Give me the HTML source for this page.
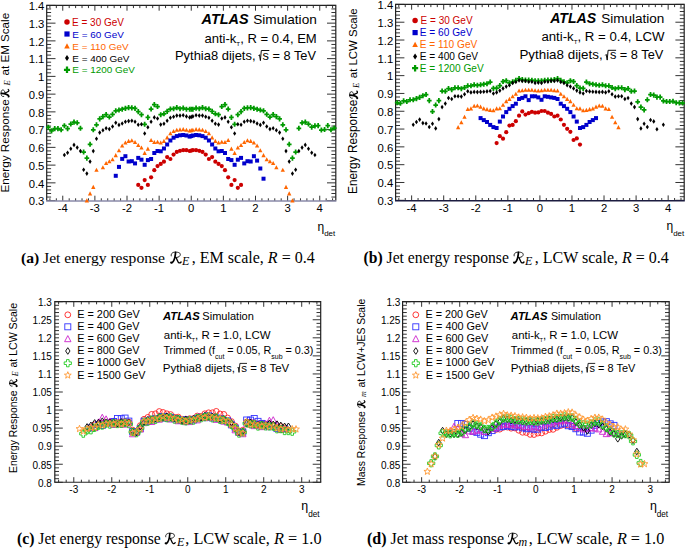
<!DOCTYPE html><html><head><meta charset="utf-8"><title>ATLAS jet response</title><style>html,body{margin:0;padding:0;background:#fff;width:685px;height:548px;overflow:hidden}svg{display:block}text{font-family:"Liberation Sans", sans-serif;fill:#000}</style></head><body>
<svg width="685" height="548" viewBox="0 0 685 548">
<rect width="685" height="548" fill="#fff"/>
<g id="gfx">
<path d="M46.7 200.6h8.8M335.8 200.6h-8.8M46.7 197.05h4.4M335.8 197.05h-4.4M46.7 193.5h4.4M335.8 193.5h-4.4M46.7 189.95h4.4M335.8 189.95h-4.4M46.7 186.4h4.4M335.8 186.4h-4.4M46.7 182.85h8.8M335.8 182.85h-8.8M46.7 179.31h4.4M335.8 179.31h-4.4M46.7 175.76h4.4M335.8 175.76h-4.4M46.7 172.21h4.4M335.8 172.21h-4.4M46.7 168.66h4.4M335.8 168.66h-4.4M46.7 165.11h8.8M335.8 165.11h-8.8M46.7 161.56h4.4M335.8 161.56h-4.4M46.7 158.01h4.4M335.8 158.01h-4.4M46.7 154.46h4.4M335.8 154.46h-4.4M46.7 150.91h4.4M335.8 150.91h-4.4M46.7 147.36h8.8M335.8 147.36h-8.8M46.7 143.81h4.4M335.8 143.81h-4.4M46.7 140.27h4.4M335.8 140.27h-4.4M46.7 136.72h4.4M335.8 136.72h-4.4M46.7 133.17h4.4M335.8 133.17h-4.4M46.7 129.62h8.8M335.8 129.62h-8.8M46.7 126.07h4.4M335.8 126.07h-4.4M46.7 122.52h4.4M335.8 122.52h-4.4M46.7 118.97h4.4M335.8 118.97h-4.4M46.7 115.42h4.4M335.8 115.42h-4.4M46.7 111.87h8.8M335.8 111.87h-8.8M46.7 108.32h4.4M335.8 108.32h-4.4M46.7 104.77h4.4M335.8 104.77h-4.4M46.7 101.23h4.4M335.8 101.23h-4.4M46.7 97.68h4.4M335.8 97.68h-4.4M46.7 94.13h8.8M335.8 94.13h-8.8M46.7 90.58h4.4M335.8 90.58h-4.4M46.7 87.03h4.4M335.8 87.03h-4.4M46.7 83.48h4.4M335.8 83.48h-4.4M46.7 79.93h4.4M335.8 79.93h-4.4M46.7 76.38h8.8M335.8 76.38h-8.8M46.7 72.83h4.4M335.8 72.83h-4.4M46.7 69.28h4.4M335.8 69.28h-4.4M46.7 65.73h4.4M335.8 65.73h-4.4M46.7 62.19h4.4M335.8 62.19h-4.4M46.7 58.64h8.8M335.8 58.64h-8.8M46.7 55.09h4.4M335.8 55.09h-4.4M46.7 51.54h4.4M335.8 51.54h-4.4M46.7 47.99h4.4M335.8 47.99h-4.4M46.7 44.44h4.4M335.8 44.44h-4.4M46.7 40.89h8.8M335.8 40.89h-8.8M46.7 37.34h4.4M335.8 37.34h-4.4M46.7 33.79h4.4M335.8 33.79h-4.4M46.7 30.24h4.4M335.8 30.24h-4.4M46.7 26.69h4.4M335.8 26.69h-4.4M46.7 23.15h8.8M335.8 23.15h-8.8M46.7 19.6h4.4M335.8 19.6h-4.4M46.7 16.05h4.4M335.8 16.05h-4.4M46.7 12.5h4.4M335.8 12.5h-4.4M46.7 8.95h4.4M335.8 8.95h-4.4M46.7 5.4h8.8M335.8 5.4h-8.8M49.91 201v-2.7M49.91 5.4v2.7M56.34 201v-2.7M56.34 5.4v2.7M62.76 201v-5.3M62.76 5.4v5.3M69.19 201v-2.7M69.19 5.4v2.7M75.61 201v-2.7M75.61 5.4v2.7M82.03 201v-2.7M82.03 5.4v2.7M88.46 201v-2.7M88.46 5.4v2.7M94.88 201v-5.3M94.88 5.4v5.3M101.31 201v-2.7M101.31 5.4v2.7M107.73 201v-2.7M107.73 5.4v2.7M114.16 201v-2.7M114.16 5.4v2.7M120.58 201v-2.7M120.58 5.4v2.7M127.01 201v-5.3M127.01 5.4v5.3M133.43 201v-2.7M133.43 5.4v2.7M139.85 201v-2.7M139.85 5.4v2.7M146.28 201v-2.7M146.28 5.4v2.7M152.7 201v-2.7M152.7 5.4v2.7M159.13 201v-5.3M159.13 5.4v5.3M165.55 201v-2.7M165.55 5.4v2.7M171.98 201v-2.7M171.98 5.4v2.7M178.4 201v-2.7M178.4 5.4v2.7M184.83 201v-2.7M184.83 5.4v2.7M191.25 201v-5.3M191.25 5.4v5.3M197.67 201v-2.7M197.67 5.4v2.7M204.1 201v-2.7M204.1 5.4v2.7M210.52 201v-2.7M210.52 5.4v2.7M216.95 201v-2.7M216.95 5.4v2.7M223.37 201v-5.3M223.37 5.4v5.3M229.8 201v-2.7M229.8 5.4v2.7M236.22 201v-2.7M236.22 5.4v2.7M242.65 201v-2.7M242.65 5.4v2.7M249.07 201v-2.7M249.07 5.4v2.7M255.49 201v-5.3M255.49 5.4v5.3M261.92 201v-2.7M261.92 5.4v2.7M268.34 201v-2.7M268.34 5.4v2.7M274.77 201v-2.7M274.77 5.4v2.7M281.19 201v-2.7M281.19 5.4v2.7M287.62 201v-5.3M287.62 5.4v5.3M294.04 201v-2.7M294.04 5.4v2.7M300.47 201v-2.7M300.47 5.4v2.7M306.89 201v-2.7M306.89 5.4v2.7M313.31 201v-2.7M313.31 5.4v2.7M319.74 201v-5.3M319.74 5.4v5.3M326.16 201v-2.7M326.16 5.4v2.7M332.59 201v-2.7M332.59 5.4v2.7" stroke="#333" stroke-width="1" fill="none"/>
<path d="M46.7 200.6V5.4H335.8V200.6" stroke="#222" stroke-width="1.2" fill="none"/>
<path d="M46.1 201H336.4" stroke="#8a8aa8" stroke-width="1.4" fill="none"/>
<g font-size="11.3"><text x="44.4" y="205.27" text-anchor="end">0.3</text><text x="44.4" y="187.52" text-anchor="end">0.4</text><text x="44.4" y="169.78" text-anchor="end">0.5</text><text x="44.4" y="152.03" text-anchor="end">0.6</text><text x="44.4" y="134.29" text-anchor="end">0.7</text><text x="44.4" y="116.54" text-anchor="end">0.8</text><text x="44.4" y="98.8" text-anchor="end">0.9</text><text x="44.4" y="81.05" text-anchor="end">1</text><text x="44.4" y="63.3" text-anchor="end">1.1</text><text x="44.4" y="45.56" text-anchor="end">1.2</text><text x="44.4" y="27.81" text-anchor="end">1.3</text><text x="44.4" y="10.07" text-anchor="end">1.4</text><text x="62.76" y="211.9" text-anchor="middle">-4</text><text x="94.88" y="211.9" text-anchor="middle">-3</text><text x="127.01" y="211.9" text-anchor="middle">-2</text><text x="159.13" y="211.9" text-anchor="middle">-1</text><text x="191.25" y="211.9" text-anchor="middle">0</text><text x="223.37" y="211.9" text-anchor="middle">1</text><text x="255.49" y="211.9" text-anchor="middle">2</text><text x="287.62" y="211.9" text-anchor="middle">3</text><text x="319.74" y="211.9" text-anchor="middle">4</text></g>
<g><path d="M187.29 109.2h4.7M189.64 106.65v5.1" stroke="#009900" stroke-width="1.75"/><path d="M188.9 109.2h4.7M191.25 106.65v5.1" stroke="#009900" stroke-width="1.75"/><path d="M190.51 109.2h4.7M192.86 106.65v5.1" stroke="#009900" stroke-width="1.75"/><path d="M184.08 109.2h4.7M186.43 106.65v5.1" stroke="#009900" stroke-width="1.75"/><path d="M193.72 108.1h4.7M196.07 105.55v5.1" stroke="#009900" stroke-width="1.75"/><path d="M180.87 108.1h4.7M183.22 105.55v5.1" stroke="#009900" stroke-width="1.75"/><path d="M196.93 108.7h4.7M199.28 106.15v5.1" stroke="#009900" stroke-width="1.75"/><path d="M177.66 108.7h4.7M180.01 106.15v5.1" stroke="#009900" stroke-width="1.75"/><path d="M200.14 107.6h4.7M202.49 105.05v5.1" stroke="#009900" stroke-width="1.75"/><path d="M174.44 107.6h4.7M176.79 105.05v5.1" stroke="#009900" stroke-width="1.75"/><path d="M203.36 108.7h4.7M205.71 106.15v5.1" stroke="#009900" stroke-width="1.75"/><path d="M171.23 108.7h4.7M173.58 106.15v5.1" stroke="#009900" stroke-width="1.75"/><path d="M206.57 109h4.7M208.92 106.45v5.1" stroke="#009900" stroke-width="1.75"/><path d="M168.02 109h4.7M170.37 106.45v5.1" stroke="#009900" stroke-width="1.75"/><path d="M209.78 111.4h4.7M212.13 108.85v5.1" stroke="#009900" stroke-width="1.75"/><path d="M164.81 111.4h4.7M167.16 108.85v5.1" stroke="#009900" stroke-width="1.75"/><path d="M212.99 113.8h4.7M215.34 111.25v5.1" stroke="#009900" stroke-width="1.75"/><path d="M161.6 113.8h4.7M163.95 111.25v5.1" stroke="#009900" stroke-width="1.75"/><path d="M216.2 114.7h4.7M218.55 112.15v5.1" stroke="#009900" stroke-width="1.75"/><path d="M158.38 114.7h4.7M160.73 112.15v5.1" stroke="#009900" stroke-width="1.75"/><path d="M219.42 106.5h4.7M221.77 103.95v5.1" stroke="#009900" stroke-width="1.75"/><path d="M155.17 106.5h4.7M157.52 103.95v5.1" stroke="#009900" stroke-width="1.75"/><path d="M222.63 104.6h4.7M224.98 102.05v5.1" stroke="#009900" stroke-width="1.75"/><path d="M151.96 104.6h4.7M154.31 102.05v5.1" stroke="#009900" stroke-width="1.75"/><path d="M225.84 109h4.7M228.19 106.45v5.1" stroke="#009900" stroke-width="1.75"/><path d="M148.75 109h4.7M151.1 106.45v5.1" stroke="#009900" stroke-width="1.75"/><path d="M229.05 117.4h4.7M231.4 114.85v5.1" stroke="#009900" stroke-width="1.75"/><path d="M145.53 117.4h4.7M147.88 114.85v5.1" stroke="#009900" stroke-width="1.75"/><path d="M232.27 124.3h4.7M234.62 121.75v5.1" stroke="#009900" stroke-width="1.75"/><path d="M142.32 124.3h4.7M144.67 121.75v5.1" stroke="#009900" stroke-width="1.75"/><path d="M235.48 114.7h4.7M237.83 112.15v5.1" stroke="#009900" stroke-width="1.75"/><path d="M139.11 114.7h4.7M141.46 112.15v5.1" stroke="#009900" stroke-width="1.75"/><path d="M238.69 111.6h4.7M241.04 109.05v5.1" stroke="#009900" stroke-width="1.75"/><path d="M135.9 111.6h4.7M138.25 109.05v5.1" stroke="#009900" stroke-width="1.75"/><path d="M241.9 108.4h4.7M244.25 105.85v5.1" stroke="#009900" stroke-width="1.75"/><path d="M132.69 108.4h4.7M135.04 105.85v5.1" stroke="#009900" stroke-width="1.75"/><path d="M245.11 107.9h4.7M247.46 105.35v5.1" stroke="#009900" stroke-width="1.75"/><path d="M129.47 107.9h4.7M131.82 105.35v5.1" stroke="#009900" stroke-width="1.75"/><path d="M248.33 107.6h4.7M250.68 105.05v5.1" stroke="#009900" stroke-width="1.75"/><path d="M126.26 107.6h4.7M128.61 105.05v5.1" stroke="#009900" stroke-width="1.75"/><path d="M251.54 108.4h4.7M253.89 105.85v5.1" stroke="#009900" stroke-width="1.75"/><path d="M123.05 108.4h4.7M125.4 105.85v5.1" stroke="#009900" stroke-width="1.75"/><path d="M254.75 109.2h4.7M257.1 106.65v5.1" stroke="#009900" stroke-width="1.75"/><path d="M119.84 109.2h4.7M122.19 106.65v5.1" stroke="#009900" stroke-width="1.75"/><path d="M257.96 110h4.7M260.31 107.45v5.1" stroke="#009900" stroke-width="1.75"/><path d="M116.62 110h4.7M118.97 107.45v5.1" stroke="#009900" stroke-width="1.75"/><path d="M261.17 110.8h4.7M263.52 108.25v5.1" stroke="#009900" stroke-width="1.75"/><path d="M113.41 110.8h4.7M115.76 108.25v5.1" stroke="#009900" stroke-width="1.75"/><path d="M264.39 114.3h4.7M266.74 111.75v5.1" stroke="#009900" stroke-width="1.75"/><path d="M110.2 114.3h4.7M112.55 111.75v5.1" stroke="#009900" stroke-width="1.75"/><path d="M267.6 117h4.7M269.95 114.45v5.1" stroke="#009900" stroke-width="1.75"/><path d="M106.99 117h4.7M109.34 114.45v5.1" stroke="#009900" stroke-width="1.75"/><path d="M270.81 114.6h4.7M273.16 112.05v5.1" stroke="#009900" stroke-width="1.75"/><path d="M103.78 114.6h4.7M106.13 112.05v5.1" stroke="#009900" stroke-width="1.75"/><path d="M274.02 116.6h4.7M276.37 114.05v5.1" stroke="#009900" stroke-width="1.75"/><path d="M100.56 116.6h4.7M102.91 114.05v5.1" stroke="#009900" stroke-width="1.75"/><path d="M277.24 118.9h4.7M279.59 116.35v5.1" stroke="#009900" stroke-width="1.75"/><path d="M97.35 118.9h4.7M99.7 116.35v5.1" stroke="#009900" stroke-width="1.75"/><path d="M280.45 124.8h4.7M282.8 122.25v5.1" stroke="#009900" stroke-width="1.75"/><path d="M94.14 124.8h4.7M96.49 122.25v5.1" stroke="#009900" stroke-width="1.75"/><path d="M283.66 129.8h4.7M286.01 127.25v5.1" stroke="#009900" stroke-width="1.75"/><path d="M90.93 129.8h4.7M93.28 127.25v5.1" stroke="#009900" stroke-width="1.75"/><path d="M286.87 144.3h4.7M289.22 141.75v5.1" stroke="#009900" stroke-width="1.75"/><path d="M87.71 144.3h4.7M90.06 141.75v5.1" stroke="#009900" stroke-width="1.75"/><path d="M290.08 158.1h4.7M292.44 155.55v5.1" stroke="#009900" stroke-width="1.75"/><path d="M84.5 158.1h4.7M86.85 155.55v5.1" stroke="#009900" stroke-width="1.75"/><path d="M293.3 152h4.7M295.65 149.45v5.1" stroke="#009900" stroke-width="1.75"/><path d="M81.29 152h4.7M83.64 149.45v5.1" stroke="#009900" stroke-width="1.75"/><path d="M296.51 128.3h4.7M298.86 125.75v5.1" stroke="#009900" stroke-width="1.75"/><path d="M78.08 128.3h4.7M80.43 125.75v5.1" stroke="#009900" stroke-width="1.75"/><path d="M299.72 122.8h4.7M302.07 120.25v5.1" stroke="#009900" stroke-width="1.75"/><path d="M74.87 122.8h4.7M77.22 120.25v5.1" stroke="#009900" stroke-width="1.75"/><path d="M302.93 122.1h4.7M305.28 119.55v5.1" stroke="#009900" stroke-width="1.75"/><path d="M71.65 122.1h4.7M74 119.55v5.1" stroke="#009900" stroke-width="1.75"/><path d="M306.15 124h4.7M308.5 121.45v5.1" stroke="#009900" stroke-width="1.75"/><path d="M68.44 124h4.7M70.79 121.45v5.1" stroke="#009900" stroke-width="1.75"/><path d="M309.36 127.1h4.7M311.71 124.55v5.1" stroke="#009900" stroke-width="1.75"/><path d="M65.23 128.6h4.7M67.58 126.05v5.1" stroke="#009900" stroke-width="1.75"/><path d="M312.57 125.9h4.7M314.92 123.35v5.1" stroke="#009900" stroke-width="1.75"/><path d="M62.02 125.7h4.7M64.37 123.15v5.1" stroke="#009900" stroke-width="1.75"/><path d="M315.78 125.6h4.7M318.13 123.05v5.1" stroke="#009900" stroke-width="1.75"/><path d="M58.8 129.8h4.7M61.15 127.25v5.1" stroke="#009900" stroke-width="1.75"/><path d="M319 130h4.7M321.35 127.45v5.1" stroke="#009900" stroke-width="1.75"/><path d="M55.59 128.6h4.7M57.94 126.05v5.1" stroke="#009900" stroke-width="1.75"/><path d="M322.21 129.5h4.7M324.56 126.95v5.1" stroke="#009900" stroke-width="1.75"/><path d="M52.38 128.6h4.7M54.73 126.05v5.1" stroke="#009900" stroke-width="1.75"/><path d="M325.42 125.6h4.7M327.77 123.05v5.1" stroke="#009900" stroke-width="1.75"/><path d="M49.17 130.9h4.7M51.52 128.35v5.1" stroke="#009900" stroke-width="1.75"/><path d="M328.63 129.8h4.7M330.98 127.25v5.1" stroke="#009900" stroke-width="1.75"/><path d="M45.96 127.4h4.7M48.31 124.85v5.1" stroke="#009900" stroke-width="1.75"/><path d="M331.84 128h4.7M334.19 125.45v5.1" stroke="#009900" stroke-width="1.75"/></g>
<g><path d="M189.64 115.1l1.55 2.3l-1.55 2.3l-1.55 -2.3z" fill="#000"/><path d="M191.25 114.6l1.55 2.3l-1.55 2.3l-1.55 -2.3z" fill="#000"/><path d="M192.86 114.1l1.55 2.3l-1.55 2.3l-1.55 -2.3z" fill="#000"/><path d="M186.43 114.1l1.55 2.3l-1.55 2.3l-1.55 -2.3z" fill="#000"/><path d="M196.07 113l1.55 2.3l-1.55 2.3l-1.55 -2.3z" fill="#000"/><path d="M183.22 113l1.55 2.3l-1.55 2.3l-1.55 -2.3z" fill="#000"/><path d="M199.28 113.3l1.55 2.3l-1.55 2.3l-1.55 -2.3z" fill="#000"/><path d="M180.01 113.3l1.55 2.3l-1.55 2.3l-1.55 -2.3z" fill="#000"/><path d="M202.49 113.3l1.55 2.3l-1.55 2.3l-1.55 -2.3z" fill="#000"/><path d="M176.79 113.3l1.55 2.3l-1.55 2.3l-1.55 -2.3z" fill="#000"/><path d="M205.71 114.4l1.55 2.3l-1.55 2.3l-1.55 -2.3z" fill="#000"/><path d="M173.58 114.4l1.55 2.3l-1.55 2.3l-1.55 -2.3z" fill="#000"/><path d="M208.92 115.5l1.55 2.3l-1.55 2.3l-1.55 -2.3z" fill="#000"/><path d="M170.37 115.5l1.55 2.3l-1.55 2.3l-1.55 -2.3z" fill="#000"/><path d="M212.13 118.4l1.55 2.3l-1.55 2.3l-1.55 -2.3z" fill="#000"/><path d="M167.16 118.4l1.55 2.3l-1.55 2.3l-1.55 -2.3z" fill="#000"/><path d="M215.34 121.4l1.55 2.3l-1.55 2.3l-1.55 -2.3z" fill="#000"/><path d="M163.95 121.4l1.55 2.3l-1.55 2.3l-1.55 -2.3z" fill="#000"/><path d="M218.55 122.3l1.55 2.3l-1.55 2.3l-1.55 -2.3z" fill="#000"/><path d="M160.73 122.3l1.55 2.3l-1.55 2.3l-1.55 -2.3z" fill="#000"/><path d="M221.77 116.2l1.55 2.3l-1.55 2.3l-1.55 -2.3z" fill="#000"/><path d="M157.52 116.2l1.55 2.3l-1.55 2.3l-1.55 -2.3z" fill="#000"/><path d="M224.98 115.1l1.55 2.3l-1.55 2.3l-1.55 -2.3z" fill="#000"/><path d="M154.31 115.1l1.55 2.3l-1.55 2.3l-1.55 -2.3z" fill="#000"/><path d="M228.19 119.5l1.55 2.3l-1.55 2.3l-1.55 -2.3z" fill="#000"/><path d="M151.1 119.5l1.55 2.3l-1.55 2.3l-1.55 -2.3z" fill="#000"/><path d="M231.4 125l1.55 2.3l-1.55 2.3l-1.55 -2.3z" fill="#000"/><path d="M147.88 125l1.55 2.3l-1.55 2.3l-1.55 -2.3z" fill="#000"/><path d="M234.62 131.2l1.55 2.3l-1.55 2.3l-1.55 -2.3z" fill="#000"/><path d="M144.67 131.2l1.55 2.3l-1.55 2.3l-1.55 -2.3z" fill="#000"/><path d="M237.83 122l1.55 2.3l-1.55 2.3l-1.55 -2.3z" fill="#000"/><path d="M141.46 122l1.55 2.3l-1.55 2.3l-1.55 -2.3z" fill="#000"/><path d="M241.04 122.5l1.55 2.3l-1.55 2.3l-1.55 -2.3z" fill="#000"/><path d="M138.25 122.5l1.55 2.3l-1.55 2.3l-1.55 -2.3z" fill="#000"/><path d="M244.25 119.5l1.55 2.3l-1.55 2.3l-1.55 -2.3z" fill="#000"/><path d="M135.04 119.5l1.55 2.3l-1.55 2.3l-1.55 -2.3z" fill="#000"/><path d="M247.46 118.4l1.55 2.3l-1.55 2.3l-1.55 -2.3z" fill="#000"/><path d="M131.82 118.4l1.55 2.3l-1.55 2.3l-1.55 -2.3z" fill="#000"/><path d="M250.68 118.8l1.55 2.3l-1.55 2.3l-1.55 -2.3z" fill="#000"/><path d="M128.61 118.8l1.55 2.3l-1.55 2.3l-1.55 -2.3z" fill="#000"/><path d="M253.89 119.5l1.55 2.3l-1.55 2.3l-1.55 -2.3z" fill="#000"/><path d="M125.4 119.5l1.55 2.3l-1.55 2.3l-1.55 -2.3z" fill="#000"/><path d="M257.1 121.2l1.55 2.3l-1.55 2.3l-1.55 -2.3z" fill="#000"/><path d="M122.19 121.2l1.55 2.3l-1.55 2.3l-1.55 -2.3z" fill="#000"/><path d="M260.31 122.6l1.55 2.3l-1.55 2.3l-1.55 -2.3z" fill="#000"/><path d="M118.97 122.6l1.55 2.3l-1.55 2.3l-1.55 -2.3z" fill="#000"/><path d="M263.52 120.5l1.55 2.3l-1.55 2.3l-1.55 -2.3z" fill="#000"/><path d="M115.76 120.5l1.55 2.3l-1.55 2.3l-1.55 -2.3z" fill="#000"/><path d="M266.74 124.2l1.55 2.3l-1.55 2.3l-1.55 -2.3z" fill="#000"/><path d="M112.55 124.2l1.55 2.3l-1.55 2.3l-1.55 -2.3z" fill="#000"/><path d="M269.95 126.8l1.55 2.3l-1.55 2.3l-1.55 -2.3z" fill="#000"/><path d="M109.34 126.8l1.55 2.3l-1.55 2.3l-1.55 -2.3z" fill="#000"/><path d="M273.16 126l1.55 2.3l-1.55 2.3l-1.55 -2.3z" fill="#000"/><path d="M106.13 126l1.55 2.3l-1.55 2.3l-1.55 -2.3z" fill="#000"/><path d="M276.37 128l1.55 2.3l-1.55 2.3l-1.55 -2.3z" fill="#000"/><path d="M102.91 128l1.55 2.3l-1.55 2.3l-1.55 -2.3z" fill="#000"/><path d="M279.59 130.3l1.55 2.3l-1.55 2.3l-1.55 -2.3z" fill="#000"/><path d="M99.7 130.3l1.55 2.3l-1.55 2.3l-1.55 -2.3z" fill="#000"/><path d="M282.8 136.5l1.55 2.3l-1.55 2.3l-1.55 -2.3z" fill="#000"/><path d="M96.49 136.5l1.55 2.3l-1.55 2.3l-1.55 -2.3z" fill="#000"/><path d="M286.01 148.8l1.55 2.3l-1.55 2.3l-1.55 -2.3z" fill="#000"/><path d="M93.28 148.8l1.55 2.3l-1.55 2.3l-1.55 -2.3z" fill="#000"/><path d="M289.22 159.3l1.55 2.3l-1.55 2.3l-1.55 -2.3z" fill="#000"/><path d="M90.06 159.3l1.55 2.3l-1.55 2.3l-1.55 -2.3z" fill="#000"/><path d="M292.44 171.3l1.55 2.3l-1.55 2.3l-1.55 -2.3z" fill="#000"/><path d="M86.85 171.3l1.55 2.3l-1.55 2.3l-1.55 -2.3z" fill="#000"/><path d="M295.65 167.5l1.55 2.3l-1.55 2.3l-1.55 -2.3z" fill="#000"/><path d="M83.64 167.5l1.55 2.3l-1.55 2.3l-1.55 -2.3z" fill="#000"/><path d="M298.86 148.8l1.55 2.3l-1.55 2.3l-1.55 -2.3z" fill="#000"/><path d="M80.43 148.8l1.55 2.3l-1.55 2.3l-1.55 -2.3z" fill="#000"/><path d="M302.07 145.3l1.55 2.3l-1.55 2.3l-1.55 -2.3z" fill="#000"/><path d="M77.22 145.3l1.55 2.3l-1.55 2.3l-1.55 -2.3z" fill="#000"/><path d="M305.28 142.6l1.55 2.3l-1.55 2.3l-1.55 -2.3z" fill="#000"/><path d="M74 142.6l1.55 2.3l-1.55 2.3l-1.55 -2.3z" fill="#000"/><path d="M308.5 146.5l1.55 2.3l-1.55 2.3l-1.55 -2.3z" fill="#000"/><path d="M70.79 146.5l1.55 2.3l-1.55 2.3l-1.55 -2.3z" fill="#000"/><path d="M311.71 150.5l1.55 2.3l-1.55 2.3l-1.55 -2.3z" fill="#000"/><path d="M67.58 150.5l1.55 2.3l-1.55 2.3l-1.55 -2.3z" fill="#000"/><path d="M314.92 152.7l1.55 2.3l-1.55 2.3l-1.55 -2.3z" fill="#000"/><path d="M64.37 152.7l1.55 2.3l-1.55 2.3l-1.55 -2.3z" fill="#000"/></g>
<g><path d="M189.64 128.45l2.15 4.1h-4.3z" fill="#ff6600"/><path d="M191.25 128.05l2.15 4.1h-4.3z" fill="#ff6600"/><path d="M192.86 127.65l2.15 4.1h-4.3z" fill="#ff6600"/><path d="M186.43 127.65l2.15 4.1h-4.3z" fill="#ff6600"/><path d="M196.07 127.05l2.15 4.1h-4.3z" fill="#ff6600"/><path d="M183.22 127.05l2.15 4.1h-4.3z" fill="#ff6600"/><path d="M199.28 127.35l2.15 4.1h-4.3z" fill="#ff6600"/><path d="M180.01 127.35l2.15 4.1h-4.3z" fill="#ff6600"/><path d="M202.49 127.65l2.15 4.1h-4.3z" fill="#ff6600"/><path d="M176.79 127.65l2.15 4.1h-4.3z" fill="#ff6600"/><path d="M205.71 128.95l2.15 4.1h-4.3z" fill="#ff6600"/><path d="M173.58 128.95l2.15 4.1h-4.3z" fill="#ff6600"/><path d="M208.92 131.15l2.15 4.1h-4.3z" fill="#ff6600"/><path d="M170.37 131.15l2.15 4.1h-4.3z" fill="#ff6600"/><path d="M212.13 135.35l2.15 4.1h-4.3z" fill="#ff6600"/><path d="M167.16 135.35l2.15 4.1h-4.3z" fill="#ff6600"/><path d="M215.34 138.85l2.15 4.1h-4.3z" fill="#ff6600"/><path d="M163.95 138.85l2.15 4.1h-4.3z" fill="#ff6600"/><path d="M218.55 140.45l2.15 4.1h-4.3z" fill="#ff6600"/><path d="M160.73 140.45l2.15 4.1h-4.3z" fill="#ff6600"/><path d="M221.77 139.75l2.15 4.1h-4.3z" fill="#ff6600"/><path d="M157.52 139.75l2.15 4.1h-4.3z" fill="#ff6600"/><path d="M224.98 139.95l2.15 4.1h-4.3z" fill="#ff6600"/><path d="M154.31 139.95l2.15 4.1h-4.3z" fill="#ff6600"/><path d="M228.19 137.95l2.15 4.1h-4.3z" fill="#ff6600"/><path d="M151.1 137.95l2.15 4.1h-4.3z" fill="#ff6600"/><path d="M231.4 146.55l2.15 4.1h-4.3z" fill="#ff6600"/><path d="M147.88 146.55l2.15 4.1h-4.3z" fill="#ff6600"/><path d="M234.62 150.85l2.15 4.1h-4.3z" fill="#ff6600"/><path d="M144.67 150.85l2.15 4.1h-4.3z" fill="#ff6600"/><path d="M237.83 145.45l2.15 4.1h-4.3z" fill="#ff6600"/><path d="M141.46 145.45l2.15 4.1h-4.3z" fill="#ff6600"/><path d="M241.04 142.95l2.15 4.1h-4.3z" fill="#ff6600"/><path d="M138.25 142.95l2.15 4.1h-4.3z" fill="#ff6600"/><path d="M244.25 139.95l2.15 4.1h-4.3z" fill="#ff6600"/><path d="M135.04 139.95l2.15 4.1h-4.3z" fill="#ff6600"/><path d="M247.46 138.25l2.15 4.1h-4.3z" fill="#ff6600"/><path d="M131.82 138.25l2.15 4.1h-4.3z" fill="#ff6600"/><path d="M250.68 138.85l2.15 4.1h-4.3z" fill="#ff6600"/><path d="M128.61 138.85l2.15 4.1h-4.3z" fill="#ff6600"/><path d="M253.89 140.45l2.15 4.1h-4.3z" fill="#ff6600"/><path d="M125.4 140.45l2.15 4.1h-4.3z" fill="#ff6600"/><path d="M257.1 143.45l2.15 4.1h-4.3z" fill="#ff6600"/><path d="M122.19 143.45l2.15 4.1h-4.3z" fill="#ff6600"/><path d="M260.31 148.15l2.15 4.1h-4.3z" fill="#ff6600"/><path d="M118.97 148.15l2.15 4.1h-4.3z" fill="#ff6600"/><path d="M263.52 153.05l2.15 4.1h-4.3z" fill="#ff6600"/><path d="M115.76 153.05l2.15 4.1h-4.3z" fill="#ff6600"/><path d="M266.74 157.15l2.15 4.1h-4.3z" fill="#ff6600"/><path d="M112.55 157.15l2.15 4.1h-4.3z" fill="#ff6600"/><path d="M269.95 159.15l2.15 4.1h-4.3z" fill="#ff6600"/><path d="M109.34 159.15l2.15 4.1h-4.3z" fill="#ff6600"/><path d="M273.16 160.95l2.15 4.1h-4.3z" fill="#ff6600"/><path d="M106.13 160.95l2.15 4.1h-4.3z" fill="#ff6600"/><path d="M276.37 165.25l2.15 4.1h-4.3z" fill="#ff6600"/><path d="M102.91 165.25l2.15 4.1h-4.3z" fill="#ff6600"/><path d="M282.8 167.65l2.15 4.1h-4.3z" fill="#ff6600"/><path d="M96.49 167.65l2.15 4.1h-4.3z" fill="#ff6600"/><path d="M286.01 184.85l2.15 4.1h-4.3z" fill="#ff6600"/><path d="M93.28 184.85l2.15 4.1h-4.3z" fill="#ff6600"/><path d="M289.22 191.35l2.15 4.1h-4.3z" fill="#ff6600"/><path d="M90.06 191.35l2.15 4.1h-4.3z" fill="#ff6600"/><path d="M292.44 198.35l2.15 4.1h-4.3z" fill="#ff6600"/><path d="M86.85 198.35l2.15 4.1h-4.3z" fill="#ff6600"/></g>
<g><rect x="187.64" y="134.6" width="4" height="4" fill="#0000cc"/><rect x="189.25" y="134.05" width="4" height="4" fill="#0000cc"/><rect x="190.86" y="133.5" width="4" height="4" fill="#0000cc"/><rect x="184.43" y="133.5" width="4" height="4" fill="#0000cc"/><rect x="194.07" y="133" width="4" height="4" fill="#0000cc"/><rect x="181.22" y="133" width="4" height="4" fill="#0000cc"/><rect x="197.28" y="133.3" width="4" height="4" fill="#0000cc"/><rect x="178.01" y="133.3" width="4" height="4" fill="#0000cc"/><rect x="200.49" y="134.1" width="4" height="4" fill="#0000cc"/><rect x="174.79" y="134.1" width="4" height="4" fill="#0000cc"/><rect x="203.71" y="135.7" width="4" height="4" fill="#0000cc"/><rect x="171.58" y="135.7" width="4" height="4" fill="#0000cc"/><rect x="206.92" y="138.5" width="4" height="4" fill="#0000cc"/><rect x="168.37" y="138.5" width="4" height="4" fill="#0000cc"/><rect x="210.13" y="142.5" width="4" height="4" fill="#0000cc"/><rect x="165.16" y="142.5" width="4" height="4" fill="#0000cc"/><rect x="213.34" y="146.5" width="4" height="4" fill="#0000cc"/><rect x="161.95" y="146.5" width="4" height="4" fill="#0000cc"/><rect x="216.55" y="149.3" width="4" height="4" fill="#0000cc"/><rect x="158.73" y="149.3" width="4" height="4" fill="#0000cc"/><rect x="219.77" y="149" width="4" height="4" fill="#0000cc"/><rect x="155.52" y="149" width="4" height="4" fill="#0000cc"/><rect x="222.98" y="151" width="4" height="4" fill="#0000cc"/><rect x="152.31" y="151" width="4" height="4" fill="#0000cc"/><rect x="226.19" y="157" width="4" height="4" fill="#0000cc"/><rect x="149.1" y="157" width="4" height="4" fill="#0000cc"/><rect x="229.4" y="158.1" width="4" height="4" fill="#0000cc"/><rect x="145.88" y="158.1" width="4" height="4" fill="#0000cc"/><rect x="232.62" y="162.8" width="4" height="4" fill="#0000cc"/><rect x="142.67" y="162.8" width="4" height="4" fill="#0000cc"/><rect x="235.83" y="157.7" width="4" height="4" fill="#0000cc"/><rect x="139.46" y="157.7" width="4" height="4" fill="#0000cc"/><rect x="239.04" y="155.9" width="4" height="4" fill="#0000cc"/><rect x="136.25" y="155.9" width="4" height="4" fill="#0000cc"/><rect x="242.25" y="161.4" width="4" height="4" fill="#0000cc"/><rect x="133.04" y="161.4" width="4" height="4" fill="#0000cc"/><rect x="245.46" y="159.2" width="4" height="4" fill="#0000cc"/><rect x="129.82" y="159.2" width="4" height="4" fill="#0000cc"/><rect x="248.68" y="159.5" width="4" height="4" fill="#0000cc"/><rect x="126.61" y="159.5" width="4" height="4" fill="#0000cc"/><rect x="251.89" y="154.2" width="4" height="4" fill="#0000cc"/><rect x="123.4" y="154.2" width="4" height="4" fill="#0000cc"/><rect x="255.1" y="158.6" width="4" height="4" fill="#0000cc"/><rect x="120.19" y="156.9" width="4" height="4" fill="#0000cc"/><rect x="258.31" y="166.5" width="4" height="4" fill="#0000cc"/><rect x="116.97" y="164.9" width="4" height="4" fill="#0000cc"/><rect x="261.52" y="176.7" width="4" height="4" fill="#0000cc"/><rect x="113.76" y="173.8" width="4" height="4" fill="#0000cc"/></g>
<g><circle cx="189.64" cy="151" r="2.1" fill="#cc0000"/><circle cx="191.25" cy="150.6" r="2.1" fill="#cc0000"/><circle cx="192.86" cy="150.2" r="2.1" fill="#cc0000"/><circle cx="186.43" cy="150.2" r="2.1" fill="#cc0000"/><circle cx="196.07" cy="150.2" r="2.1" fill="#cc0000"/><circle cx="183.22" cy="150.2" r="2.1" fill="#cc0000"/><circle cx="199.28" cy="150.8" r="2.1" fill="#cc0000"/><circle cx="180.01" cy="150.8" r="2.1" fill="#cc0000"/><circle cx="202.49" cy="151.9" r="2.1" fill="#cc0000"/><circle cx="176.79" cy="151.9" r="2.1" fill="#cc0000"/><circle cx="205.71" cy="154.6" r="2.1" fill="#cc0000"/><circle cx="173.58" cy="154.6" r="2.1" fill="#cc0000"/><circle cx="208.92" cy="159" r="2.1" fill="#cc0000"/><circle cx="170.37" cy="159" r="2.1" fill="#cc0000"/><circle cx="212.13" cy="157.1" r="2.1" fill="#cc0000"/><circle cx="167.16" cy="157.1" r="2.1" fill="#cc0000"/><circle cx="215.34" cy="161.7" r="2.1" fill="#cc0000"/><circle cx="163.95" cy="161.7" r="2.1" fill="#cc0000"/><circle cx="218.55" cy="163.9" r="2.1" fill="#cc0000"/><circle cx="160.73" cy="163.9" r="2.1" fill="#cc0000"/><circle cx="221.77" cy="166.1" r="2.1" fill="#cc0000"/><circle cx="157.52" cy="166.1" r="2.1" fill="#cc0000"/><circle cx="224.98" cy="170.2" r="2.1" fill="#cc0000"/><circle cx="154.31" cy="170.2" r="2.1" fill="#cc0000"/><circle cx="228.19" cy="177.3" r="2.1" fill="#cc0000"/><circle cx="151.1" cy="177.3" r="2.1" fill="#cc0000"/><circle cx="231.4" cy="184.9" r="2.1" fill="#cc0000"/><circle cx="147.88" cy="184.9" r="2.1" fill="#cc0000"/><circle cx="234.62" cy="180.1" r="2.1" fill="#cc0000"/><circle cx="144.67" cy="180.1" r="2.1" fill="#cc0000"/><circle cx="237.83" cy="187.8" r="2.1" fill="#cc0000"/><circle cx="141.46" cy="187.8" r="2.1" fill="#cc0000"/><circle cx="241.04" cy="184.9" r="2.1" fill="#cc0000"/><circle cx="138.25" cy="184.9" r="2.1" fill="#cc0000"/></g>
<path d="M395.6 200.3h8.8M684.2 200.3h-8.8M395.6 196.74h4.4M684.2 196.74h-4.4M395.6 193.18h4.4M684.2 193.18h-4.4M395.6 189.61h4.4M684.2 189.61h-4.4M395.6 186.05h4.4M684.2 186.05h-4.4M395.6 182.49h8.8M684.2 182.49h-8.8M395.6 178.93h4.4M684.2 178.93h-4.4M395.6 175.37h4.4M684.2 175.37h-4.4M395.6 171.81h4.4M684.2 171.81h-4.4M395.6 168.24h4.4M684.2 168.24h-4.4M395.6 164.68h8.8M684.2 164.68h-8.8M395.6 161.12h4.4M684.2 161.12h-4.4M395.6 157.56h4.4M684.2 157.56h-4.4M395.6 154h4.4M684.2 154h-4.4M395.6 150.43h4.4M684.2 150.43h-4.4M395.6 146.87h8.8M684.2 146.87h-8.8M395.6 143.31h4.4M684.2 143.31h-4.4M395.6 139.75h4.4M684.2 139.75h-4.4M395.6 136.19h4.4M684.2 136.19h-4.4M395.6 132.63h4.4M684.2 132.63h-4.4M395.6 129.06h8.8M684.2 129.06h-8.8M395.6 125.5h4.4M684.2 125.5h-4.4M395.6 121.94h4.4M684.2 121.94h-4.4M395.6 118.38h4.4M684.2 118.38h-4.4M395.6 114.82h4.4M684.2 114.82h-4.4M395.6 111.25h8.8M684.2 111.25h-8.8M395.6 107.69h4.4M684.2 107.69h-4.4M395.6 104.13h4.4M684.2 104.13h-4.4M395.6 100.57h4.4M684.2 100.57h-4.4M395.6 97.01h4.4M684.2 97.01h-4.4M395.6 93.45h8.8M684.2 93.45h-8.8M395.6 89.88h4.4M684.2 89.88h-4.4M395.6 86.32h4.4M684.2 86.32h-4.4M395.6 82.76h4.4M684.2 82.76h-4.4M395.6 79.2h4.4M684.2 79.2h-4.4M395.6 75.64h8.8M684.2 75.64h-8.8M395.6 72.07h4.4M684.2 72.07h-4.4M395.6 68.51h4.4M684.2 68.51h-4.4M395.6 64.95h4.4M684.2 64.95h-4.4M395.6 61.39h4.4M684.2 61.39h-4.4M395.6 57.83h8.8M684.2 57.83h-8.8M395.6 54.27h4.4M684.2 54.27h-4.4M395.6 50.7h4.4M684.2 50.7h-4.4M395.6 47.14h4.4M684.2 47.14h-4.4M395.6 43.58h4.4M684.2 43.58h-4.4M395.6 40.02h8.8M684.2 40.02h-8.8M395.6 36.46h4.4M684.2 36.46h-4.4M395.6 32.89h4.4M684.2 32.89h-4.4M395.6 29.33h4.4M684.2 29.33h-4.4M395.6 25.77h4.4M684.2 25.77h-4.4M395.6 22.21h8.8M684.2 22.21h-8.8M395.6 18.65h4.4M684.2 18.65h-4.4M395.6 15.09h4.4M684.2 15.09h-4.4M395.6 11.52h4.4M684.2 11.52h-4.4M395.6 7.96h4.4M684.2 7.96h-4.4M395.6 4.4h8.8M684.2 4.4h-8.8M398.81 200.7v-2.7M398.81 4.4v2.7M405.22 200.7v-2.7M405.22 4.4v2.7M411.63 200.7v-5.3M411.63 4.4v5.3M418.05 200.7v-2.7M418.05 4.4v2.7M424.46 200.7v-2.7M424.46 4.4v2.7M430.87 200.7v-2.7M430.87 4.4v2.7M437.29 200.7v-2.7M437.29 4.4v2.7M443.7 200.7v-5.3M443.7 4.4v5.3M450.11 200.7v-2.7M450.11 4.4v2.7M456.53 200.7v-2.7M456.53 4.4v2.7M462.94 200.7v-2.7M462.94 4.4v2.7M469.35 200.7v-2.7M469.35 4.4v2.7M475.77 200.7v-5.3M475.77 4.4v5.3M482.18 200.7v-2.7M482.18 4.4v2.7M488.59 200.7v-2.7M488.59 4.4v2.7M495.01 200.7v-2.7M495.01 4.4v2.7M501.42 200.7v-2.7M501.42 4.4v2.7M507.83 200.7v-5.3M507.83 4.4v5.3M514.25 200.7v-2.7M514.25 4.4v2.7M520.66 200.7v-2.7M520.66 4.4v2.7M527.07 200.7v-2.7M527.07 4.4v2.7M533.49 200.7v-2.7M533.49 4.4v2.7M539.9 200.7v-5.3M539.9 4.4v5.3M546.31 200.7v-2.7M546.31 4.4v2.7M552.73 200.7v-2.7M552.73 4.4v2.7M559.14 200.7v-2.7M559.14 4.4v2.7M565.55 200.7v-2.7M565.55 4.4v2.7M571.97 200.7v-5.3M571.97 4.4v5.3M578.38 200.7v-2.7M578.38 4.4v2.7M584.79 200.7v-2.7M584.79 4.4v2.7M591.21 200.7v-2.7M591.21 4.4v2.7M597.62 200.7v-2.7M597.62 4.4v2.7M604.03 200.7v-5.3M604.03 4.4v5.3M610.45 200.7v-2.7M610.45 4.4v2.7M616.86 200.7v-2.7M616.86 4.4v2.7M623.27 200.7v-2.7M623.27 4.4v2.7M629.69 200.7v-2.7M629.69 4.4v2.7M636.1 200.7v-5.3M636.1 4.4v5.3M642.51 200.7v-2.7M642.51 4.4v2.7M648.93 200.7v-2.7M648.93 4.4v2.7M655.34 200.7v-2.7M655.34 4.4v2.7M661.75 200.7v-2.7M661.75 4.4v2.7M668.17 200.7v-5.3M668.17 4.4v5.3M674.58 200.7v-2.7M674.58 4.4v2.7M680.99 200.7v-2.7M680.99 4.4v2.7" stroke="#333" stroke-width="1" fill="none"/>
<path d="M395.6 200.3V4.4H684.2V200.3" stroke="#222" stroke-width="1.2" fill="none"/>
<path d="M395 200.7H684.8" stroke="#1c1c40" stroke-width="1.4" fill="none"/>
<g font-size="11.3"><text x="393.3" y="204.97" text-anchor="end">0.3</text><text x="393.3" y="187.16" text-anchor="end">0.4</text><text x="393.3" y="169.35" text-anchor="end">0.5</text><text x="393.3" y="151.54" text-anchor="end">0.6</text><text x="393.3" y="133.73" text-anchor="end">0.7</text><text x="393.3" y="115.92" text-anchor="end">0.8</text><text x="393.3" y="98.11" text-anchor="end">0.9</text><text x="393.3" y="80.3" text-anchor="end">1</text><text x="393.3" y="62.5" text-anchor="end">1.1</text><text x="393.3" y="44.69" text-anchor="end">1.2</text><text x="393.3" y="26.88" text-anchor="end">1.3</text><text x="393.3" y="9.07" text-anchor="end">1.4</text><text x="411.63" y="211.6" text-anchor="middle">-4</text><text x="443.7" y="211.6" text-anchor="middle">-3</text><text x="475.77" y="211.6" text-anchor="middle">-2</text><text x="507.83" y="211.6" text-anchor="middle">-1</text><text x="539.9" y="211.6" text-anchor="middle">0</text><text x="571.97" y="211.6" text-anchor="middle">1</text><text x="604.03" y="211.6" text-anchor="middle">2</text><text x="636.1" y="211.6" text-anchor="middle">3</text><text x="668.17" y="211.6" text-anchor="middle">4</text></g>
<g><path d="M535.95 80.9h4.7M538.3 78.35v5.1" stroke="#009900" stroke-width="1.75"/><path d="M539.15 80.7h4.7M541.5 78.15v5.1" stroke="#009900" stroke-width="1.75"/><path d="M532.74 80.7h4.7M535.09 78.15v5.1" stroke="#009900" stroke-width="1.75"/><path d="M542.36 80.4h4.7M544.71 77.85v5.1" stroke="#009900" stroke-width="1.75"/><path d="M529.53 80.4h4.7M531.88 77.85v5.1" stroke="#009900" stroke-width="1.75"/><path d="M545.57 80.1h4.7M547.92 77.55v5.1" stroke="#009900" stroke-width="1.75"/><path d="M526.33 80.1h4.7M528.68 77.55v5.1" stroke="#009900" stroke-width="1.75"/><path d="M548.77 80.1h4.7M551.12 77.55v5.1" stroke="#009900" stroke-width="1.75"/><path d="M523.12 80.1h4.7M525.47 77.55v5.1" stroke="#009900" stroke-width="1.75"/><path d="M551.98 79.6h4.7M554.33 77.05v5.1" stroke="#009900" stroke-width="1.75"/><path d="M519.91 79.6h4.7M522.26 77.05v5.1" stroke="#009900" stroke-width="1.75"/><path d="M555.19 78.5h4.7M557.54 75.95v5.1" stroke="#009900" stroke-width="1.75"/><path d="M516.71 78.5h4.7M519.06 75.95v5.1" stroke="#009900" stroke-width="1.75"/><path d="M558.39 80.4h4.7M560.74 77.85v5.1" stroke="#009900" stroke-width="1.75"/><path d="M513.5 80.4h4.7M515.85 77.85v5.1" stroke="#009900" stroke-width="1.75"/><path d="M561.6 81.8h4.7M563.95 79.25v5.1" stroke="#009900" stroke-width="1.75"/><path d="M510.29 81.8h4.7M512.64 79.25v5.1" stroke="#009900" stroke-width="1.75"/><path d="M564.81 82.9h4.7M567.16 80.35v5.1" stroke="#009900" stroke-width="1.75"/><path d="M507.09 82.9h4.7M509.44 80.35v5.1" stroke="#009900" stroke-width="1.75"/><path d="M568.01 80.7h4.7M570.36 78.15v5.1" stroke="#009900" stroke-width="1.75"/><path d="M503.88 80.7h4.7M506.23 78.15v5.1" stroke="#009900" stroke-width="1.75"/><path d="M571.22 81.5h4.7M573.57 78.95v5.1" stroke="#009900" stroke-width="1.75"/><path d="M500.67 81.5h4.7M503.02 78.95v5.1" stroke="#009900" stroke-width="1.75"/><path d="M574.43 85.5h4.7M576.78 82.95v5.1" stroke="#009900" stroke-width="1.75"/><path d="M497.47 85.5h4.7M499.82 82.95v5.1" stroke="#009900" stroke-width="1.75"/><path d="M577.63 88.1h4.7M579.98 85.55v5.1" stroke="#009900" stroke-width="1.75"/><path d="M494.26 88.1h4.7M496.61 85.55v5.1" stroke="#009900" stroke-width="1.75"/><path d="M580.84 88.4h4.7M583.19 85.85v5.1" stroke="#009900" stroke-width="1.75"/><path d="M491.05 88.4h4.7M493.4 85.85v5.1" stroke="#009900" stroke-width="1.75"/><path d="M584.05 82h4.7M586.4 79.45v5.1" stroke="#009900" stroke-width="1.75"/><path d="M487.85 82h4.7M490.2 79.45v5.1" stroke="#009900" stroke-width="1.75"/><path d="M587.25 83.7h4.7M589.6 81.15v5.1" stroke="#009900" stroke-width="1.75"/><path d="M484.64 83.7h4.7M486.99 81.15v5.1" stroke="#009900" stroke-width="1.75"/><path d="M590.46 84.2h4.7M592.81 81.65v5.1" stroke="#009900" stroke-width="1.75"/><path d="M481.43 84.2h4.7M483.78 81.65v5.1" stroke="#009900" stroke-width="1.75"/><path d="M593.67 84.8h4.7M596.02 82.25v5.1" stroke="#009900" stroke-width="1.75"/><path d="M478.23 84.8h4.7M480.58 82.25v5.1" stroke="#009900" stroke-width="1.75"/><path d="M596.87 85.3h4.7M599.22 82.75v5.1" stroke="#009900" stroke-width="1.75"/><path d="M475.02 85.3h4.7M477.37 82.75v5.1" stroke="#009900" stroke-width="1.75"/><path d="M600.08 84.8h4.7M602.43 82.25v5.1" stroke="#009900" stroke-width="1.75"/><path d="M471.81 84.8h4.7M474.16 82.25v5.1" stroke="#009900" stroke-width="1.75"/><path d="M603.29 85.8h4.7M605.64 83.25v5.1" stroke="#009900" stroke-width="1.75"/><path d="M468.61 85.8h4.7M470.96 83.25v5.1" stroke="#009900" stroke-width="1.75"/><path d="M606.49 85.8h4.7M608.84 83.25v5.1" stroke="#009900" stroke-width="1.75"/><path d="M465.4 85.8h4.7M467.75 83.25v5.1" stroke="#009900" stroke-width="1.75"/><path d="M609.7 87.5h4.7M612.05 84.95v5.1" stroke="#009900" stroke-width="1.75"/><path d="M462.19 87.5h4.7M464.54 84.95v5.1" stroke="#009900" stroke-width="1.75"/><path d="M612.91 88.7h4.7M615.26 86.15v5.1" stroke="#009900" stroke-width="1.75"/><path d="M458.99 88.7h4.7M461.34 86.15v5.1" stroke="#009900" stroke-width="1.75"/><path d="M616.11 87.8h4.7M618.46 85.25v5.1" stroke="#009900" stroke-width="1.75"/><path d="M455.78 87.8h4.7M458.13 85.25v5.1" stroke="#009900" stroke-width="1.75"/><path d="M619.32 87.8h4.7M621.67 85.25v5.1" stroke="#009900" stroke-width="1.75"/><path d="M452.57 87.8h4.7M454.92 85.25v5.1" stroke="#009900" stroke-width="1.75"/><path d="M622.53 89.6h4.7M624.88 87.05v5.1" stroke="#009900" stroke-width="1.75"/><path d="M449.37 89.6h4.7M451.72 87.05v5.1" stroke="#009900" stroke-width="1.75"/><path d="M625.73 88.5h4.7M628.08 85.95v5.1" stroke="#009900" stroke-width="1.75"/><path d="M446.16 88.5h4.7M448.51 85.95v5.1" stroke="#009900" stroke-width="1.75"/><path d="M628.94 91.3h4.7M631.29 88.75v5.1" stroke="#009900" stroke-width="1.75"/><path d="M442.95 91.3h4.7M445.3 88.75v5.1" stroke="#009900" stroke-width="1.75"/><path d="M632.15 91h4.7M634.5 88.45v5.1" stroke="#009900" stroke-width="1.75"/><path d="M439.75 91h4.7M442.1 88.45v5.1" stroke="#009900" stroke-width="1.75"/><path d="M635.35 101.8h4.7M637.7 99.25v5.1" stroke="#009900" stroke-width="1.75"/><path d="M436.54 100.6h4.7M438.89 98.05v5.1" stroke="#009900" stroke-width="1.75"/><path d="M638.56 107.1h4.7M640.91 104.55v5.1" stroke="#009900" stroke-width="1.75"/><path d="M433.33 105h4.7M435.68 102.45v5.1" stroke="#009900" stroke-width="1.75"/><path d="M641.77 109.9h4.7M644.12 107.35v5.1" stroke="#009900" stroke-width="1.75"/><path d="M430.13 111.5h4.7M432.48 108.95v5.1" stroke="#009900" stroke-width="1.75"/><path d="M644.97 99.8h4.7M647.32 97.25v5.1" stroke="#009900" stroke-width="1.75"/><path d="M426.92 100.6h4.7M429.27 98.05v5.1" stroke="#009900" stroke-width="1.75"/><path d="M648.18 94.5h4.7M650.53 91.95v5.1" stroke="#009900" stroke-width="1.75"/><path d="M423.71 94.5h4.7M426.06 91.95v5.1" stroke="#009900" stroke-width="1.75"/><path d="M651.39 95.1h4.7M653.74 92.55v5.1" stroke="#009900" stroke-width="1.75"/><path d="M420.51 95.7h4.7M422.86 93.15v5.1" stroke="#009900" stroke-width="1.75"/><path d="M654.59 97.1h4.7M656.94 94.55v5.1" stroke="#009900" stroke-width="1.75"/><path d="M417.3 97.4h4.7M419.65 94.85v5.1" stroke="#009900" stroke-width="1.75"/><path d="M657.8 97.1h4.7M660.15 94.55v5.1" stroke="#009900" stroke-width="1.75"/><path d="M414.09 98.6h4.7M416.44 96.05v5.1" stroke="#009900" stroke-width="1.75"/><path d="M661.01 100.9h4.7M663.36 98.35v5.1" stroke="#009900" stroke-width="1.75"/><path d="M410.89 99.8h4.7M413.24 97.25v5.1" stroke="#009900" stroke-width="1.75"/><path d="M664.21 101.5h4.7M666.56 98.95v5.1" stroke="#009900" stroke-width="1.75"/><path d="M407.68 99.8h4.7M410.03 97.25v5.1" stroke="#009900" stroke-width="1.75"/><path d="M667.42 101.5h4.7M669.77 98.95v5.1" stroke="#009900" stroke-width="1.75"/><path d="M404.47 101.5h4.7M406.82 98.95v5.1" stroke="#009900" stroke-width="1.75"/><path d="M670.63 101.3h4.7M672.98 98.75v5.1" stroke="#009900" stroke-width="1.75"/><path d="M401.27 100.9h4.7M403.62 98.35v5.1" stroke="#009900" stroke-width="1.75"/><path d="M673.83 102.7h4.7M676.18 100.15v5.1" stroke="#009900" stroke-width="1.75"/><path d="M398.06 103.3h4.7M400.41 100.75v5.1" stroke="#009900" stroke-width="1.75"/><path d="M677.04 102.9h4.7M679.39 100.35v5.1" stroke="#009900" stroke-width="1.75"/><path d="M394.85 102.7h4.7M397.2 100.15v5.1" stroke="#009900" stroke-width="1.75"/><path d="M680.25 103h4.7M682.6 100.45v5.1" stroke="#009900" stroke-width="1.75"/></g>
<g><path d="M538.3 80.3l1.55 2.3l-1.55 2.3l-1.55 -2.3z" fill="#000"/><path d="M541.5 80.6l1.55 2.3l-1.55 2.3l-1.55 -2.3z" fill="#000"/><path d="M535.09 80.6l1.55 2.3l-1.55 2.3l-1.55 -2.3z" fill="#000"/><path d="M544.71 79.5l1.55 2.3l-1.55 2.3l-1.55 -2.3z" fill="#000"/><path d="M531.88 79.5l1.55 2.3l-1.55 2.3l-1.55 -2.3z" fill="#000"/><path d="M547.92 79.5l1.55 2.3l-1.55 2.3l-1.55 -2.3z" fill="#000"/><path d="M528.68 79.5l1.55 2.3l-1.55 2.3l-1.55 -2.3z" fill="#000"/><path d="M551.12 78.6l1.55 2.3l-1.55 2.3l-1.55 -2.3z" fill="#000"/><path d="M525.47 78.6l1.55 2.3l-1.55 2.3l-1.55 -2.3z" fill="#000"/><path d="M554.33 78.6l1.55 2.3l-1.55 2.3l-1.55 -2.3z" fill="#000"/><path d="M522.26 78.6l1.55 2.3l-1.55 2.3l-1.55 -2.3z" fill="#000"/><path d="M557.54 78.1l1.55 2.3l-1.55 2.3l-1.55 -2.3z" fill="#000"/><path d="M519.06 78.1l1.55 2.3l-1.55 2.3l-1.55 -2.3z" fill="#000"/><path d="M560.74 79.7l1.55 2.3l-1.55 2.3l-1.55 -2.3z" fill="#000"/><path d="M515.85 79.7l1.55 2.3l-1.55 2.3l-1.55 -2.3z" fill="#000"/><path d="M563.95 80.6l1.55 2.3l-1.55 2.3l-1.55 -2.3z" fill="#000"/><path d="M512.64 80.6l1.55 2.3l-1.55 2.3l-1.55 -2.3z" fill="#000"/><path d="M567.16 83l1.55 2.3l-1.55 2.3l-1.55 -2.3z" fill="#000"/><path d="M509.44 83l1.55 2.3l-1.55 2.3l-1.55 -2.3z" fill="#000"/><path d="M570.36 84.3l1.55 2.3l-1.55 2.3l-1.55 -2.3z" fill="#000"/><path d="M506.23 84.3l1.55 2.3l-1.55 2.3l-1.55 -2.3z" fill="#000"/><path d="M573.57 86.1l1.55 2.3l-1.55 2.3l-1.55 -2.3z" fill="#000"/><path d="M503.02 86.1l1.55 2.3l-1.55 2.3l-1.55 -2.3z" fill="#000"/><path d="M576.78 88.3l1.55 2.3l-1.55 2.3l-1.55 -2.3z" fill="#000"/><path d="M499.82 88.3l1.55 2.3l-1.55 2.3l-1.55 -2.3z" fill="#000"/><path d="M579.98 90.1l1.55 2.3l-1.55 2.3l-1.55 -2.3z" fill="#000"/><path d="M496.61 90.1l1.55 2.3l-1.55 2.3l-1.55 -2.3z" fill="#000"/><path d="M583.19 91.2l1.55 2.3l-1.55 2.3l-1.55 -2.3z" fill="#000"/><path d="M493.4 91.2l1.55 2.3l-1.55 2.3l-1.55 -2.3z" fill="#000"/><path d="M586.4 88.7l1.55 2.3l-1.55 2.3l-1.55 -2.3z" fill="#000"/><path d="M490.2 88.7l1.55 2.3l-1.55 2.3l-1.55 -2.3z" fill="#000"/><path d="M589.6 89.1l1.55 2.3l-1.55 2.3l-1.55 -2.3z" fill="#000"/><path d="M486.99 89.1l1.55 2.3l-1.55 2.3l-1.55 -2.3z" fill="#000"/><path d="M592.81 89.4l1.55 2.3l-1.55 2.3l-1.55 -2.3z" fill="#000"/><path d="M483.78 89.4l1.55 2.3l-1.55 2.3l-1.55 -2.3z" fill="#000"/><path d="M596.02 89.6l1.55 2.3l-1.55 2.3l-1.55 -2.3z" fill="#000"/><path d="M480.58 89.6l1.55 2.3l-1.55 2.3l-1.55 -2.3z" fill="#000"/><path d="M599.22 89.8l1.55 2.3l-1.55 2.3l-1.55 -2.3z" fill="#000"/><path d="M477.37 89.8l1.55 2.3l-1.55 2.3l-1.55 -2.3z" fill="#000"/><path d="M602.43 89.6l1.55 2.3l-1.55 2.3l-1.55 -2.3z" fill="#000"/><path d="M474.16 89.6l1.55 2.3l-1.55 2.3l-1.55 -2.3z" fill="#000"/><path d="M605.64 90.1l1.55 2.3l-1.55 2.3l-1.55 -2.3z" fill="#000"/><path d="M470.96 90.1l1.55 2.3l-1.55 2.3l-1.55 -2.3z" fill="#000"/><path d="M608.84 89l1.55 2.3l-1.55 2.3l-1.55 -2.3z" fill="#000"/><path d="M467.75 89l1.55 2.3l-1.55 2.3l-1.55 -2.3z" fill="#000"/><path d="M612.05 92l1.55 2.3l-1.55 2.3l-1.55 -2.3z" fill="#000"/><path d="M464.54 92l1.55 2.3l-1.55 2.3l-1.55 -2.3z" fill="#000"/><path d="M615.26 94.3l1.55 2.3l-1.55 2.3l-1.55 -2.3z" fill="#000"/><path d="M461.34 94.3l1.55 2.3l-1.55 2.3l-1.55 -2.3z" fill="#000"/><path d="M618.46 94l1.55 2.3l-1.55 2.3l-1.55 -2.3z" fill="#000"/><path d="M458.13 94l1.55 2.3l-1.55 2.3l-1.55 -2.3z" fill="#000"/><path d="M621.67 94l1.55 2.3l-1.55 2.3l-1.55 -2.3z" fill="#000"/><path d="M454.92 94l1.55 2.3l-1.55 2.3l-1.55 -2.3z" fill="#000"/><path d="M624.88 96.7l1.55 2.3l-1.55 2.3l-1.55 -2.3z" fill="#000"/><path d="M451.72 96.7l1.55 2.3l-1.55 2.3l-1.55 -2.3z" fill="#000"/><path d="M628.08 95.7l1.55 2.3l-1.55 2.3l-1.55 -2.3z" fill="#000"/><path d="M448.51 95.7l1.55 2.3l-1.55 2.3l-1.55 -2.3z" fill="#000"/><path d="M631.29 101.3l1.55 2.3l-1.55 2.3l-1.55 -2.3z" fill="#000"/><path d="M445.3 101.3l1.55 2.3l-1.55 2.3l-1.55 -2.3z" fill="#000"/><path d="M634.5 104.8l1.55 2.3l-1.55 2.3l-1.55 -2.3z" fill="#000"/><path d="M442.1 104.8l1.55 2.3l-1.55 2.3l-1.55 -2.3z" fill="#000"/><path d="M637.7 116.8l1.55 2.3l-1.55 2.3l-1.55 -2.3z" fill="#000"/><path d="M438.89 116.8l1.55 2.3l-1.55 2.3l-1.55 -2.3z" fill="#000"/><path d="M640.91 126.1l1.55 2.3l-1.55 2.3l-1.55 -2.3z" fill="#000"/><path d="M435.68 126.1l1.55 2.3l-1.55 2.3l-1.55 -2.3z" fill="#000"/><path d="M644.12 121.4l1.55 2.3l-1.55 2.3l-1.55 -2.3z" fill="#000"/><path d="M432.48 121.4l1.55 2.3l-1.55 2.3l-1.55 -2.3z" fill="#000"/><path d="M647.32 124.7l1.55 2.3l-1.55 2.3l-1.55 -2.3z" fill="#000"/><path d="M429.27 124.7l1.55 2.3l-1.55 2.3l-1.55 -2.3z" fill="#000"/><path d="M650.53 117.7l1.55 2.3l-1.55 2.3l-1.55 -2.3z" fill="#000"/><path d="M426.06 121.2l1.55 2.3l-1.55 2.3l-1.55 -2.3z" fill="#000"/><path d="M653.74 119.1l1.55 2.3l-1.55 2.3l-1.55 -2.3z" fill="#000"/><path d="M422.86 120.8l1.55 2.3l-1.55 2.3l-1.55 -2.3z" fill="#000"/><path d="M656.94 127l1.55 2.3l-1.55 2.3l-1.55 -2.3z" fill="#000"/><path d="M419.65 117.3l1.55 2.3l-1.55 2.3l-1.55 -2.3z" fill="#000"/><path d="M416.44 119.7l1.55 2.3l-1.55 2.3l-1.55 -2.3z" fill="#000"/><path d="M663.36 122.4l1.55 2.3l-1.55 2.3l-1.55 -2.3z" fill="#000"/><path d="M413.24 122.4l1.55 2.3l-1.55 2.3l-1.55 -2.3z" fill="#000"/></g>
<g><path d="M538.3 88.45l2.15 4.1h-4.3z" fill="#ff6600"/><path d="M541.5 88.15l2.15 4.1h-4.3z" fill="#ff6600"/><path d="M535.09 88.15l2.15 4.1h-4.3z" fill="#ff6600"/><path d="M544.71 87.75l2.15 4.1h-4.3z" fill="#ff6600"/><path d="M531.88 87.75l2.15 4.1h-4.3z" fill="#ff6600"/><path d="M547.92 87.75l2.15 4.1h-4.3z" fill="#ff6600"/><path d="M528.68 87.75l2.15 4.1h-4.3z" fill="#ff6600"/><path d="M551.12 87.75l2.15 4.1h-4.3z" fill="#ff6600"/><path d="M525.47 87.75l2.15 4.1h-4.3z" fill="#ff6600"/><path d="M554.33 88.15l2.15 4.1h-4.3z" fill="#ff6600"/><path d="M522.26 88.15l2.15 4.1h-4.3z" fill="#ff6600"/><path d="M557.54 88.45l2.15 4.1h-4.3z" fill="#ff6600"/><path d="M519.06 88.45l2.15 4.1h-4.3z" fill="#ff6600"/><path d="M560.74 91.75l2.15 4.1h-4.3z" fill="#ff6600"/><path d="M515.85 91.75l2.15 4.1h-4.3z" fill="#ff6600"/><path d="M563.95 94.15l2.15 4.1h-4.3z" fill="#ff6600"/><path d="M512.64 94.15l2.15 4.1h-4.3z" fill="#ff6600"/><path d="M567.16 96.85l2.15 4.1h-4.3z" fill="#ff6600"/><path d="M509.44 96.85l2.15 4.1h-4.3z" fill="#ff6600"/><path d="M570.36 99.05l2.15 4.1h-4.3z" fill="#ff6600"/><path d="M506.23 99.05l2.15 4.1h-4.3z" fill="#ff6600"/><path d="M573.57 102.65l2.15 4.1h-4.3z" fill="#ff6600"/><path d="M503.02 102.65l2.15 4.1h-4.3z" fill="#ff6600"/><path d="M576.78 106.15l2.15 4.1h-4.3z" fill="#ff6600"/><path d="M499.82 106.15l2.15 4.1h-4.3z" fill="#ff6600"/><path d="M579.98 106.35l2.15 4.1h-4.3z" fill="#ff6600"/><path d="M496.61 106.35l2.15 4.1h-4.3z" fill="#ff6600"/><path d="M583.19 108.15l2.15 4.1h-4.3z" fill="#ff6600"/><path d="M493.4 108.15l2.15 4.1h-4.3z" fill="#ff6600"/><path d="M586.4 107.85l2.15 4.1h-4.3z" fill="#ff6600"/><path d="M490.2 107.85l2.15 4.1h-4.3z" fill="#ff6600"/><path d="M589.6 107.05l2.15 4.1h-4.3z" fill="#ff6600"/><path d="M486.99 107.05l2.15 4.1h-4.3z" fill="#ff6600"/><path d="M592.81 106.35l2.15 4.1h-4.3z" fill="#ff6600"/><path d="M483.78 106.35l2.15 4.1h-4.3z" fill="#ff6600"/><path d="M596.02 104.55l2.15 4.1h-4.3z" fill="#ff6600"/><path d="M480.58 104.55l2.15 4.1h-4.3z" fill="#ff6600"/><path d="M599.22 103.45l2.15 4.1h-4.3z" fill="#ff6600"/><path d="M477.37 103.45l2.15 4.1h-4.3z" fill="#ff6600"/><path d="M602.43 103.75l2.15 4.1h-4.3z" fill="#ff6600"/><path d="M474.16 103.75l2.15 4.1h-4.3z" fill="#ff6600"/><path d="M605.64 106.35l2.15 4.1h-4.3z" fill="#ff6600"/><path d="M470.96 106.35l2.15 4.1h-4.3z" fill="#ff6600"/><path d="M608.84 106.95l2.15 4.1h-4.3z" fill="#ff6600"/><path d="M467.75 106.95l2.15 4.1h-4.3z" fill="#ff6600"/><path d="M612.05 114.75l2.15 4.1h-4.3z" fill="#ff6600"/><path d="M464.54 114.75l2.15 4.1h-4.3z" fill="#ff6600"/><path d="M615.26 120.15l2.15 4.1h-4.3z" fill="#ff6600"/><path d="M461.34 120.15l2.15 4.1h-4.3z" fill="#ff6600"/><path d="M618.46 125.05l2.15 4.1h-4.3z" fill="#ff6600"/><path d="M458.13 125.05l2.15 4.1h-4.3z" fill="#ff6600"/></g>
<g><rect x="536.3" y="95.4" width="4" height="4" fill="#0000cc"/><rect x="539.5" y="97.8" width="4" height="4" fill="#0000cc"/><rect x="533.09" y="94.3" width="4" height="4" fill="#0000cc"/><rect x="542.71" y="94.3" width="4" height="4" fill="#0000cc"/><rect x="529.88" y="94.3" width="4" height="4" fill="#0000cc"/><rect x="545.92" y="94.8" width="4" height="4" fill="#0000cc"/><rect x="526.68" y="98.1" width="4" height="4" fill="#0000cc"/><rect x="549.12" y="95.4" width="4" height="4" fill="#0000cc"/><rect x="523.47" y="94.3" width="4" height="4" fill="#0000cc"/><rect x="552.33" y="95.9" width="4" height="4" fill="#0000cc"/><rect x="520.26" y="95.9" width="4" height="4" fill="#0000cc"/><rect x="555.54" y="97" width="4" height="4" fill="#0000cc"/><rect x="517.06" y="97" width="4" height="4" fill="#0000cc"/><rect x="558.74" y="101.7" width="4" height="4" fill="#0000cc"/><rect x="513.85" y="101.7" width="4" height="4" fill="#0000cc"/><rect x="561.95" y="104.1" width="4" height="4" fill="#0000cc"/><rect x="510.64" y="104.1" width="4" height="4" fill="#0000cc"/><rect x="565.16" y="106.8" width="4" height="4" fill="#0000cc"/><rect x="507.44" y="106.8" width="4" height="4" fill="#0000cc"/><rect x="568.36" y="110.1" width="4" height="4" fill="#0000cc"/><rect x="504.23" y="110.1" width="4" height="4" fill="#0000cc"/><rect x="571.57" y="114.5" width="4" height="4" fill="#0000cc"/><rect x="501.02" y="114.5" width="4" height="4" fill="#0000cc"/><rect x="574.78" y="119.6" width="4" height="4" fill="#0000cc"/><rect x="497.82" y="119.6" width="4" height="4" fill="#0000cc"/><rect x="577.98" y="126" width="4" height="4" fill="#0000cc"/><rect x="494.61" y="126" width="4" height="4" fill="#0000cc"/><rect x="581.19" y="125.1" width="4" height="4" fill="#0000cc"/><rect x="491.4" y="125.1" width="4" height="4" fill="#0000cc"/><rect x="584.4" y="122.9" width="4" height="4" fill="#0000cc"/><rect x="488.2" y="122.9" width="4" height="4" fill="#0000cc"/><rect x="587.6" y="120" width="4" height="4" fill="#0000cc"/><rect x="484.99" y="120" width="4" height="4" fill="#0000cc"/><rect x="590.81" y="118.1" width="4" height="4" fill="#0000cc"/><rect x="481.78" y="118.1" width="4" height="4" fill="#0000cc"/><rect x="594.02" y="116.1" width="4" height="4" fill="#0000cc"/><rect x="478.58" y="116.1" width="4" height="4" fill="#0000cc"/></g>
<g><circle cx="538.3" cy="112.4" r="2.1" fill="#cc0000"/><circle cx="541.5" cy="111" r="2.1" fill="#cc0000"/><circle cx="535.09" cy="112.7" r="2.1" fill="#cc0000"/><circle cx="544.71" cy="111" r="2.1" fill="#cc0000"/><circle cx="531.88" cy="111.8" r="2.1" fill="#cc0000"/><circle cx="547.92" cy="112.7" r="2.1" fill="#cc0000"/><circle cx="528.68" cy="113.2" r="2.1" fill="#cc0000"/><circle cx="551.12" cy="113.9" r="2.1" fill="#cc0000"/><circle cx="525.47" cy="114.6" r="2.1" fill="#cc0000"/><circle cx="554.33" cy="116.5" r="2.1" fill="#cc0000"/><circle cx="522.26" cy="111.4" r="2.1" fill="#cc0000"/><circle cx="557.54" cy="115.7" r="2.1" fill="#cc0000"/><circle cx="519.06" cy="115.7" r="2.1" fill="#cc0000"/><circle cx="560.74" cy="119.5" r="2.1" fill="#cc0000"/><circle cx="515.85" cy="121.2" r="2.1" fill="#cc0000"/><circle cx="563.95" cy="124.8" r="2.1" fill="#cc0000"/><circle cx="512.64" cy="124.9" r="2.1" fill="#cc0000"/><circle cx="567.16" cy="128.8" r="2.1" fill="#cc0000"/><circle cx="509.44" cy="125.6" r="2.1" fill="#cc0000"/><circle cx="570.36" cy="131.8" r="2.1" fill="#cc0000"/><circle cx="506.23" cy="132.2" r="2.1" fill="#cc0000"/><circle cx="573.57" cy="140" r="2.1" fill="#cc0000"/><circle cx="503.02" cy="138.7" r="2.1" fill="#cc0000"/><circle cx="576.78" cy="138.4" r="2.1" fill="#cc0000"/><circle cx="499.82" cy="136.2" r="2.1" fill="#cc0000"/><circle cx="579.98" cy="144.6" r="2.1" fill="#cc0000"/><circle cx="496.61" cy="143.1" r="2.1" fill="#cc0000"/></g>
<path d="M54.8 482.3h8M320.7 482.3h-8M54.8 478.69h4.2M320.7 478.69h-4.2M54.8 475.08h4.2M320.7 475.08h-4.2M54.8 471.46h4.2M320.7 471.46h-4.2M54.8 467.85h4.2M320.7 467.85h-4.2M54.8 464.24h8M320.7 464.24h-8M54.8 460.63h4.2M320.7 460.63h-4.2M54.8 457.02h4.2M320.7 457.02h-4.2M54.8 453.4h4.2M320.7 453.4h-4.2M54.8 449.79h4.2M320.7 449.79h-4.2M54.8 446.18h8M320.7 446.18h-8M54.8 442.57h4.2M320.7 442.57h-4.2M54.8 438.96h4.2M320.7 438.96h-4.2M54.8 435.34h4.2M320.7 435.34h-4.2M54.8 431.73h4.2M320.7 431.73h-4.2M54.8 428.12h8M320.7 428.12h-8M54.8 424.51h4.2M320.7 424.51h-4.2M54.8 420.9h4.2M320.7 420.9h-4.2M54.8 417.28h4.2M320.7 417.28h-4.2M54.8 413.67h4.2M320.7 413.67h-4.2M54.8 410.06h8M320.7 410.06h-8M54.8 406.45h4.2M320.7 406.45h-4.2M54.8 402.84h4.2M320.7 402.84h-4.2M54.8 399.22h4.2M320.7 399.22h-4.2M54.8 395.61h4.2M320.7 395.61h-4.2M54.8 392h8M320.7 392h-8M54.8 388.39h4.2M320.7 388.39h-4.2M54.8 384.78h4.2M320.7 384.78h-4.2M54.8 381.16h4.2M320.7 381.16h-4.2M54.8 377.55h4.2M320.7 377.55h-4.2M54.8 373.94h4.2M320.7 373.94h-8M54.8 370.33h4.2M320.7 370.33h-4.2M54.8 366.72h4.2M320.7 366.72h-4.2M54.8 363.1h4.2M320.7 363.1h-4.2M54.8 359.49h4.2M320.7 359.49h-4.2M54.8 355.88h4.2M320.7 355.88h-8M54.8 352.27h4.2M320.7 352.27h-4.2M54.8 348.66h4.2M320.7 348.66h-4.2M54.8 345.04h4.2M320.7 345.04h-4.2M54.8 341.43h4.2M320.7 341.43h-4.2M54.8 337.82h4.2M320.7 337.82h-8M54.8 334.21h4.2M320.7 334.21h-4.2M54.8 330.6h4.2M320.7 330.6h-4.2M54.8 326.98h4.2M320.7 326.98h-4.2M54.8 323.37h4.2M320.7 323.37h-4.2M54.8 319.76h4.2M320.7 319.76h-8M54.8 316.15h4.2M320.7 316.15h-4.2M54.8 312.54h4.2M320.7 312.54h-4.2M54.8 308.92h4.2M320.7 308.92h-4.2M54.8 305.31h4.2M320.7 305.31h-4.2M54.8 301.7h8M320.7 301.7h-8M58.6 482.3v-2.6M58.6 301.7v2.6M66.2 482.3v-2.6M66.2 301.7v2.6M73.79 482.3v-5.1M73.79 301.7v5.1M81.39 482.3v-2.6M81.39 301.7v2.6M88.99 482.3v-2.6M88.99 301.7v2.6M96.58 482.3v-2.6M96.58 301.7v2.6M104.18 482.3v-2.6M104.18 301.7v2.6M111.78 482.3v-5.1M111.78 301.7v5.1M119.38 482.3v-2.6M119.38 301.7v2.6M126.97 482.3v-2.6M126.97 301.7v2.6M134.57 482.3v-2.6M134.57 301.7v2.6M142.17 482.3v-2.6M142.17 301.7v2.6M149.76 482.3v-5.1M149.76 301.7v5.1M157.36 482.3v-2.6M157.36 301.7v2.6M164.96 482.3v-2.6M164.96 301.7v2.6M172.56 482.3v-2.6M172.56 301.7v2.6M180.15 482.3v-2.6M180.15 301.7v2.6M187.75 482.3v-5.1M187.75 301.7v5.1M195.35 482.3v-2.6M195.35 301.7v2.6M202.94 482.3v-2.6M202.94 301.7v2.6M210.54 482.3v-2.6M210.54 301.7v2.6M218.14 482.3v-2.6M218.14 301.7v2.6M225.74 482.3v-5.1M225.74 301.7v5.1M233.33 482.3v-2.6M233.33 301.7v2.6M240.93 482.3v-2.6M240.93 301.7v2.6M248.53 482.3v-2.6M248.53 301.7v2.6M256.12 482.3v-2.6M256.12 301.7v2.6M263.72 482.3v-5.1M263.72 301.7v5.1M271.32 482.3v-2.6M271.32 301.7v2.6M278.92 482.3v-2.6M278.92 301.7v2.6M286.51 482.3v-2.6M286.51 301.7v2.6M294.11 482.3v-2.6M294.11 301.7v2.6M301.71 482.3v-5.1M301.71 301.7v5.1M309.3 482.3v-2.6M309.3 301.7v2.6M316.9 482.3v-2.6M316.9 301.7v2.6" stroke="#333" stroke-width="1" fill="none"/>
<path d="M54.8 482.3V301.7H320.7V482.3" stroke="#222" stroke-width="1.2" fill="none"/>
<path d="M54.2 482.3H321.3" stroke="#262626" stroke-width="1.1" fill="none"/>
<g font-size="10"><text x="51.9" y="486.6" text-anchor="end">0.8</text><text x="51.9" y="468.54" text-anchor="end">0.85</text><text x="51.9" y="450.48" text-anchor="end">0.9</text><text x="51.9" y="432.42" text-anchor="end">0.95</text><text x="51.9" y="414.36" text-anchor="end">1</text><text x="51.9" y="396.3" text-anchor="end">1.05</text><text x="51.9" y="378.24" text-anchor="end">1.1</text><text x="51.9" y="360.18" text-anchor="end">1.15</text><text x="51.9" y="342.12" text-anchor="end">1.2</text><text x="51.9" y="324.06" text-anchor="end">1.25</text><text x="51.9" y="306" text-anchor="end">1.3</text><text x="73.79" y="492.8" text-anchor="middle">-3</text><text x="111.78" y="492.8" text-anchor="middle">-2</text><text x="149.76" y="492.8" text-anchor="middle">-1</text><text x="187.75" y="492.8" text-anchor="middle">0</text><text x="225.74" y="492.8" text-anchor="middle">1</text><text x="263.72" y="492.8" text-anchor="middle">2</text><text x="301.71" y="492.8" text-anchor="middle">3</text></g>
<g><circle cx="94.68" cy="424.83" r="2.9" fill="none" stroke="#ff2222" stroke-width="0.9"/><circle cx="98.48" cy="424.13" r="2.9" fill="none" stroke="#ff2222" stroke-width="0.9"/><circle cx="102.28" cy="423.3" r="2.9" fill="none" stroke="#ff2222" stroke-width="0.9"/><circle cx="106.08" cy="422.09" r="2.9" fill="none" stroke="#ff2222" stroke-width="0.9"/><circle cx="109.88" cy="422.76" r="2.9" fill="none" stroke="#ff2222" stroke-width="0.9"/><circle cx="113.68" cy="421.22" r="2.9" fill="none" stroke="#ff2222" stroke-width="0.9"/><circle cx="117.48" cy="422.56" r="2.9" fill="none" stroke="#ff2222" stroke-width="0.9"/><circle cx="121.27" cy="421.63" r="2.9" fill="none" stroke="#ff2222" stroke-width="0.9"/><circle cx="125.07" cy="421.38" r="2.9" fill="none" stroke="#ff2222" stroke-width="0.9"/><circle cx="128.87" cy="422.12" r="2.9" fill="none" stroke="#ff2222" stroke-width="0.9"/><circle cx="132.67" cy="430.06" r="2.9" fill="none" stroke="#ff2222" stroke-width="0.9"/><circle cx="136.47" cy="431.47" r="2.9" fill="none" stroke="#ff2222" stroke-width="0.9"/><circle cx="140.27" cy="425.6" r="2.9" fill="none" stroke="#ff2222" stroke-width="0.9"/><circle cx="144.07" cy="419.25" r="2.9" fill="none" stroke="#ff2222" stroke-width="0.9"/><circle cx="147.87" cy="417.37" r="2.9" fill="none" stroke="#ff2222" stroke-width="0.9"/><circle cx="151.66" cy="414.38" r="2.9" fill="none" stroke="#ff2222" stroke-width="0.9"/><circle cx="155.46" cy="413.82" r="2.9" fill="none" stroke="#ff2222" stroke-width="0.9"/><circle cx="159.26" cy="411.52" r="2.9" fill="none" stroke="#ff2222" stroke-width="0.9"/><circle cx="163.06" cy="412.45" r="2.9" fill="none" stroke="#ff2222" stroke-width="0.9"/><circle cx="166.86" cy="413.76" r="2.9" fill="none" stroke="#ff2222" stroke-width="0.9"/><circle cx="170.66" cy="414.58" r="2.9" fill="none" stroke="#ff2222" stroke-width="0.9"/><circle cx="174.45" cy="417.3" r="2.9" fill="none" stroke="#ff2222" stroke-width="0.9"/><circle cx="178.25" cy="417.08" r="2.9" fill="none" stroke="#ff2222" stroke-width="0.9"/><circle cx="182.05" cy="419.23" r="2.9" fill="none" stroke="#ff2222" stroke-width="0.9"/><circle cx="185.85" cy="419.12" r="2.9" fill="none" stroke="#ff2222" stroke-width="0.9"/><circle cx="189.65" cy="418.67" r="2.9" fill="none" stroke="#ff2222" stroke-width="0.9"/><circle cx="193.45" cy="418.62" r="2.9" fill="none" stroke="#ff2222" stroke-width="0.9"/><circle cx="197.25" cy="416.04" r="2.9" fill="none" stroke="#ff2222" stroke-width="0.9"/><circle cx="201.05" cy="416.22" r="2.9" fill="none" stroke="#ff2222" stroke-width="0.9"/><circle cx="204.84" cy="413.78" r="2.9" fill="none" stroke="#ff2222" stroke-width="0.9"/><circle cx="208.64" cy="412.78" r="2.9" fill="none" stroke="#ff2222" stroke-width="0.9"/><circle cx="212.44" cy="412.74" r="2.9" fill="none" stroke="#ff2222" stroke-width="0.9"/><circle cx="216.24" cy="411.38" r="2.9" fill="none" stroke="#ff2222" stroke-width="0.9"/><circle cx="220.04" cy="413.91" r="2.9" fill="none" stroke="#ff2222" stroke-width="0.9"/><circle cx="223.84" cy="414.39" r="2.9" fill="none" stroke="#ff2222" stroke-width="0.9"/><circle cx="227.63" cy="417.98" r="2.9" fill="none" stroke="#ff2222" stroke-width="0.9"/><circle cx="231.43" cy="421.56" r="2.9" fill="none" stroke="#ff2222" stroke-width="0.9"/><circle cx="235.23" cy="425.94" r="2.9" fill="none" stroke="#ff2222" stroke-width="0.9"/><circle cx="239.03" cy="431.63" r="2.9" fill="none" stroke="#ff2222" stroke-width="0.9"/><circle cx="242.83" cy="430.21" r="2.9" fill="none" stroke="#ff2222" stroke-width="0.9"/><circle cx="246.63" cy="421.97" r="2.9" fill="none" stroke="#ff2222" stroke-width="0.9"/><circle cx="250.43" cy="422.13" r="2.9" fill="none" stroke="#ff2222" stroke-width="0.9"/><circle cx="254.22" cy="422.66" r="2.9" fill="none" stroke="#ff2222" stroke-width="0.9"/><circle cx="258.02" cy="424.6" r="2.9" fill="none" stroke="#ff2222" stroke-width="0.9"/><circle cx="261.82" cy="423.29" r="2.9" fill="none" stroke="#ff2222" stroke-width="0.9"/><circle cx="265.62" cy="424.87" r="2.9" fill="none" stroke="#ff2222" stroke-width="0.9"/><circle cx="269.42" cy="424.2" r="2.9" fill="none" stroke="#ff2222" stroke-width="0.9"/><circle cx="273.22" cy="424.97" r="2.9" fill="none" stroke="#ff2222" stroke-width="0.9"/><circle cx="277.02" cy="426.95" r="2.9" fill="none" stroke="#ff2222" stroke-width="0.9"/><circle cx="280.81" cy="426.61" r="2.9" fill="none" stroke="#ff2222" stroke-width="0.9"/></g>
<g><rect x="87.89" y="424.88" width="6" height="6" fill="none" stroke="#3333ff" stroke-width="0.9"/><rect x="91.68" y="424.62" width="6" height="6" fill="none" stroke="#3333ff" stroke-width="0.9"/><rect x="95.48" y="421.63" width="6" height="6" fill="none" stroke="#3333ff" stroke-width="0.9"/><rect x="99.28" y="422.54" width="6" height="6" fill="none" stroke="#3333ff" stroke-width="0.9"/><rect x="103.08" y="420.45" width="6" height="6" fill="none" stroke="#3333ff" stroke-width="0.9"/><rect x="106.88" y="419.9" width="6" height="6" fill="none" stroke="#3333ff" stroke-width="0.9"/><rect x="110.68" y="418.48" width="6" height="6" fill="none" stroke="#3333ff" stroke-width="0.9"/><rect x="114.48" y="415.49" width="6" height="6" fill="none" stroke="#3333ff" stroke-width="0.9"/><rect x="118.27" y="415.7" width="6" height="6" fill="none" stroke="#3333ff" stroke-width="0.9"/><rect x="122.07" y="415.06" width="6" height="6" fill="none" stroke="#3333ff" stroke-width="0.9"/><rect x="125.87" y="418.11" width="6" height="6" fill="none" stroke="#3333ff" stroke-width="0.9"/><rect x="129.67" y="428.66" width="6" height="6" fill="none" stroke="#3333ff" stroke-width="0.9"/><rect x="133.47" y="428.86" width="6" height="6" fill="none" stroke="#3333ff" stroke-width="0.9"/><rect x="137.27" y="425.79" width="6" height="6" fill="none" stroke="#3333ff" stroke-width="0.9"/><rect x="141.07" y="418.2" width="6" height="6" fill="none" stroke="#3333ff" stroke-width="0.9"/><rect x="144.87" y="418.42" width="6" height="6" fill="none" stroke="#3333ff" stroke-width="0.9"/><rect x="148.66" y="416.94" width="6" height="6" fill="none" stroke="#3333ff" stroke-width="0.9"/><rect x="152.46" y="415.82" width="6" height="6" fill="none" stroke="#3333ff" stroke-width="0.9"/><rect x="156.26" y="415.7" width="6" height="6" fill="none" stroke="#3333ff" stroke-width="0.9"/><rect x="160.06" y="413.49" width="6" height="6" fill="none" stroke="#3333ff" stroke-width="0.9"/><rect x="163.86" y="415.2" width="6" height="6" fill="none" stroke="#3333ff" stroke-width="0.9"/><rect x="167.66" y="414.38" width="6" height="6" fill="none" stroke="#3333ff" stroke-width="0.9"/><rect x="171.45" y="415.7" width="6" height="6" fill="none" stroke="#3333ff" stroke-width="0.9"/><rect x="175.25" y="416.94" width="6" height="6" fill="none" stroke="#3333ff" stroke-width="0.9"/><rect x="179.05" y="416.68" width="6" height="6" fill="none" stroke="#3333ff" stroke-width="0.9"/><rect x="182.85" y="418.65" width="6" height="6" fill="none" stroke="#3333ff" stroke-width="0.9"/><rect x="186.65" y="416.91" width="6" height="6" fill="none" stroke="#3333ff" stroke-width="0.9"/><rect x="190.45" y="416.97" width="6" height="6" fill="none" stroke="#3333ff" stroke-width="0.9"/><rect x="194.25" y="415.67" width="6" height="6" fill="none" stroke="#3333ff" stroke-width="0.9"/><rect x="198.05" y="414.12" width="6" height="6" fill="none" stroke="#3333ff" stroke-width="0.9"/><rect x="201.84" y="414.67" width="6" height="6" fill="none" stroke="#3333ff" stroke-width="0.9"/><rect x="205.64" y="412.89" width="6" height="6" fill="none" stroke="#3333ff" stroke-width="0.9"/><rect x="209.44" y="414.97" width="6" height="6" fill="none" stroke="#3333ff" stroke-width="0.9"/><rect x="213.24" y="414.89" width="6" height="6" fill="none" stroke="#3333ff" stroke-width="0.9"/><rect x="217.04" y="415.87" width="6" height="6" fill="none" stroke="#3333ff" stroke-width="0.9"/><rect x="220.84" y="417.7" width="6" height="6" fill="none" stroke="#3333ff" stroke-width="0.9"/><rect x="224.63" y="417.81" width="6" height="6" fill="none" stroke="#3333ff" stroke-width="0.9"/><rect x="228.43" y="421.83" width="6" height="6" fill="none" stroke="#3333ff" stroke-width="0.9"/><rect x="232.23" y="425.11" width="6" height="6" fill="none" stroke="#3333ff" stroke-width="0.9"/><rect x="236.03" y="429.44" width="6" height="6" fill="none" stroke="#3333ff" stroke-width="0.9"/><rect x="239.83" y="429.13" width="6" height="6" fill="none" stroke="#3333ff" stroke-width="0.9"/><rect x="243.63" y="417" width="6" height="6" fill="none" stroke="#3333ff" stroke-width="0.9"/><rect x="247.43" y="417.12" width="6" height="6" fill="none" stroke="#3333ff" stroke-width="0.9"/><rect x="251.22" y="415.46" width="6" height="6" fill="none" stroke="#3333ff" stroke-width="0.9"/><rect x="255.02" y="418.35" width="6" height="6" fill="none" stroke="#3333ff" stroke-width="0.9"/><rect x="258.82" y="420.41" width="6" height="6" fill="none" stroke="#3333ff" stroke-width="0.9"/><rect x="262.62" y="421.42" width="6" height="6" fill="none" stroke="#3333ff" stroke-width="0.9"/><rect x="266.42" y="423.7" width="6" height="6" fill="none" stroke="#3333ff" stroke-width="0.9"/><rect x="270.22" y="422.87" width="6" height="6" fill="none" stroke="#3333ff" stroke-width="0.9"/><rect x="274.02" y="425.59" width="6" height="6" fill="none" stroke="#3333ff" stroke-width="0.9"/><rect x="277.81" y="425.81" width="6" height="6" fill="none" stroke="#3333ff" stroke-width="0.9"/><rect x="281.61" y="425.57" width="6" height="6" fill="none" stroke="#3333ff" stroke-width="0.9"/></g>
<g><path d="M90.89 424.57l3.2 6.08h-6.4z" fill="none" stroke="#cc22cc" stroke-width="0.9"/><path d="M94.68 424.27l3.2 6.08h-6.4z" fill="none" stroke="#cc22cc" stroke-width="0.9"/><path d="M98.48 418.89l3.2 6.08h-6.4z" fill="none" stroke="#cc22cc" stroke-width="0.9"/><path d="M102.28 414.21l3.2 6.08h-6.4z" fill="none" stroke="#cc22cc" stroke-width="0.9"/><path d="M106.08 415.82l3.2 6.08h-6.4z" fill="none" stroke="#cc22cc" stroke-width="0.9"/><path d="M109.88 417.99l3.2 6.08h-6.4z" fill="none" stroke="#cc22cc" stroke-width="0.9"/><path d="M113.68 421.39l3.2 6.08h-6.4z" fill="none" stroke="#cc22cc" stroke-width="0.9"/><path d="M117.48 420.59l3.2 6.08h-6.4z" fill="none" stroke="#cc22cc" stroke-width="0.9"/><path d="M121.27 420.77l3.2 6.08h-6.4z" fill="none" stroke="#cc22cc" stroke-width="0.9"/><path d="M125.07 421.1l3.2 6.08h-6.4z" fill="none" stroke="#cc22cc" stroke-width="0.9"/><path d="M128.87 419.77l3.2 6.08h-6.4z" fill="none" stroke="#cc22cc" stroke-width="0.9"/><path d="M132.67 430.69l3.2 6.08h-6.4z" fill="none" stroke="#cc22cc" stroke-width="0.9"/><path d="M136.47 429.29l3.2 6.08h-6.4z" fill="none" stroke="#cc22cc" stroke-width="0.9"/><path d="M140.27 425.74l3.2 6.08h-6.4z" fill="none" stroke="#cc22cc" stroke-width="0.9"/><path d="M144.07 419.6l3.2 6.08h-6.4z" fill="none" stroke="#cc22cc" stroke-width="0.9"/><path d="M147.87 417.62l3.2 6.08h-6.4z" fill="none" stroke="#cc22cc" stroke-width="0.9"/><path d="M151.66 418.38l3.2 6.08h-6.4z" fill="none" stroke="#cc22cc" stroke-width="0.9"/><path d="M155.46 415.65l3.2 6.08h-6.4z" fill="none" stroke="#cc22cc" stroke-width="0.9"/><path d="M159.26 416.03l3.2 6.08h-6.4z" fill="none" stroke="#cc22cc" stroke-width="0.9"/><path d="M163.06 414.59l3.2 6.08h-6.4z" fill="none" stroke="#cc22cc" stroke-width="0.9"/><path d="M166.86 414.49l3.2 6.08h-6.4z" fill="none" stroke="#cc22cc" stroke-width="0.9"/><path d="M170.66 415.96l3.2 6.08h-6.4z" fill="none" stroke="#cc22cc" stroke-width="0.9"/><path d="M174.45 415.2l3.2 6.08h-6.4z" fill="none" stroke="#cc22cc" stroke-width="0.9"/><path d="M178.25 417.68l3.2 6.08h-6.4z" fill="none" stroke="#cc22cc" stroke-width="0.9"/><path d="M182.05 417.4l3.2 6.08h-6.4z" fill="none" stroke="#cc22cc" stroke-width="0.9"/><path d="M185.85 418.16l3.2 6.08h-6.4z" fill="none" stroke="#cc22cc" stroke-width="0.9"/><path d="M189.65 418.49l3.2 6.08h-6.4z" fill="none" stroke="#cc22cc" stroke-width="0.9"/><path d="M193.45 416.25l3.2 6.08h-6.4z" fill="none" stroke="#cc22cc" stroke-width="0.9"/><path d="M197.25 416.78l3.2 6.08h-6.4z" fill="none" stroke="#cc22cc" stroke-width="0.9"/><path d="M201.05 414.43l3.2 6.08h-6.4z" fill="none" stroke="#cc22cc" stroke-width="0.9"/><path d="M204.84 414.51l3.2 6.08h-6.4z" fill="none" stroke="#cc22cc" stroke-width="0.9"/><path d="M208.64 414.32l3.2 6.08h-6.4z" fill="none" stroke="#cc22cc" stroke-width="0.9"/><path d="M212.44 414.17l3.2 6.08h-6.4z" fill="none" stroke="#cc22cc" stroke-width="0.9"/><path d="M216.24 416.29l3.2 6.08h-6.4z" fill="none" stroke="#cc22cc" stroke-width="0.9"/><path d="M220.04 415.77l3.2 6.08h-6.4z" fill="none" stroke="#cc22cc" stroke-width="0.9"/><path d="M223.84 417.95l3.2 6.08h-6.4z" fill="none" stroke="#cc22cc" stroke-width="0.9"/><path d="M227.63 418.97l3.2 6.08h-6.4z" fill="none" stroke="#cc22cc" stroke-width="0.9"/><path d="M231.43 421.1l3.2 6.08h-6.4z" fill="none" stroke="#cc22cc" stroke-width="0.9"/><path d="M235.23 426.71l3.2 6.08h-6.4z" fill="none" stroke="#cc22cc" stroke-width="0.9"/><path d="M239.03 429.2l3.2 6.08h-6.4z" fill="none" stroke="#cc22cc" stroke-width="0.9"/><path d="M242.83 430.65l3.2 6.08h-6.4z" fill="none" stroke="#cc22cc" stroke-width="0.9"/><path d="M246.63 420.2l3.2 6.08h-6.4z" fill="none" stroke="#cc22cc" stroke-width="0.9"/><path d="M250.43 421.05l3.2 6.08h-6.4z" fill="none" stroke="#cc22cc" stroke-width="0.9"/><path d="M254.22 422.56l3.2 6.08h-6.4z" fill="none" stroke="#cc22cc" stroke-width="0.9"/><path d="M258.02 422.12l3.2 6.08h-6.4z" fill="none" stroke="#cc22cc" stroke-width="0.9"/><path d="M261.82 423.55l3.2 6.08h-6.4z" fill="none" stroke="#cc22cc" stroke-width="0.9"/><path d="M265.62 420.45l3.2 6.08h-6.4z" fill="none" stroke="#cc22cc" stroke-width="0.9"/><path d="M269.42 417.24l3.2 6.08h-6.4z" fill="none" stroke="#cc22cc" stroke-width="0.9"/><path d="M273.22 416.69l3.2 6.08h-6.4z" fill="none" stroke="#cc22cc" stroke-width="0.9"/><path d="M277.02 421.02l3.2 6.08h-6.4z" fill="none" stroke="#cc22cc" stroke-width="0.9"/><path d="M280.81 426.4l3.2 6.08h-6.4z" fill="none" stroke="#cc22cc" stroke-width="0.9"/><path d="M284.61 425.49l3.2 6.08h-6.4z" fill="none" stroke="#cc22cc" stroke-width="0.9"/></g>
<g><path d="M87.09 423.62l2.2 3.3l-2.2 3.3l-2.2 -3.3z" fill="none" stroke="#000" stroke-width="0.9"/><path d="M90.89 422.09l2.2 3.3l-2.2 3.3l-2.2 -3.3z" fill="none" stroke="#000" stroke-width="0.9"/><path d="M94.68 419.62l2.2 3.3l-2.2 3.3l-2.2 -3.3z" fill="none" stroke="#000" stroke-width="0.9"/><path d="M98.48 419.38l2.2 3.3l-2.2 3.3l-2.2 -3.3z" fill="none" stroke="#000" stroke-width="0.9"/><path d="M102.28 417.87l2.2 3.3l-2.2 3.3l-2.2 -3.3z" fill="none" stroke="#000" stroke-width="0.9"/><path d="M106.08 419.18l2.2 3.3l-2.2 3.3l-2.2 -3.3z" fill="none" stroke="#000" stroke-width="0.9"/><path d="M109.88 418.98l2.2 3.3l-2.2 3.3l-2.2 -3.3z" fill="none" stroke="#000" stroke-width="0.9"/><path d="M113.68 418.92l2.2 3.3l-2.2 3.3l-2.2 -3.3z" fill="none" stroke="#000" stroke-width="0.9"/><path d="M117.48 420.34l2.2 3.3l-2.2 3.3l-2.2 -3.3z" fill="none" stroke="#000" stroke-width="0.9"/><path d="M121.27 418.68l2.2 3.3l-2.2 3.3l-2.2 -3.3z" fill="none" stroke="#000" stroke-width="0.9"/><path d="M125.07 419.94l2.2 3.3l-2.2 3.3l-2.2 -3.3z" fill="none" stroke="#000" stroke-width="0.9"/><path d="M128.87 418.97l2.2 3.3l-2.2 3.3l-2.2 -3.3z" fill="none" stroke="#000" stroke-width="0.9"/><path d="M132.67 428.38l2.2 3.3l-2.2 3.3l-2.2 -3.3z" fill="none" stroke="#000" stroke-width="0.9"/><path d="M136.47 429.19l2.2 3.3l-2.2 3.3l-2.2 -3.3z" fill="none" stroke="#000" stroke-width="0.9"/><path d="M140.27 423.41l2.2 3.3l-2.2 3.3l-2.2 -3.3z" fill="none" stroke="#000" stroke-width="0.9"/><path d="M144.07 418.84l2.2 3.3l-2.2 3.3l-2.2 -3.3z" fill="none" stroke="#000" stroke-width="0.9"/><path d="M147.87 416.43l2.2 3.3l-2.2 3.3l-2.2 -3.3z" fill="none" stroke="#000" stroke-width="0.9"/><path d="M151.66 416.36l2.2 3.3l-2.2 3.3l-2.2 -3.3z" fill="none" stroke="#000" stroke-width="0.9"/><path d="M155.46 415.47l2.2 3.3l-2.2 3.3l-2.2 -3.3z" fill="none" stroke="#000" stroke-width="0.9"/><path d="M159.26 413.55l2.2 3.3l-2.2 3.3l-2.2 -3.3z" fill="none" stroke="#000" stroke-width="0.9"/><path d="M163.06 414.17l2.2 3.3l-2.2 3.3l-2.2 -3.3z" fill="none" stroke="#000" stroke-width="0.9"/><path d="M166.86 412.88l2.2 3.3l-2.2 3.3l-2.2 -3.3z" fill="none" stroke="#000" stroke-width="0.9"/><path d="M170.66 414.31l2.2 3.3l-2.2 3.3l-2.2 -3.3z" fill="none" stroke="#000" stroke-width="0.9"/><path d="M174.45 414.81l2.2 3.3l-2.2 3.3l-2.2 -3.3z" fill="none" stroke="#000" stroke-width="0.9"/><path d="M178.25 415.19l2.2 3.3l-2.2 3.3l-2.2 -3.3z" fill="none" stroke="#000" stroke-width="0.9"/><path d="M182.05 417.21l2.2 3.3l-2.2 3.3l-2.2 -3.3z" fill="none" stroke="#000" stroke-width="0.9"/><path d="M185.85 416.17l2.2 3.3l-2.2 3.3l-2.2 -3.3z" fill="none" stroke="#000" stroke-width="0.9"/><path d="M189.65 417.26l2.2 3.3l-2.2 3.3l-2.2 -3.3z" fill="none" stroke="#000" stroke-width="0.9"/><path d="M193.45 415.53l2.2 3.3l-2.2 3.3l-2.2 -3.3z" fill="none" stroke="#000" stroke-width="0.9"/><path d="M197.25 414.43l2.2 3.3l-2.2 3.3l-2.2 -3.3z" fill="none" stroke="#000" stroke-width="0.9"/><path d="M201.05 414.33l2.2 3.3l-2.2 3.3l-2.2 -3.3z" fill="none" stroke="#000" stroke-width="0.9"/><path d="M204.84 412.23l2.2 3.3l-2.2 3.3l-2.2 -3.3z" fill="none" stroke="#000" stroke-width="0.9"/><path d="M208.64 413.49l2.2 3.3l-2.2 3.3l-2.2 -3.3z" fill="none" stroke="#000" stroke-width="0.9"/><path d="M212.44 413.06l2.2 3.3l-2.2 3.3l-2.2 -3.3z" fill="none" stroke="#000" stroke-width="0.9"/><path d="M216.24 414.21l2.2 3.3l-2.2 3.3l-2.2 -3.3z" fill="none" stroke="#000" stroke-width="0.9"/><path d="M220.04 415.62l2.2 3.3l-2.2 3.3l-2.2 -3.3z" fill="none" stroke="#000" stroke-width="0.9"/><path d="M223.84 415.48l2.2 3.3l-2.2 3.3l-2.2 -3.3z" fill="none" stroke="#000" stroke-width="0.9"/><path d="M227.63 418.5l2.2 3.3l-2.2 3.3l-2.2 -3.3z" fill="none" stroke="#000" stroke-width="0.9"/><path d="M231.43 419.57l2.2 3.3l-2.2 3.3l-2.2 -3.3z" fill="none" stroke="#000" stroke-width="0.9"/><path d="M235.23 424.98l2.2 3.3l-2.2 3.3l-2.2 -3.3z" fill="none" stroke="#000" stroke-width="0.9"/><path d="M239.03 428.86l2.2 3.3l-2.2 3.3l-2.2 -3.3z" fill="none" stroke="#000" stroke-width="0.9"/><path d="M242.83 428.15l2.2 3.3l-2.2 3.3l-2.2 -3.3z" fill="none" stroke="#000" stroke-width="0.9"/><path d="M246.63 419.97l2.2 3.3l-2.2 3.3l-2.2 -3.3z" fill="none" stroke="#000" stroke-width="0.9"/><path d="M250.43 419.12l2.2 3.3l-2.2 3.3l-2.2 -3.3z" fill="none" stroke="#000" stroke-width="0.9"/><path d="M254.22 421.21l2.2 3.3l-2.2 3.3l-2.2 -3.3z" fill="none" stroke="#000" stroke-width="0.9"/><path d="M258.02 421.39l2.2 3.3l-2.2 3.3l-2.2 -3.3z" fill="none" stroke="#000" stroke-width="0.9"/><path d="M261.82 421.16l2.2 3.3l-2.2 3.3l-2.2 -3.3z" fill="none" stroke="#000" stroke-width="0.9"/><path d="M265.62 421.79l2.2 3.3l-2.2 3.3l-2.2 -3.3z" fill="none" stroke="#000" stroke-width="0.9"/><path d="M269.42 419.94l2.2 3.3l-2.2 3.3l-2.2 -3.3z" fill="none" stroke="#000" stroke-width="0.9"/><path d="M273.22 421.13l2.2 3.3l-2.2 3.3l-2.2 -3.3z" fill="none" stroke="#000" stroke-width="0.9"/><path d="M277.02 420.84l2.2 3.3l-2.2 3.3l-2.2 -3.3z" fill="none" stroke="#000" stroke-width="0.9"/><path d="M280.81 422.1l2.2 3.3l-2.2 3.3l-2.2 -3.3z" fill="none" stroke="#000" stroke-width="0.9"/><path d="M284.61 423.08l2.2 3.3l-2.2 3.3l-2.2 -3.3z" fill="none" stroke="#000" stroke-width="0.9"/><path d="M288.41 423.01l2.2 3.3l-2.2 3.3l-2.2 -3.3z" fill="none" stroke="#000" stroke-width="0.9"/></g>
<g><path d="M81.99 430.09L84.59 430.09L84.59 432.39L86.89 432.39L86.89 434.99L84.59 434.99L84.59 437.29L81.99 437.29L81.99 434.99L79.69 434.99L79.69 432.39L81.99 432.39z" fill="none" stroke="#22cc22" stroke-width="0.9"/><path d="M85.79 426.62L88.39 426.62L88.39 428.92L90.69 428.92L90.69 431.52L88.39 431.52L88.39 433.82L85.79 433.82L85.79 431.52L83.49 431.52L83.49 428.92L85.79 428.92z" fill="none" stroke="#22cc22" stroke-width="0.9"/><path d="M89.59 426.68L92.19 426.68L92.19 428.98L94.49 428.98L94.49 431.58L92.19 431.58L92.19 433.88L89.59 433.88L89.59 431.58L87.29 431.58L87.29 428.98L89.59 428.98z" fill="none" stroke="#22cc22" stroke-width="0.9"/><path d="M93.38 424.07L95.98 424.07L95.98 426.37L98.28 426.37L98.28 428.97L95.98 428.97L95.98 431.27L93.38 431.27L93.38 428.97L91.08 428.97L91.08 426.37L93.38 426.37z" fill="none" stroke="#22cc22" stroke-width="0.9"/><path d="M97.18 422.21L99.78 422.21L99.78 424.51L102.08 424.51L102.08 427.11L99.78 427.11L99.78 429.41L97.18 429.41L97.18 427.11L94.88 427.11L94.88 424.51L97.18 424.51z" fill="none" stroke="#22cc22" stroke-width="0.9"/><path d="M100.98 421.96L103.58 421.96L103.58 424.26L105.88 424.26L105.88 426.86L103.58 426.86L103.58 429.16L100.98 429.16L100.98 426.86L98.68 426.86L98.68 424.26L100.98 424.26z" fill="none" stroke="#22cc22" stroke-width="0.9"/><path d="M104.78 420.07L107.38 420.07L107.38 422.37L109.68 422.37L109.68 424.97L107.38 424.97L107.38 427.27L104.78 427.27L104.78 424.97L102.48 424.97L102.48 422.37L104.78 422.37z" fill="none" stroke="#22cc22" stroke-width="0.9"/><path d="M108.58 420.99L111.18 420.99L111.18 423.29L113.48 423.29L113.48 425.89L111.18 425.89L111.18 428.19L108.58 428.19L108.58 425.89L106.28 425.89L106.28 423.29L108.58 423.29z" fill="none" stroke="#22cc22" stroke-width="0.9"/><path d="M112.38 419.62L114.98 419.62L114.98 421.92L117.28 421.92L117.28 424.52L114.98 424.52L114.98 426.82L112.38 426.82L112.38 424.52L110.08 424.52L110.08 421.92L112.38 421.92z" fill="none" stroke="#22cc22" stroke-width="0.9"/><path d="M116.18 420.41L118.78 420.41L118.78 422.71L121.08 422.71L121.08 425.31L118.78 425.31L118.78 427.61L116.18 427.61L116.18 425.31L113.88 425.31L113.88 422.71L116.18 422.71z" fill="none" stroke="#22cc22" stroke-width="0.9"/><path d="M119.97 420.24L122.57 420.24L122.57 422.54L124.87 422.54L124.87 425.14L122.57 425.14L122.57 427.44L119.97 427.44L119.97 425.14L117.67 425.14L117.67 422.54L119.97 422.54z" fill="none" stroke="#22cc22" stroke-width="0.9"/><path d="M123.77 419.25L126.37 419.25L126.37 421.55L128.67 421.55L128.67 424.15L126.37 424.15L126.37 426.45L123.77 426.45L123.77 424.15L121.47 424.15L121.47 421.55L123.77 421.55z" fill="none" stroke="#22cc22" stroke-width="0.9"/><path d="M127.57 420.49L130.17 420.49L130.17 422.79L132.47 422.79L132.47 425.39L130.17 425.39L130.17 427.69L127.57 427.69L127.57 425.39L125.27 425.39L125.27 422.79L127.57 422.79z" fill="none" stroke="#22cc22" stroke-width="0.9"/><path d="M131.37 428.36L133.97 428.36L133.97 430.66L136.27 430.66L136.27 433.26L133.97 433.26L133.97 435.56L131.37 435.56L131.37 433.26L129.07 433.26L129.07 430.66L131.37 430.66z" fill="none" stroke="#22cc22" stroke-width="0.9"/><path d="M135.17 429.56L137.77 429.56L137.77 431.86L140.07 431.86L140.07 434.46L137.77 434.46L137.77 436.76L135.17 436.76L135.17 434.46L132.87 434.46L132.87 431.86L135.17 431.86z" fill="none" stroke="#22cc22" stroke-width="0.9"/><path d="M138.97 424.66L141.57 424.66L141.57 426.96L143.87 426.96L143.87 429.56L141.57 429.56L141.57 431.86L138.97 431.86L138.97 429.56L136.67 429.56L136.67 426.96L138.97 426.96z" fill="none" stroke="#22cc22" stroke-width="0.9"/><path d="M142.77 418.21L145.37 418.21L145.37 420.51L147.67 420.51L147.67 423.11L145.37 423.11L145.37 425.41L142.77 425.41L142.77 423.11L140.47 423.11L140.47 420.51L142.77 420.51z" fill="none" stroke="#22cc22" stroke-width="0.9"/><path d="M146.56 418.1L149.17 418.1L149.17 420.4L151.47 420.4L151.47 423L149.17 423L149.17 425.3L146.56 425.3L146.56 423L144.27 423L144.27 420.4L146.56 420.4z" fill="none" stroke="#22cc22" stroke-width="0.9"/><path d="M150.36 416L152.96 416L152.96 418.3L155.26 418.3L155.26 420.9L152.96 420.9L152.96 423.2L150.36 423.2L150.36 420.9L148.06 420.9L148.06 418.3L150.36 418.3z" fill="none" stroke="#22cc22" stroke-width="0.9"/><path d="M154.16 416.25L156.76 416.25L156.76 418.55L159.06 418.55L159.06 421.15L156.76 421.15L156.76 423.45L154.16 423.45L154.16 421.15L151.86 421.15L151.86 418.55L154.16 418.55z" fill="none" stroke="#22cc22" stroke-width="0.9"/><path d="M157.96 414.42L160.56 414.42L160.56 416.72L162.86 416.72L162.86 419.32L160.56 419.32L160.56 421.62L157.96 421.62L157.96 419.32L155.66 419.32L155.66 416.72L157.96 416.72z" fill="none" stroke="#22cc22" stroke-width="0.9"/><path d="M161.76 413.75L164.36 413.75L164.36 416.05L166.66 416.05L166.66 418.65L164.36 418.65L164.36 420.95L161.76 420.95L161.76 418.65L159.46 418.65L159.46 416.05L161.76 416.05z" fill="none" stroke="#22cc22" stroke-width="0.9"/><path d="M165.56 414.57L168.16 414.57L168.16 416.87L170.46 416.87L170.46 419.47L168.16 419.47L168.16 421.77L165.56 421.77L165.56 419.47L163.26 419.47L163.26 416.87L165.56 416.87z" fill="none" stroke="#22cc22" stroke-width="0.9"/><path d="M169.36 413.72L171.96 413.72L171.96 416.02L174.26 416.02L174.26 418.62L171.96 418.62L171.96 420.92L169.36 420.92L169.36 418.62L167.06 418.62L167.06 416.02L169.36 416.02z" fill="none" stroke="#22cc22" stroke-width="0.9"/><path d="M173.15 415.97L175.75 415.97L175.75 418.27L178.05 418.27L178.05 420.87L175.75 420.87L175.75 423.17L173.15 423.17L173.15 420.87L170.85 420.87L170.85 418.27L173.15 418.27z" fill="none" stroke="#22cc22" stroke-width="0.9"/><path d="M176.95 415.65L179.55 415.65L179.55 417.95L181.85 417.95L181.85 420.55L179.55 420.55L179.55 422.85L176.95 422.85L176.95 420.55L174.65 420.55L174.65 417.95L176.95 417.95z" fill="none" stroke="#22cc22" stroke-width="0.9"/><path d="M180.75 417.1L183.35 417.1L183.35 419.4L185.65 419.4L185.65 422L183.35 422L183.35 424.3L180.75 424.3L180.75 422L178.45 422L178.45 419.4L180.75 419.4z" fill="none" stroke="#22cc22" stroke-width="0.9"/><path d="M184.55 417.74L187.15 417.74L187.15 420.04L189.45 420.04L189.45 422.64L187.15 422.64L187.15 424.94L184.55 424.94L184.55 422.64L182.25 422.64L182.25 420.04L184.55 420.04z" fill="none" stroke="#22cc22" stroke-width="0.9"/><path d="M188.35 416.56L190.95 416.56L190.95 418.86L193.25 418.86L193.25 421.46L190.95 421.46L190.95 423.76L188.35 423.76L188.35 421.46L186.05 421.46L186.05 418.86L188.35 418.86z" fill="none" stroke="#22cc22" stroke-width="0.9"/><path d="M192.15 417L194.75 417L194.75 419.3L197.05 419.3L197.05 421.9L194.75 421.9L194.75 424.2L192.15 424.2L192.15 421.9L189.85 421.9L189.85 419.3L192.15 419.3z" fill="none" stroke="#22cc22" stroke-width="0.9"/><path d="M195.95 414.49L198.55 414.49L198.55 416.79L200.85 416.79L200.85 419.39L198.55 419.39L198.55 421.69L195.95 421.69L195.95 419.39L193.65 419.39L193.65 416.79L195.95 416.79z" fill="none" stroke="#22cc22" stroke-width="0.9"/><path d="M199.75 414.61L202.35 414.61L202.35 416.91L204.65 416.91L204.65 419.51L202.35 419.51L202.35 421.81L199.75 421.81L199.75 419.51L197.45 419.51L197.45 416.91L199.75 416.91z" fill="none" stroke="#22cc22" stroke-width="0.9"/><path d="M203.54 413.54L206.14 413.54L206.14 415.84L208.44 415.84L208.44 418.44L206.14 418.44L206.14 420.74L203.54 420.74L203.54 418.44L201.24 418.44L201.24 415.84L203.54 415.84z" fill="none" stroke="#22cc22" stroke-width="0.9"/><path d="M207.34 412.84L209.94 412.84L209.94 415.14L212.24 415.14L212.24 417.74L209.94 417.74L209.94 420.04L207.34 420.04L207.34 417.74L205.04 417.74L205.04 415.14L207.34 415.14z" fill="none" stroke="#22cc22" stroke-width="0.9"/><path d="M211.14 414.71L213.74 414.71L213.74 417.01L216.04 417.01L216.04 419.61L213.74 419.61L213.74 421.91L211.14 421.91L211.14 419.61L208.84 419.61L208.84 417.01L211.14 417.01z" fill="none" stroke="#22cc22" stroke-width="0.9"/><path d="M214.94 413.91L217.54 413.91L217.54 416.21L219.84 416.21L219.84 418.81L217.54 418.81L217.54 421.11L214.94 421.11L214.94 418.81L212.64 418.81L212.64 416.21L214.94 416.21z" fill="none" stroke="#22cc22" stroke-width="0.9"/><path d="M218.74 416.32L221.34 416.32L221.34 418.62L223.64 418.62L223.64 421.22L221.34 421.22L221.34 423.52L218.74 423.52L218.74 421.22L216.44 421.22L216.44 418.62L218.74 418.62z" fill="none" stroke="#22cc22" stroke-width="0.9"/><path d="M222.54 416.44L225.14 416.44L225.14 418.74L227.44 418.74L227.44 421.34L225.14 421.34L225.14 423.64L222.54 423.64L222.54 421.34L220.24 421.34L220.24 418.74L222.54 418.74z" fill="none" stroke="#22cc22" stroke-width="0.9"/><path d="M226.33 418.02L228.94 418.02L228.94 420.32L231.23 420.32L231.23 422.92L228.94 422.92L228.94 425.22L226.33 425.22L226.33 422.92L224.03 422.92L224.03 420.32L226.33 420.32z" fill="none" stroke="#22cc22" stroke-width="0.9"/><path d="M230.13 421.27L232.73 421.27L232.73 423.57L235.03 423.57L235.03 426.17L232.73 426.17L232.73 428.47L230.13 428.47L230.13 426.17L227.83 426.17L227.83 423.57L230.13 423.57z" fill="none" stroke="#22cc22" stroke-width="0.9"/><path d="M233.93 424.42L236.53 424.42L236.53 426.72L238.83 426.72L238.83 429.32L236.53 429.32L236.53 431.62L233.93 431.62L233.93 429.32L231.63 429.32L231.63 426.72L233.93 426.72z" fill="none" stroke="#22cc22" stroke-width="0.9"/><path d="M237.73 429.96L240.33 429.96L240.33 432.26L242.63 432.26L242.63 434.86L240.33 434.86L240.33 437.16L237.73 437.16L237.73 434.86L235.43 434.86L235.43 432.26L237.73 432.26z" fill="none" stroke="#22cc22" stroke-width="0.9"/><path d="M241.53 428.7L244.13 428.7L244.13 431L246.43 431L246.43 433.6L244.13 433.6L244.13 435.9L241.53 435.9L241.53 433.6L239.23 433.6L239.23 431L241.53 431z" fill="none" stroke="#22cc22" stroke-width="0.9"/><path d="M245.33 419.8L247.93 419.8L247.93 422.1L250.23 422.1L250.23 424.7L247.93 424.7L247.93 427L245.33 427L245.33 424.7L243.03 424.7L243.03 422.1L245.33 422.1z" fill="none" stroke="#22cc22" stroke-width="0.9"/><path d="M249.13 420.73L251.73 420.73L251.73 423.03L254.03 423.03L254.03 425.63L251.73 425.63L251.73 427.93L249.13 427.93L249.13 425.63L246.83 425.63L246.83 423.03L249.13 423.03z" fill="none" stroke="#22cc22" stroke-width="0.9"/><path d="M252.92 420.55L255.52 420.55L255.52 422.85L257.82 422.85L257.82 425.45L255.52 425.45L255.52 427.75L252.92 427.75L252.92 425.45L250.62 425.45L250.62 422.85L252.92 422.85z" fill="none" stroke="#22cc22" stroke-width="0.9"/><path d="M256.72 422.91L259.32 422.91L259.32 425.21L261.62 425.21L261.62 427.81L259.32 427.81L259.32 430.11L256.72 430.11L256.72 427.81L254.42 427.81L254.42 425.21L256.72 425.21z" fill="none" stroke="#22cc22" stroke-width="0.9"/><path d="M260.52 421.61L263.12 421.61L263.12 423.91L265.42 423.91L265.42 426.51L263.12 426.51L263.12 428.81L260.52 428.81L260.52 426.51L258.22 426.51L258.22 423.91L260.52 423.91z" fill="none" stroke="#22cc22" stroke-width="0.9"/><path d="M264.32 422.77L266.92 422.77L266.92 425.07L269.22 425.07L269.22 427.67L266.92 427.67L266.92 429.97L264.32 429.97L264.32 427.67L262.02 427.67L262.02 425.07L264.32 425.07z" fill="none" stroke="#22cc22" stroke-width="0.9"/><path d="M268.12 422.82L270.72 422.82L270.72 425.12L273.02 425.12L273.02 427.72L270.72 427.72L270.72 430.02L268.12 430.02L268.12 427.72L265.82 427.72L265.82 425.12L268.12 425.12z" fill="none" stroke="#22cc22" stroke-width="0.9"/><path d="M271.92 422.87L274.52 422.87L274.52 425.17L276.82 425.17L276.82 427.77L274.52 427.77L274.52 430.07L271.92 430.07L271.92 427.77L269.62 427.77L269.62 425.17L271.92 425.17z" fill="none" stroke="#22cc22" stroke-width="0.9"/><path d="M275.72 425.67L278.32 425.67L278.32 427.97L280.62 427.97L280.62 430.57L278.32 430.57L278.32 432.87L275.72 432.87L275.72 430.57L273.42 430.57L273.42 427.97L275.72 427.97z" fill="none" stroke="#22cc22" stroke-width="0.9"/><path d="M279.51 425.52L282.12 425.52L282.12 427.82L284.42 427.82L284.42 430.42L282.12 430.42L282.12 432.72L279.51 432.72L279.51 430.42L277.21 430.42L277.21 427.82L279.51 427.82z" fill="none" stroke="#22cc22" stroke-width="0.9"/><path d="M283.31 427.44L285.91 427.44L285.91 429.74L288.21 429.74L288.21 432.34L285.91 432.34L285.91 434.64L283.31 434.64L283.31 432.34L281.01 432.34L281.01 429.74L283.31 429.74z" fill="none" stroke="#22cc22" stroke-width="0.9"/><path d="M287.11 427.46L289.71 427.46L289.71 429.76L292.01 429.76L292.01 432.36L289.71 432.36L289.71 434.66L287.11 434.66L287.11 432.36L284.81 432.36L284.81 429.76L287.11 429.76z" fill="none" stroke="#22cc22" stroke-width="0.9"/><path d="M290.91 428.12L293.51 428.12L293.51 430.42L295.81 430.42L295.81 433.02L293.51 433.02L293.51 435.32L290.91 435.32L290.91 433.02L288.61 433.02L288.61 430.42L290.91 430.42z" fill="none" stroke="#22cc22" stroke-width="0.9"/></g>
<g><path d="M79.49 425.23L80.38 427.6L82.91 427.71L80.93 429.29L81.61 431.74L79.49 430.34L77.37 431.74L78.05 429.29L76.07 427.71L78.6 427.6z" fill="none" stroke="#ff9933" stroke-width="0.9"/><path d="M83.29 427.64L84.18 430.02L86.71 430.13L84.73 431.71L85.41 434.16L83.29 432.76L81.17 434.16L81.85 431.71L79.87 430.13L82.4 430.02z" fill="none" stroke="#ff9933" stroke-width="0.9"/><path d="M87.09 425.39L87.98 427.77L90.51 427.88L88.53 429.46L89.2 431.9L87.09 430.5L84.97 431.9L85.65 429.46L83.66 427.88L86.2 427.77z" fill="none" stroke="#ff9933" stroke-width="0.9"/><path d="M90.89 423.9L91.78 426.28L94.31 426.39L92.32 427.97L93 430.41L90.89 429.01L88.77 430.41L89.45 427.97L87.46 426.39L90 426.28z" fill="none" stroke="#ff9933" stroke-width="0.9"/><path d="M94.68 424.25L95.57 426.63L98.11 426.74L96.12 428.32L96.8 430.77L94.68 429.37L92.57 430.77L93.25 428.32L91.26 426.74L93.8 426.63z" fill="none" stroke="#ff9933" stroke-width="0.9"/><path d="M98.48 421.02L99.37 423.4L101.91 423.51L99.92 425.09L100.6 427.53L98.48 426.13L96.37 427.53L97.05 425.09L95.06 423.51L97.59 423.4z" fill="none" stroke="#ff9933" stroke-width="0.9"/><path d="M102.28 421.77L103.17 424.15L105.71 424.26L103.72 425.84L104.4 428.28L102.28 426.88L100.17 428.28L100.84 425.84L98.86 424.26L101.39 424.15z" fill="none" stroke="#ff9933" stroke-width="0.9"/><path d="M106.08 420.41L106.97 422.79L109.5 422.9L107.52 424.48L108.2 426.93L106.08 425.53L103.96 426.93L104.64 424.48L102.66 422.9L105.19 422.79z" fill="none" stroke="#ff9933" stroke-width="0.9"/><path d="M109.88 419.75L110.77 422.12L113.3 422.23L111.32 423.81L112 426.26L109.88 424.86L107.76 426.26L108.44 423.81L106.46 422.23L108.99 422.12z" fill="none" stroke="#ff9933" stroke-width="0.9"/><path d="M113.68 420.62L114.57 422.99L117.1 423.11L115.12 424.68L115.79 427.13L113.68 425.73L111.56 427.13L112.24 424.68L110.25 423.11L112.79 422.99z" fill="none" stroke="#ff9933" stroke-width="0.9"/><path d="M117.48 419.21L118.37 421.58L120.9 421.69L118.91 423.27L119.59 425.72L117.48 424.32L115.36 425.72L116.04 423.27L114.05 421.69L116.59 421.58z" fill="none" stroke="#ff9933" stroke-width="0.9"/><path d="M121.27 420.53L122.16 422.9L124.7 423.02L122.71 424.6L123.39 427.04L121.27 425.64L119.16 427.04L119.84 424.6L117.85 423.02L120.39 422.9z" fill="none" stroke="#ff9933" stroke-width="0.9"/><path d="M125.07 419.21L125.96 421.59L128.5 421.7L126.51 423.28L127.19 425.72L125.07 424.32L122.96 425.72L123.64 423.28L121.65 421.7L124.18 421.59z" fill="none" stroke="#ff9933" stroke-width="0.9"/><path d="M128.87 419.52L129.76 421.9L132.3 422.01L130.31 423.59L130.99 426.03L128.87 424.63L126.76 426.03L127.43 423.59L125.45 422.01L127.98 421.9z" fill="none" stroke="#ff9933" stroke-width="0.9"/><path d="M132.67 429.31L133.56 431.68L136.09 431.79L134.11 433.37L134.79 435.82L132.67 434.42L130.55 435.82L131.23 433.37L129.25 431.79L131.78 431.68z" fill="none" stroke="#ff9933" stroke-width="0.9"/><path d="M136.47 428.19L137.36 430.57L139.89 430.68L137.91 432.26L138.59 434.7L136.47 433.3L134.35 434.7L135.03 432.26L133.05 430.68L135.58 430.57z" fill="none" stroke="#ff9933" stroke-width="0.9"/><path d="M140.27 425.3L141.16 427.67L143.69 427.79L141.71 429.36L142.38 431.81L140.27 430.41L138.15 431.81L138.83 429.36L136.84 427.79L139.38 427.67z" fill="none" stroke="#ff9933" stroke-width="0.9"/><path d="M144.07 417.76L144.96 420.13L147.49 420.24L145.5 421.82L146.18 424.27L144.07 422.87L141.95 424.27L142.63 421.82L140.64 420.24L143.18 420.13z" fill="none" stroke="#ff9933" stroke-width="0.9"/><path d="M147.87 417.49L148.75 419.87L151.29 419.98L149.3 421.56L149.98 424.01L147.87 422.61L145.75 424.01L146.43 421.56L144.44 419.98L146.98 419.87z" fill="none" stroke="#ff9933" stroke-width="0.9"/><path d="M151.66 416.75L152.55 419.12L155.09 419.23L153.1 420.81L153.78 423.26L151.66 421.86L149.55 423.26L150.23 420.81L148.24 419.23L150.77 419.12z" fill="none" stroke="#ff9933" stroke-width="0.9"/><path d="M155.46 414.86L156.35 417.24L158.89 417.35L156.9 418.93L157.58 421.37L155.46 419.97L153.35 421.37L154.02 418.93L152.04 417.35L154.57 417.24z" fill="none" stroke="#ff9933" stroke-width="0.9"/><path d="M159.26 415.31L160.15 417.68L162.68 417.79L160.7 419.37L161.38 421.82L159.26 420.42L157.14 421.82L157.82 419.37L155.84 417.79L158.37 417.68z" fill="none" stroke="#ff9933" stroke-width="0.9"/><path d="M163.06 412.91L163.95 415.28L166.48 415.39L164.5 416.97L165.18 419.42L163.06 418.02L160.94 419.42L161.62 416.97L159.64 415.39L162.17 415.28z" fill="none" stroke="#ff9933" stroke-width="0.9"/><path d="M166.86 414.38L167.75 416.76L170.28 416.87L168.3 418.45L168.97 420.89L166.86 419.49L164.74 420.89L165.42 418.45L163.43 416.87L165.97 416.76z" fill="none" stroke="#ff9933" stroke-width="0.9"/><path d="M170.66 414.15L171.55 416.53L174.08 416.64L172.09 418.22L172.77 420.66L170.66 419.26L168.54 420.66L169.22 418.22L167.23 416.64L169.77 416.53z" fill="none" stroke="#ff9933" stroke-width="0.9"/><path d="M174.45 414.69L175.34 417.07L177.88 417.18L175.89 418.76L176.57 421.21L174.45 419.81L172.34 421.21L173.02 418.76L171.03 417.18L173.57 417.07z" fill="none" stroke="#ff9933" stroke-width="0.9"/><path d="M178.25 416.65L179.14 419.03L181.68 419.14L179.69 420.72L180.37 423.16L178.25 421.76L176.14 423.16L176.82 420.72L174.83 419.14L177.36 419.03z" fill="none" stroke="#ff9933" stroke-width="0.9"/><path d="M182.05 415.95L182.94 418.33L185.48 418.44L183.49 420.02L184.17 422.46L182.05 421.06L179.94 422.46L180.61 420.02L178.63 418.44L181.16 418.33z" fill="none" stroke="#ff9933" stroke-width="0.9"/><path d="M185.85 417.95L186.74 420.33L189.27 420.44L187.29 422.02L187.97 424.47L185.85 423.07L183.73 424.47L184.41 422.02L182.43 420.44L184.96 420.33z" fill="none" stroke="#ff9933" stroke-width="0.9"/><path d="M189.65 416.61L190.54 418.98L193.07 419.09L191.09 420.67L191.77 423.12L189.65 421.72L187.53 423.12L188.21 420.67L186.23 419.09L188.76 418.98z" fill="none" stroke="#ff9933" stroke-width="0.9"/><path d="M193.45 415.97L194.34 418.34L196.87 418.45L194.89 420.03L195.56 422.48L193.45 421.08L191.33 422.48L192.01 420.03L190.02 418.45L192.56 418.34z" fill="none" stroke="#ff9933" stroke-width="0.9"/><path d="M197.25 415.45L198.14 417.83L200.67 417.94L198.68 419.52L199.36 421.96L197.25 420.56L195.13 421.96L195.81 419.52L193.82 417.94L196.36 417.83z" fill="none" stroke="#ff9933" stroke-width="0.9"/><path d="M201.05 413.27L201.93 415.64L204.47 415.75L202.48 417.33L203.16 419.78L201.05 418.38L198.93 419.78L199.61 417.33L197.62 415.75L200.16 415.64z" fill="none" stroke="#ff9933" stroke-width="0.9"/><path d="M204.84 414.11L205.73 416.49L208.27 416.6L206.28 418.18L206.96 420.63L204.84 419.22L202.73 420.63L203.41 418.18L201.42 416.6L203.95 416.49z" fill="none" stroke="#ff9933" stroke-width="0.9"/><path d="M208.64 412.46L209.53 414.84L212.07 414.95L210.08 416.53L210.76 418.97L208.64 417.57L206.53 418.97L207.2 416.53L205.22 414.95L207.75 414.84z" fill="none" stroke="#ff9933" stroke-width="0.9"/><path d="M212.44 414.03L213.33 416.4L215.86 416.52L213.88 418.1L214.56 420.54L212.44 419.14L210.32 420.54L211 418.1L209.02 416.52L211.55 416.4z" fill="none" stroke="#ff9933" stroke-width="0.9"/><path d="M216.24 414.7L217.13 417.08L219.66 417.19L217.68 418.77L218.36 421.21L216.24 419.81L214.12 421.21L214.8 418.77L212.82 417.19L215.35 417.08z" fill="none" stroke="#ff9933" stroke-width="0.9"/><path d="M220.04 414.92L220.93 417.3L223.46 417.41L221.48 418.99L222.15 421.43L220.04 420.03L217.92 421.43L218.6 418.99L216.61 417.41L219.15 417.3z" fill="none" stroke="#ff9933" stroke-width="0.9"/><path d="M223.84 417.28L224.73 419.66L227.26 419.77L225.27 421.35L225.95 423.8L223.84 422.4L221.72 423.8L222.4 421.35L220.41 419.77L222.95 419.66z" fill="none" stroke="#ff9933" stroke-width="0.9"/><path d="M227.63 417.25L228.52 419.63L231.06 419.74L229.07 421.32L229.75 423.76L227.63 422.36L225.52 423.76L226.2 421.32L224.21 419.74L226.75 419.63z" fill="none" stroke="#ff9933" stroke-width="0.9"/><path d="M231.43 420.99L232.32 423.37L234.86 423.48L232.87 425.06L233.55 427.5L231.43 426.1L229.32 427.5L230 425.06L228.01 423.48L230.54 423.37z" fill="none" stroke="#ff9933" stroke-width="0.9"/><path d="M235.23 424.92L236.12 427.3L238.66 427.41L236.67 428.99L237.35 431.43L235.23 430.03L233.12 431.43L233.79 428.99L231.81 427.41L234.34 427.3z" fill="none" stroke="#ff9933" stroke-width="0.9"/><path d="M239.03 428.65L239.92 431.02L242.45 431.13L240.47 432.71L241.15 435.16L239.03 433.76L236.91 435.16L237.59 432.71L235.61 431.13L238.14 431.02z" fill="none" stroke="#ff9933" stroke-width="0.9"/><path d="M242.83 429.68L243.72 432.06L246.25 432.17L244.27 433.75L244.95 436.19L242.83 434.79L240.71 436.19L241.39 433.75L239.41 432.17L241.94 432.06z" fill="none" stroke="#ff9933" stroke-width="0.9"/><path d="M246.63 418.7L247.52 421.08L250.05 421.19L248.07 422.77L248.74 425.21L246.63 423.81L244.51 425.21L245.19 422.77L243.2 421.19L245.74 421.08z" fill="none" stroke="#ff9933" stroke-width="0.9"/><path d="M250.43 420.87L251.32 423.25L253.85 423.36L251.86 424.94L252.54 427.38L250.43 425.98L248.31 427.38L248.99 424.94L247 423.36L249.54 423.25z" fill="none" stroke="#ff9933" stroke-width="0.9"/><path d="M254.22 420.68L255.11 423.05L257.65 423.16L255.66 424.74L256.34 427.19L254.22 425.79L252.11 427.19L252.79 424.74L250.8 423.16L253.34 423.05z" fill="none" stroke="#ff9933" stroke-width="0.9"/><path d="M258.02 421.82L258.91 424.2L261.45 424.31L259.46 425.89L260.14 428.34L258.02 426.94L255.91 428.34L256.59 425.89L254.6 424.31L257.13 424.2z" fill="none" stroke="#ff9933" stroke-width="0.9"/><path d="M261.82 422.59L262.71 424.97L265.25 425.08L263.26 426.66L263.94 429.1L261.82 427.7L259.71 429.1L260.38 426.66L258.4 425.08L260.93 424.97z" fill="none" stroke="#ff9933" stroke-width="0.9"/><path d="M265.62 421.45L266.51 423.82L269.04 423.93L267.06 425.51L267.74 427.96L265.62 426.56L263.5 427.96L264.18 425.51L262.2 423.93L264.73 423.82z" fill="none" stroke="#ff9933" stroke-width="0.9"/><path d="M269.42 423.31L270.31 425.69L272.84 425.8L270.86 427.38L271.54 429.83L269.42 428.43L267.3 429.83L267.98 427.38L266 425.8L268.53 425.69z" fill="none" stroke="#ff9933" stroke-width="0.9"/><path d="M273.22 422.5L274.11 424.88L276.64 424.99L274.66 426.57L275.33 429.01L273.22 427.61L271.1 429.01L271.78 426.57L269.79 424.99L272.33 424.88z" fill="none" stroke="#ff9933" stroke-width="0.9"/><path d="M277.02 424.63L277.91 427.01L280.44 427.12L278.45 428.7L279.13 431.14L277.02 429.74L274.9 431.14L275.58 428.7L273.59 427.12L276.13 427.01z" fill="none" stroke="#ff9933" stroke-width="0.9"/><path d="M280.81 425.62L281.7 427.99L284.24 428.11L282.25 429.68L282.93 432.13L280.81 430.73L278.7 432.13L279.38 429.68L277.39 428.11L279.93 427.99z" fill="none" stroke="#ff9933" stroke-width="0.9"/><path d="M284.61 424.64L285.5 427.02L288.04 427.13L286.05 428.71L286.73 431.15L284.61 429.75L282.5 431.15L283.18 428.71L281.19 427.13L283.72 427.02z" fill="none" stroke="#ff9933" stroke-width="0.9"/><path d="M288.41 426.34L289.3 428.71L291.84 428.82L289.85 430.4L290.53 432.85L288.41 431.45L286.3 432.85L286.97 430.4L284.99 428.82L287.52 428.71z" fill="none" stroke="#ff9933" stroke-width="0.9"/><path d="M292.21 425.5L293.1 427.88L295.63 427.99L293.65 429.57L294.33 432.01L292.21 430.61L290.09 432.01L290.77 429.57L288.79 427.99L291.32 427.88z" fill="none" stroke="#ff9933" stroke-width="0.9"/><path d="M296.01 425.62L296.9 428L299.43 428.11L297.45 429.69L298.13 432.13L296.01 430.73L293.89 432.13L294.57 429.69L292.59 428.11L295.12 428z" fill="none" stroke="#ff9933" stroke-width="0.9"/></g>
<path d="M402.6 482.3h8M669.2 482.3h-8M402.6 478.69h4.2M669.2 478.69h-4.2M402.6 475.08h4.2M669.2 475.08h-4.2M402.6 471.46h4.2M669.2 471.46h-4.2M402.6 467.85h4.2M669.2 467.85h-4.2M402.6 464.24h8M669.2 464.24h-8M402.6 460.63h4.2M669.2 460.63h-4.2M402.6 457.02h4.2M669.2 457.02h-4.2M402.6 453.4h4.2M669.2 453.4h-4.2M402.6 449.79h4.2M669.2 449.79h-4.2M402.6 446.18h8M669.2 446.18h-8M402.6 442.57h4.2M669.2 442.57h-4.2M402.6 438.96h4.2M669.2 438.96h-4.2M402.6 435.34h4.2M669.2 435.34h-4.2M402.6 431.73h4.2M669.2 431.73h-4.2M402.6 428.12h8M669.2 428.12h-8M402.6 424.51h4.2M669.2 424.51h-4.2M402.6 420.9h4.2M669.2 420.9h-4.2M402.6 417.28h4.2M669.2 417.28h-4.2M402.6 413.67h4.2M669.2 413.67h-4.2M402.6 410.06h8M669.2 410.06h-8M402.6 406.45h4.2M669.2 406.45h-4.2M402.6 402.84h4.2M669.2 402.84h-4.2M402.6 399.22h4.2M669.2 399.22h-4.2M402.6 395.61h4.2M669.2 395.61h-4.2M402.6 392h8M669.2 392h-8M402.6 388.39h4.2M669.2 388.39h-4.2M402.6 384.78h4.2M669.2 384.78h-4.2M402.6 381.16h4.2M669.2 381.16h-4.2M402.6 377.55h4.2M669.2 377.55h-4.2M402.6 373.94h4.2M669.2 373.94h-8M402.6 370.33h4.2M669.2 370.33h-4.2M402.6 366.72h4.2M669.2 366.72h-4.2M402.6 363.1h4.2M669.2 363.1h-4.2M402.6 359.49h4.2M669.2 359.49h-4.2M402.6 355.88h4.2M669.2 355.88h-8M402.6 352.27h4.2M669.2 352.27h-4.2M402.6 348.66h4.2M669.2 348.66h-4.2M402.6 345.04h4.2M669.2 345.04h-4.2M402.6 341.43h4.2M669.2 341.43h-4.2M402.6 337.82h4.2M669.2 337.82h-8M402.6 334.21h4.2M669.2 334.21h-4.2M402.6 330.6h4.2M669.2 330.6h-4.2M402.6 326.98h4.2M669.2 326.98h-4.2M402.6 323.37h4.2M669.2 323.37h-4.2M402.6 319.76h4.2M669.2 319.76h-8M402.6 316.15h4.2M669.2 316.15h-4.2M402.6 312.54h4.2M669.2 312.54h-4.2M402.6 308.92h4.2M669.2 308.92h-4.2M402.6 305.31h4.2M669.2 305.31h-4.2M402.6 301.7h8M669.2 301.7h-8M406.41 482.3v-2.6M406.41 301.7v2.6M414.03 482.3v-2.6M414.03 301.7v2.6M421.64 482.3v-5.1M421.64 301.7v5.1M429.26 482.3v-2.6M429.26 301.7v2.6M436.88 482.3v-2.6M436.88 301.7v2.6M444.49 482.3v-2.6M444.49 301.7v2.6M452.11 482.3v-2.6M452.11 301.7v2.6M459.73 482.3v-5.1M459.73 301.7v5.1M467.35 482.3v-2.6M467.35 301.7v2.6M474.96 482.3v-2.6M474.96 301.7v2.6M482.58 482.3v-2.6M482.58 301.7v2.6M490.2 482.3v-2.6M490.2 301.7v2.6M497.81 482.3v-5.1M497.81 301.7v5.1M505.43 482.3v-2.6M505.43 301.7v2.6M513.05 482.3v-2.6M513.05 301.7v2.6M520.67 482.3v-2.6M520.67 301.7v2.6M528.28 482.3v-2.6M528.28 301.7v2.6M535.9 482.3v-5.1M535.9 301.7v5.1M543.52 482.3v-2.6M543.52 301.7v2.6M551.13 482.3v-2.6M551.13 301.7v2.6M558.75 482.3v-2.6M558.75 301.7v2.6M566.37 482.3v-2.6M566.37 301.7v2.6M573.99 482.3v-5.1M573.99 301.7v5.1M581.6 482.3v-2.6M581.6 301.7v2.6M589.22 482.3v-2.6M589.22 301.7v2.6M596.84 482.3v-2.6M596.84 301.7v2.6M604.45 482.3v-2.6M604.45 301.7v2.6M612.07 482.3v-5.1M612.07 301.7v5.1M619.69 482.3v-2.6M619.69 301.7v2.6M627.31 482.3v-2.6M627.31 301.7v2.6M634.92 482.3v-2.6M634.92 301.7v2.6M642.54 482.3v-2.6M642.54 301.7v2.6M650.16 482.3v-5.1M650.16 301.7v5.1M657.77 482.3v-2.6M657.77 301.7v2.6M665.39 482.3v-2.6M665.39 301.7v2.6" stroke="#333" stroke-width="1" fill="none"/>
<path d="M402.6 482.3V301.7H669.2V482.3" stroke="#222" stroke-width="1.2" fill="none"/>
<path d="M402 482.3H669.8" stroke="#262626" stroke-width="1.1" fill="none"/>
<g font-size="10"><text x="400.4" y="486.6" text-anchor="end">0.8</text><text x="400.4" y="468.54" text-anchor="end">0.85</text><text x="400.4" y="450.48" text-anchor="end">0.9</text><text x="400.4" y="432.42" text-anchor="end">0.95</text><text x="400.4" y="414.36" text-anchor="end">1</text><text x="400.4" y="396.3" text-anchor="end">1.05</text><text x="400.4" y="378.24" text-anchor="end">1.1</text><text x="400.4" y="360.18" text-anchor="end">1.15</text><text x="400.4" y="342.12" text-anchor="end">1.2</text><text x="400.4" y="324.06" text-anchor="end">1.25</text><text x="400.4" y="306" text-anchor="end">1.3</text><text x="421.64" y="492.8" text-anchor="middle">-3</text><text x="459.73" y="492.8" text-anchor="middle">-2</text><text x="497.81" y="492.8" text-anchor="middle">-1</text><text x="535.9" y="492.8" text-anchor="middle">0</text><text x="573.99" y="492.8" text-anchor="middle">1</text><text x="612.07" y="492.8" text-anchor="middle">2</text><text x="650.16" y="492.8" text-anchor="middle">3</text></g>
<g><circle cx="495.91" cy="429.45" r="2.9" fill="none" stroke="#ff2222" stroke-width="0.9"/><circle cx="499.72" cy="429.19" r="2.9" fill="none" stroke="#ff2222" stroke-width="0.9"/><circle cx="503.53" cy="427.29" r="2.9" fill="none" stroke="#ff2222" stroke-width="0.9"/><circle cx="507.34" cy="427.1" r="2.9" fill="none" stroke="#ff2222" stroke-width="0.9"/><circle cx="511.14" cy="428.22" r="2.9" fill="none" stroke="#ff2222" stroke-width="0.9"/><circle cx="514.95" cy="428.01" r="2.9" fill="none" stroke="#ff2222" stroke-width="0.9"/><circle cx="518.76" cy="430.26" r="2.9" fill="none" stroke="#ff2222" stroke-width="0.9"/><circle cx="522.57" cy="432.3" r="2.9" fill="none" stroke="#ff2222" stroke-width="0.9"/><circle cx="526.38" cy="432.52" r="2.9" fill="none" stroke="#ff2222" stroke-width="0.9"/><circle cx="530.19" cy="434.4" r="2.9" fill="none" stroke="#ff2222" stroke-width="0.9"/><circle cx="534" cy="434.54" r="2.9" fill="none" stroke="#ff2222" stroke-width="0.9"/><circle cx="537.8" cy="433.1" r="2.9" fill="none" stroke="#ff2222" stroke-width="0.9"/><circle cx="541.61" cy="432.95" r="2.9" fill="none" stroke="#ff2222" stroke-width="0.9"/><circle cx="545.42" cy="431.24" r="2.9" fill="none" stroke="#ff2222" stroke-width="0.9"/><circle cx="549.23" cy="429.56" r="2.9" fill="none" stroke="#ff2222" stroke-width="0.9"/><circle cx="553.04" cy="429.35" r="2.9" fill="none" stroke="#ff2222" stroke-width="0.9"/><circle cx="556.85" cy="427.34" r="2.9" fill="none" stroke="#ff2222" stroke-width="0.9"/><circle cx="560.66" cy="425.57" r="2.9" fill="none" stroke="#ff2222" stroke-width="0.9"/><circle cx="564.46" cy="424.78" r="2.9" fill="none" stroke="#ff2222" stroke-width="0.9"/><circle cx="568.27" cy="425.07" r="2.9" fill="none" stroke="#ff2222" stroke-width="0.9"/><circle cx="572.08" cy="426.69" r="2.9" fill="none" stroke="#ff2222" stroke-width="0.9"/><circle cx="575.89" cy="428.29" r="2.9" fill="none" stroke="#ff2222" stroke-width="0.9"/></g>
<g><rect x="454.82" y="420.47" width="6" height="6" fill="none" stroke="#3333ff" stroke-width="0.9"/><rect x="458.63" y="420.43" width="6" height="6" fill="none" stroke="#3333ff" stroke-width="0.9"/><rect x="462.44" y="421.56" width="6" height="6" fill="none" stroke="#3333ff" stroke-width="0.9"/><rect x="466.25" y="425.55" width="6" height="6" fill="none" stroke="#3333ff" stroke-width="0.9"/><rect x="470.06" y="428.27" width="6" height="6" fill="none" stroke="#3333ff" stroke-width="0.9"/><rect x="473.87" y="429.35" width="6" height="6" fill="none" stroke="#3333ff" stroke-width="0.9"/><rect x="477.68" y="431.16" width="6" height="6" fill="none" stroke="#3333ff" stroke-width="0.9"/><rect x="481.48" y="432.62" width="6" height="6" fill="none" stroke="#3333ff" stroke-width="0.9"/><rect x="485.29" y="429.68" width="6" height="6" fill="none" stroke="#3333ff" stroke-width="0.9"/><rect x="489.1" y="427.59" width="6" height="6" fill="none" stroke="#3333ff" stroke-width="0.9"/><rect x="492.91" y="425.18" width="6" height="6" fill="none" stroke="#3333ff" stroke-width="0.9"/><rect x="496.72" y="424.05" width="6" height="6" fill="none" stroke="#3333ff" stroke-width="0.9"/><rect x="500.53" y="423.48" width="6" height="6" fill="none" stroke="#3333ff" stroke-width="0.9"/><rect x="504.34" y="422.69" width="6" height="6" fill="none" stroke="#3333ff" stroke-width="0.9"/><rect x="508.14" y="423.51" width="6" height="6" fill="none" stroke="#3333ff" stroke-width="0.9"/><rect x="511.95" y="423.97" width="6" height="6" fill="none" stroke="#3333ff" stroke-width="0.9"/><rect x="515.76" y="423.02" width="6" height="6" fill="none" stroke="#3333ff" stroke-width="0.9"/><rect x="519.57" y="424.79" width="6" height="6" fill="none" stroke="#3333ff" stroke-width="0.9"/><rect x="523.38" y="425.75" width="6" height="6" fill="none" stroke="#3333ff" stroke-width="0.9"/><rect x="527.19" y="425.11" width="6" height="6" fill="none" stroke="#3333ff" stroke-width="0.9"/><rect x="531" y="426.23" width="6" height="6" fill="none" stroke="#3333ff" stroke-width="0.9"/><rect x="534.8" y="426.12" width="6" height="6" fill="none" stroke="#3333ff" stroke-width="0.9"/><rect x="538.61" y="424.12" width="6" height="6" fill="none" stroke="#3333ff" stroke-width="0.9"/><rect x="542.42" y="424.41" width="6" height="6" fill="none" stroke="#3333ff" stroke-width="0.9"/><rect x="546.23" y="423.28" width="6" height="6" fill="none" stroke="#3333ff" stroke-width="0.9"/><rect x="550.04" y="421.95" width="6" height="6" fill="none" stroke="#3333ff" stroke-width="0.9"/><rect x="553.85" y="422.4" width="6" height="6" fill="none" stroke="#3333ff" stroke-width="0.9"/><rect x="557.66" y="421.16" width="6" height="6" fill="none" stroke="#3333ff" stroke-width="0.9"/><rect x="561.46" y="420.23" width="6" height="6" fill="none" stroke="#3333ff" stroke-width="0.9"/><rect x="565.27" y="422.73" width="6" height="6" fill="none" stroke="#3333ff" stroke-width="0.9"/><rect x="569.08" y="423.59" width="6" height="6" fill="none" stroke="#3333ff" stroke-width="0.9"/><rect x="572.89" y="425.74" width="6" height="6" fill="none" stroke="#3333ff" stroke-width="0.9"/><rect x="576.7" y="429" width="6" height="6" fill="none" stroke="#3333ff" stroke-width="0.9"/><rect x="580.51" y="429.01" width="6" height="6" fill="none" stroke="#3333ff" stroke-width="0.9"/><rect x="584.32" y="430.25" width="6" height="6" fill="none" stroke="#3333ff" stroke-width="0.9"/><rect x="588.12" y="427.15" width="6" height="6" fill="none" stroke="#3333ff" stroke-width="0.9"/><rect x="591.93" y="422.29" width="6" height="6" fill="none" stroke="#3333ff" stroke-width="0.9"/><rect x="595.74" y="420.52" width="6" height="6" fill="none" stroke="#3333ff" stroke-width="0.9"/><rect x="599.55" y="418.91" width="6" height="6" fill="none" stroke="#3333ff" stroke-width="0.9"/><rect x="603.36" y="418.66" width="6" height="6" fill="none" stroke="#3333ff" stroke-width="0.9"/><rect x="607.17" y="420.83" width="6" height="6" fill="none" stroke="#3333ff" stroke-width="0.9"/><rect x="610.98" y="422.38" width="6" height="6" fill="none" stroke="#3333ff" stroke-width="0.9"/></g>
<g><path d="M450.21 428.1l3.2 6.08h-6.4z" fill="none" stroke="#cc22cc" stroke-width="0.9"/><path d="M454.02 423.23l3.2 6.08h-6.4z" fill="none" stroke="#cc22cc" stroke-width="0.9"/><path d="M457.82 425.32l3.2 6.08h-6.4z" fill="none" stroke="#cc22cc" stroke-width="0.9"/><path d="M461.63 430.27l3.2 6.08h-6.4z" fill="none" stroke="#cc22cc" stroke-width="0.9"/><path d="M465.44 431.6l3.2 6.08h-6.4z" fill="none" stroke="#cc22cc" stroke-width="0.9"/><path d="M469.25 427.82l3.2 6.08h-6.4z" fill="none" stroke="#cc22cc" stroke-width="0.9"/><path d="M473.06 428.1l3.2 6.08h-6.4z" fill="none" stroke="#cc22cc" stroke-width="0.9"/><path d="M476.87 427.06l3.2 6.08h-6.4z" fill="none" stroke="#cc22cc" stroke-width="0.9"/><path d="M480.68 426.75l3.2 6.08h-6.4z" fill="none" stroke="#cc22cc" stroke-width="0.9"/><path d="M484.48 428.38l3.2 6.08h-6.4z" fill="none" stroke="#cc22cc" stroke-width="0.9"/><path d="M488.29 426.33l3.2 6.08h-6.4z" fill="none" stroke="#cc22cc" stroke-width="0.9"/><path d="M492.1 424.97l3.2 6.08h-6.4z" fill="none" stroke="#cc22cc" stroke-width="0.9"/><path d="M495.91 424.57l3.2 6.08h-6.4z" fill="none" stroke="#cc22cc" stroke-width="0.9"/><path d="M499.72 421.94l3.2 6.08h-6.4z" fill="none" stroke="#cc22cc" stroke-width="0.9"/><path d="M503.53 420.61l3.2 6.08h-6.4z" fill="none" stroke="#cc22cc" stroke-width="0.9"/><path d="M507.34 421.38l3.2 6.08h-6.4z" fill="none" stroke="#cc22cc" stroke-width="0.9"/><path d="M511.14 420.33l3.2 6.08h-6.4z" fill="none" stroke="#cc22cc" stroke-width="0.9"/><path d="M514.95 421.07l3.2 6.08h-6.4z" fill="none" stroke="#cc22cc" stroke-width="0.9"/><path d="M518.76 422.01l3.2 6.08h-6.4z" fill="none" stroke="#cc22cc" stroke-width="0.9"/><path d="M522.57 421.95l3.2 6.08h-6.4z" fill="none" stroke="#cc22cc" stroke-width="0.9"/><path d="M526.38 423.4l3.2 6.08h-6.4z" fill="none" stroke="#cc22cc" stroke-width="0.9"/><path d="M530.19 423.95l3.2 6.08h-6.4z" fill="none" stroke="#cc22cc" stroke-width="0.9"/><path d="M534 422.99l3.2 6.08h-6.4z" fill="none" stroke="#cc22cc" stroke-width="0.9"/><path d="M537.8 423.59l3.2 6.08h-6.4z" fill="none" stroke="#cc22cc" stroke-width="0.9"/><path d="M541.61 421.68l3.2 6.08h-6.4z" fill="none" stroke="#cc22cc" stroke-width="0.9"/><path d="M545.42 419.87l3.2 6.08h-6.4z" fill="none" stroke="#cc22cc" stroke-width="0.9"/><path d="M549.23 419.93l3.2 6.08h-6.4z" fill="none" stroke="#cc22cc" stroke-width="0.9"/><path d="M553.04 418.72l3.2 6.08h-6.4z" fill="none" stroke="#cc22cc" stroke-width="0.9"/><path d="M556.85 417.41l3.2 6.08h-6.4z" fill="none" stroke="#cc22cc" stroke-width="0.9"/><path d="M560.66 417.87l3.2 6.08h-6.4z" fill="none" stroke="#cc22cc" stroke-width="0.9"/><path d="M564.46 416.73l3.2 6.08h-6.4z" fill="none" stroke="#cc22cc" stroke-width="0.9"/><path d="M568.27 417.65l3.2 6.08h-6.4z" fill="none" stroke="#cc22cc" stroke-width="0.9"/><path d="M572.08 420.27l3.2 6.08h-6.4z" fill="none" stroke="#cc22cc" stroke-width="0.9"/><path d="M575.89 422.4l3.2 6.08h-6.4z" fill="none" stroke="#cc22cc" stroke-width="0.9"/><path d="M579.7 424.59l3.2 6.08h-6.4z" fill="none" stroke="#cc22cc" stroke-width="0.9"/><path d="M583.51 425.83l3.2 6.08h-6.4z" fill="none" stroke="#cc22cc" stroke-width="0.9"/><path d="M587.32 425.17l3.2 6.08h-6.4z" fill="none" stroke="#cc22cc" stroke-width="0.9"/><path d="M591.12 424.71l3.2 6.08h-6.4z" fill="none" stroke="#cc22cc" stroke-width="0.9"/><path d="M594.93 424.94l3.2 6.08h-6.4z" fill="none" stroke="#cc22cc" stroke-width="0.9"/><path d="M598.74 425.83l3.2 6.08h-6.4z" fill="none" stroke="#cc22cc" stroke-width="0.9"/><path d="M602.55 428.23l3.2 6.08h-6.4z" fill="none" stroke="#cc22cc" stroke-width="0.9"/><path d="M606.36 430.55l3.2 6.08h-6.4z" fill="none" stroke="#cc22cc" stroke-width="0.9"/><path d="M610.17 429.85l3.2 6.08h-6.4z" fill="none" stroke="#cc22cc" stroke-width="0.9"/><path d="M613.98 429.42l3.2 6.08h-6.4z" fill="none" stroke="#cc22cc" stroke-width="0.9"/><path d="M617.78 430.13l3.2 6.08h-6.4z" fill="none" stroke="#cc22cc" stroke-width="0.9"/><path d="M621.59 430.91l3.2 6.08h-6.4z" fill="none" stroke="#cc22cc" stroke-width="0.9"/></g>
<g><path d="M434.97 453.14l2.2 3.3l-2.2 3.3l-2.2 -3.3z" fill="none" stroke="#000" stroke-width="0.9"/><path d="M438.78 439.25l2.2 3.3l-2.2 3.3l-2.2 -3.3z" fill="none" stroke="#000" stroke-width="0.9"/><path d="M442.59 427.27l2.2 3.3l-2.2 3.3l-2.2 -3.3z" fill="none" stroke="#000" stroke-width="0.9"/><path d="M446.4 430.84l2.2 3.3l-2.2 3.3l-2.2 -3.3z" fill="none" stroke="#000" stroke-width="0.9"/><path d="M450.21 430.56l2.2 3.3l-2.2 3.3l-2.2 -3.3z" fill="none" stroke="#000" stroke-width="0.9"/><path d="M454.02 431.08l2.2 3.3l-2.2 3.3l-2.2 -3.3z" fill="none" stroke="#000" stroke-width="0.9"/><path d="M457.82 430.98l2.2 3.3l-2.2 3.3l-2.2 -3.3z" fill="none" stroke="#000" stroke-width="0.9"/><path d="M461.63 429.38l2.2 3.3l-2.2 3.3l-2.2 -3.3z" fill="none" stroke="#000" stroke-width="0.9"/><path d="M465.44 426.9l2.2 3.3l-2.2 3.3l-2.2 -3.3z" fill="none" stroke="#000" stroke-width="0.9"/><path d="M469.25 423.97l2.2 3.3l-2.2 3.3l-2.2 -3.3z" fill="none" stroke="#000" stroke-width="0.9"/><path d="M473.06 420.73l2.2 3.3l-2.2 3.3l-2.2 -3.3z" fill="none" stroke="#000" stroke-width="0.9"/><path d="M476.87 422.85l2.2 3.3l-2.2 3.3l-2.2 -3.3z" fill="none" stroke="#000" stroke-width="0.9"/><path d="M480.68 423.71l2.2 3.3l-2.2 3.3l-2.2 -3.3z" fill="none" stroke="#000" stroke-width="0.9"/><path d="M484.48 426.06l2.2 3.3l-2.2 3.3l-2.2 -3.3z" fill="none" stroke="#000" stroke-width="0.9"/><path d="M488.29 428.47l2.2 3.3l-2.2 3.3l-2.2 -3.3z" fill="none" stroke="#000" stroke-width="0.9"/><path d="M492.1 424.38l2.2 3.3l-2.2 3.3l-2.2 -3.3z" fill="none" stroke="#000" stroke-width="0.9"/><path d="M495.91 420.78l2.2 3.3l-2.2 3.3l-2.2 -3.3z" fill="none" stroke="#000" stroke-width="0.9"/><path d="M499.72 418.65l2.2 3.3l-2.2 3.3l-2.2 -3.3z" fill="none" stroke="#000" stroke-width="0.9"/><path d="M503.53 415.31l2.2 3.3l-2.2 3.3l-2.2 -3.3z" fill="none" stroke="#000" stroke-width="0.9"/><path d="M507.34 415.89l2.2 3.3l-2.2 3.3l-2.2 -3.3z" fill="none" stroke="#000" stroke-width="0.9"/><path d="M511.14 417.15l2.2 3.3l-2.2 3.3l-2.2 -3.3z" fill="none" stroke="#000" stroke-width="0.9"/><path d="M514.95 416.85l2.2 3.3l-2.2 3.3l-2.2 -3.3z" fill="none" stroke="#000" stroke-width="0.9"/><path d="M518.76 417.64l2.2 3.3l-2.2 3.3l-2.2 -3.3z" fill="none" stroke="#000" stroke-width="0.9"/><path d="M522.57 418.45l2.2 3.3l-2.2 3.3l-2.2 -3.3z" fill="none" stroke="#000" stroke-width="0.9"/><path d="M526.38 417.83l2.2 3.3l-2.2 3.3l-2.2 -3.3z" fill="none" stroke="#000" stroke-width="0.9"/><path d="M530.19 418.58l2.2 3.3l-2.2 3.3l-2.2 -3.3z" fill="none" stroke="#000" stroke-width="0.9"/><path d="M534 418.88l2.2 3.3l-2.2 3.3l-2.2 -3.3z" fill="none" stroke="#000" stroke-width="0.9"/><path d="M537.8 417.5l2.2 3.3l-2.2 3.3l-2.2 -3.3z" fill="none" stroke="#000" stroke-width="0.9"/><path d="M541.61 417.65l2.2 3.3l-2.2 3.3l-2.2 -3.3z" fill="none" stroke="#000" stroke-width="0.9"/><path d="M545.42 417.25l2.2 3.3l-2.2 3.3l-2.2 -3.3z" fill="none" stroke="#000" stroke-width="0.9"/><path d="M549.23 415.96l2.2 3.3l-2.2 3.3l-2.2 -3.3z" fill="none" stroke="#000" stroke-width="0.9"/><path d="M553.04 416.24l2.2 3.3l-2.2 3.3l-2.2 -3.3z" fill="none" stroke="#000" stroke-width="0.9"/><path d="M556.85 415.55l2.2 3.3l-2.2 3.3l-2.2 -3.3z" fill="none" stroke="#000" stroke-width="0.9"/><path d="M560.66 414.34l2.2 3.3l-2.2 3.3l-2.2 -3.3z" fill="none" stroke="#000" stroke-width="0.9"/><path d="M564.46 414.65l2.2 3.3l-2.2 3.3l-2.2 -3.3z" fill="none" stroke="#000" stroke-width="0.9"/><path d="M568.27 414.47l2.2 3.3l-2.2 3.3l-2.2 -3.3z" fill="none" stroke="#000" stroke-width="0.9"/><path d="M572.08 414.27l2.2 3.3l-2.2 3.3l-2.2 -3.3z" fill="none" stroke="#000" stroke-width="0.9"/><path d="M575.89 418.77l2.2 3.3l-2.2 3.3l-2.2 -3.3z" fill="none" stroke="#000" stroke-width="0.9"/><path d="M579.7 421.71l2.2 3.3l-2.2 3.3l-2.2 -3.3z" fill="none" stroke="#000" stroke-width="0.9"/><path d="M583.51 424.51l2.2 3.3l-2.2 3.3l-2.2 -3.3z" fill="none" stroke="#000" stroke-width="0.9"/><path d="M587.32 427.6l2.2 3.3l-2.2 3.3l-2.2 -3.3z" fill="none" stroke="#000" stroke-width="0.9"/><path d="M591.12 421.97l2.2 3.3l-2.2 3.3l-2.2 -3.3z" fill="none" stroke="#000" stroke-width="0.9"/><path d="M594.93 420.18l2.2 3.3l-2.2 3.3l-2.2 -3.3z" fill="none" stroke="#000" stroke-width="0.9"/><path d="M598.74 421.4l2.2 3.3l-2.2 3.3l-2.2 -3.3z" fill="none" stroke="#000" stroke-width="0.9"/><path d="M602.55 422.97l2.2 3.3l-2.2 3.3l-2.2 -3.3z" fill="none" stroke="#000" stroke-width="0.9"/><path d="M606.36 425.59l2.2 3.3l-2.2 3.3l-2.2 -3.3z" fill="none" stroke="#000" stroke-width="0.9"/><path d="M610.17 428.79l2.2 3.3l-2.2 3.3l-2.2 -3.3z" fill="none" stroke="#000" stroke-width="0.9"/><path d="M613.98 430.72l2.2 3.3l-2.2 3.3l-2.2 -3.3z" fill="none" stroke="#000" stroke-width="0.9"/><path d="M617.78 435.52l2.2 3.3l-2.2 3.3l-2.2 -3.3z" fill="none" stroke="#000" stroke-width="0.9"/><path d="M621.59 432.6l2.2 3.3l-2.2 3.3l-2.2 -3.3z" fill="none" stroke="#000" stroke-width="0.9"/><path d="M625.4 431.22l2.2 3.3l-2.2 3.3l-2.2 -3.3z" fill="none" stroke="#000" stroke-width="0.9"/><path d="M629.21 431.44l2.2 3.3l-2.2 3.3l-2.2 -3.3z" fill="none" stroke="#000" stroke-width="0.9"/><path d="M633.02 437l2.2 3.3l-2.2 3.3l-2.2 -3.3z" fill="none" stroke="#000" stroke-width="0.9"/><path d="M636.83 448.2l2.2 3.3l-2.2 3.3l-2.2 -3.3z" fill="none" stroke="#000" stroke-width="0.9"/></g>
<g><path d="M429.86 459.67L432.46 459.67L432.46 461.97L434.76 461.97L434.76 464.57L432.46 464.57L432.46 466.87L429.86 466.87L429.86 464.57L427.56 464.57L427.56 461.97L429.86 461.97z" fill="none" stroke="#22cc22" stroke-width="0.9"/><path d="M433.67 452.78L436.27 452.78L436.27 455.08L438.57 455.08L438.57 457.68L436.27 457.68L436.27 459.98L433.67 459.98L433.67 457.68L431.37 457.68L431.37 455.08L433.67 455.08z" fill="none" stroke="#22cc22" stroke-width="0.9"/><path d="M437.48 441.77L440.08 441.77L440.08 444.07L442.38 444.07L442.38 446.67L440.08 446.67L440.08 448.97L437.48 448.97L437.48 446.67L435.18 446.67L435.18 444.07L437.48 444.07z" fill="none" stroke="#22cc22" stroke-width="0.9"/><path d="M441.29 429.66L443.89 429.66L443.89 431.96L446.19 431.96L446.19 434.56L443.89 434.56L443.89 436.86L441.29 436.86L441.29 434.56L438.99 434.56L438.99 431.96L441.29 431.96z" fill="none" stroke="#22cc22" stroke-width="0.9"/><path d="M445.1 429.91L447.7 429.91L447.7 432.21L450 432.21L450 434.81L447.7 434.81L447.7 437.11L445.1 437.11L445.1 434.81L442.8 434.81L442.8 432.21L445.1 432.21z" fill="none" stroke="#22cc22" stroke-width="0.9"/><path d="M448.91 430.68L451.51 430.68L451.51 432.98L453.81 432.98L453.81 435.58L451.51 435.58L451.51 437.88L448.91 437.88L448.91 435.58L446.61 435.58L446.61 432.98L448.91 432.98z" fill="none" stroke="#22cc22" stroke-width="0.9"/><path d="M452.72 429.67L455.32 429.67L455.32 431.97L457.62 431.97L457.62 434.57L455.32 434.57L455.32 436.87L452.72 436.87L452.72 434.57L450.42 434.57L450.42 431.97L452.72 431.97z" fill="none" stroke="#22cc22" stroke-width="0.9"/><path d="M456.52 430.16L459.12 430.16L459.12 432.46L461.42 432.46L461.42 435.06L459.12 435.06L459.12 437.36L456.52 437.36L456.52 435.06L454.22 435.06L454.22 432.46L456.52 432.46z" fill="none" stroke="#22cc22" stroke-width="0.9"/><path d="M460.33 428.84L462.93 428.84L462.93 431.14L465.23 431.14L465.23 433.74L462.93 433.74L462.93 436.04L460.33 436.04L460.33 433.74L458.03 433.74L458.03 431.14L460.33 431.14z" fill="none" stroke="#22cc22" stroke-width="0.9"/><path d="M464.14 424.5L466.74 424.5L466.74 426.8L469.04 426.8L469.04 429.4L466.74 429.4L466.74 431.7L464.14 431.7L464.14 429.4L461.84 429.4L461.84 426.8L464.14 426.8z" fill="none" stroke="#22cc22" stroke-width="0.9"/><path d="M467.95 423.88L470.55 423.88L470.55 426.18L472.85 426.18L472.85 428.78L470.55 428.78L470.55 431.08L467.95 431.08L467.95 428.78L465.65 428.78L465.65 426.18L467.95 426.18z" fill="none" stroke="#22cc22" stroke-width="0.9"/><path d="M471.76 419.99L474.36 419.99L474.36 422.29L476.66 422.29L476.66 424.89L474.36 424.89L474.36 427.19L471.76 427.19L471.76 424.89L469.46 424.89L469.46 422.29L471.76 422.29z" fill="none" stroke="#22cc22" stroke-width="0.9"/><path d="M475.57 421.11L478.17 421.11L478.17 423.41L480.47 423.41L480.47 426.01L478.17 426.01L478.17 428.31L475.57 428.31L475.57 426.01L473.27 426.01L473.27 423.41L475.57 423.41z" fill="none" stroke="#22cc22" stroke-width="0.9"/><path d="M479.38 422.77L481.98 422.77L481.98 425.07L484.28 425.07L484.28 427.67L481.98 427.67L481.98 429.97L479.38 429.97L479.38 427.67L477.08 427.67L477.08 425.07L479.38 425.07z" fill="none" stroke="#22cc22" stroke-width="0.9"/><path d="M483.18 425.49L485.78 425.49L485.78 427.79L488.08 427.79L488.08 430.39L485.78 430.39L485.78 432.69L483.18 432.69L483.18 430.39L480.88 430.39L480.88 427.79L483.18 427.79z" fill="none" stroke="#22cc22" stroke-width="0.9"/><path d="M486.99 425.4L489.59 425.4L489.59 427.7L491.89 427.7L491.89 430.3L489.59 430.3L489.59 432.6L486.99 432.6L486.99 430.3L484.69 430.3L484.69 427.7L486.99 427.7z" fill="none" stroke="#22cc22" stroke-width="0.9"/><path d="M490.8 423.48L493.4 423.48L493.4 425.78L495.7 425.78L495.7 428.38L493.4 428.38L493.4 430.68L490.8 430.68L490.8 428.38L488.5 428.38L488.5 425.78L490.8 425.78z" fill="none" stroke="#22cc22" stroke-width="0.9"/><path d="M494.61 420.12L497.21 420.12L497.21 422.42L499.51 422.42L499.51 425.02L497.21 425.02L497.21 427.32L494.61 427.32L494.61 425.02L492.31 425.02L492.31 422.42L494.61 422.42z" fill="none" stroke="#22cc22" stroke-width="0.9"/><path d="M498.42 416.78L501.02 416.78L501.02 419.08L503.32 419.08L503.32 421.68L501.02 421.68L501.02 423.98L498.42 423.98L498.42 421.68L496.12 421.68L496.12 419.08L498.42 419.08z" fill="none" stroke="#22cc22" stroke-width="0.9"/><path d="M502.23 414.94L504.83 414.94L504.83 417.24L507.13 417.24L507.13 419.84L504.83 419.84L504.83 422.14L502.23 422.14L502.23 419.84L499.93 419.84L499.93 417.24L502.23 417.24z" fill="none" stroke="#22cc22" stroke-width="0.9"/><path d="M506.04 414.81L508.64 414.81L508.64 417.11L510.94 417.11L510.94 419.71L508.64 419.71L508.64 422.01L506.04 422.01L506.04 419.71L503.74 419.71L503.74 417.11L506.04 417.11z" fill="none" stroke="#22cc22" stroke-width="0.9"/><path d="M509.84 415.28L512.44 415.28L512.44 417.58L514.74 417.58L514.74 420.18L512.44 420.18L512.44 422.48L509.84 422.48L509.84 420.18L507.54 420.18L507.54 417.58L509.84 417.58z" fill="none" stroke="#22cc22" stroke-width="0.9"/><path d="M513.65 416.7L516.25 416.7L516.25 419L518.55 419L518.55 421.6L516.25 421.6L516.25 423.9L513.65 423.9L513.65 421.6L511.35 421.6L511.35 419L513.65 419z" fill="none" stroke="#22cc22" stroke-width="0.9"/><path d="M517.46 416.52L520.06 416.52L520.06 418.82L522.36 418.82L522.36 421.42L520.06 421.42L520.06 423.72L517.46 423.72L517.46 421.42L515.16 421.42L515.16 418.82L517.46 418.82z" fill="none" stroke="#22cc22" stroke-width="0.9"/><path d="M521.27 416.96L523.87 416.96L523.87 419.26L526.17 419.26L526.17 421.86L523.87 421.86L523.87 424.16L521.27 424.16L521.27 421.86L518.97 421.86L518.97 419.26L521.27 419.26z" fill="none" stroke="#22cc22" stroke-width="0.9"/><path d="M525.08 417.87L527.68 417.87L527.68 420.17L529.98 420.17L529.98 422.77L527.68 422.77L527.68 425.07L525.08 425.07L525.08 422.77L522.78 422.77L522.78 420.17L525.08 420.17z" fill="none" stroke="#22cc22" stroke-width="0.9"/><path d="M528.89 417.31L531.49 417.31L531.49 419.61L533.79 419.61L533.79 422.21L531.49 422.21L531.49 424.51L528.89 424.51L528.89 422.21L526.59 422.21L526.59 419.61L528.89 419.61z" fill="none" stroke="#22cc22" stroke-width="0.9"/><path d="M532.7 417.79L535.3 417.79L535.3 420.09L537.6 420.09L537.6 422.69L535.3 422.69L535.3 424.99L532.7 424.99L532.7 422.69L530.4 422.69L530.4 420.09L532.7 420.09z" fill="none" stroke="#22cc22" stroke-width="0.9"/><path d="M536.5 417.97L539.1 417.97L539.1 420.27L541.4 420.27L541.4 422.87L539.1 422.87L539.1 425.17L536.5 425.17L536.5 422.87L534.2 422.87L534.2 420.27L536.5 420.27z" fill="none" stroke="#22cc22" stroke-width="0.9"/><path d="M540.31 416.83L542.91 416.83L542.91 419.13L545.21 419.13L545.21 421.73L542.91 421.73L542.91 424.03L540.31 424.03L540.31 421.73L538.01 421.73L538.01 419.13L540.31 419.13z" fill="none" stroke="#22cc22" stroke-width="0.9"/><path d="M544.12 416.68L546.72 416.68L546.72 418.98L549.02 418.98L549.02 421.58L546.72 421.58L546.72 423.88L544.12 423.88L544.12 421.58L541.82 421.58L541.82 418.98L544.12 418.98z" fill="none" stroke="#22cc22" stroke-width="0.9"/><path d="M547.93 416.14L550.53 416.14L550.53 418.44L552.83 418.44L552.83 421.04L550.53 421.04L550.53 423.34L547.93 423.34L547.93 421.04L545.63 421.04L545.63 418.44L547.93 418.44z" fill="none" stroke="#22cc22" stroke-width="0.9"/><path d="M551.74 414.58L554.34 414.58L554.34 416.88L556.64 416.88L556.64 419.48L554.34 419.48L554.34 421.78L551.74 421.78L551.74 419.48L549.44 419.48L549.44 416.88L551.74 416.88z" fill="none" stroke="#22cc22" stroke-width="0.9"/><path d="M555.55 414.73L558.15 414.73L558.15 417.03L560.45 417.03L560.45 419.63L558.15 419.63L558.15 421.93L555.55 421.93L555.55 419.63L553.25 419.63L553.25 417.03L555.55 417.03z" fill="none" stroke="#22cc22" stroke-width="0.9"/><path d="M559.36 414.14L561.96 414.14L561.96 416.44L564.26 416.44L564.26 419.04L561.96 419.04L561.96 421.34L559.36 421.34L559.36 419.04L557.06 419.04L557.06 416.44L559.36 416.44z" fill="none" stroke="#22cc22" stroke-width="0.9"/><path d="M563.16 412.86L565.76 412.86L565.76 415.16L568.06 415.16L568.06 417.76L565.76 417.76L565.76 420.06L563.16 420.06L563.16 417.76L560.86 417.76L560.86 415.16L563.16 415.16z" fill="none" stroke="#22cc22" stroke-width="0.9"/><path d="M566.97 413.89L569.57 413.89L569.57 416.19L571.87 416.19L571.87 418.79L569.57 418.79L569.57 421.09L566.97 421.09L566.97 418.79L564.67 418.79L564.67 416.19L566.97 416.19z" fill="none" stroke="#22cc22" stroke-width="0.9"/><path d="M570.78 413.89L573.38 413.89L573.38 416.19L575.68 416.19L575.68 418.79L573.38 418.79L573.38 421.09L570.78 421.09L570.78 418.79L568.48 418.79L568.48 416.19L570.78 416.19z" fill="none" stroke="#22cc22" stroke-width="0.9"/><path d="M574.59 416.62L577.19 416.62L577.19 418.92L579.49 418.92L579.49 421.52L577.19 421.52L577.19 423.82L574.59 423.82L574.59 421.52L572.29 421.52L572.29 418.92L574.59 418.92z" fill="none" stroke="#22cc22" stroke-width="0.9"/><path d="M578.4 420.31L581 420.31L581 422.61L583.3 422.61L583.3 425.21L581 425.21L581 427.51L578.4 427.51L578.4 425.21L576.1 425.21L576.1 422.61L578.4 422.61z" fill="none" stroke="#22cc22" stroke-width="0.9"/><path d="M582.21 420.74L584.81 420.74L584.81 423.04L587.11 423.04L587.11 425.64L584.81 425.64L584.81 427.94L582.21 427.94L582.21 425.64L579.91 425.64L579.91 423.04L582.21 423.04z" fill="none" stroke="#22cc22" stroke-width="0.9"/><path d="M586.02 421.03L588.62 421.03L588.62 423.33L590.92 423.33L590.92 425.93L588.62 425.93L588.62 428.23L586.02 428.23L586.02 425.93L583.72 425.93L583.72 423.33L586.02 423.33z" fill="none" stroke="#22cc22" stroke-width="0.9"/><path d="M589.82 420.07L592.42 420.07L592.42 422.37L594.72 422.37L594.72 424.97L592.42 424.97L592.42 427.27L589.82 427.27L589.82 424.97L587.52 424.97L587.52 422.37L589.82 422.37z" fill="none" stroke="#22cc22" stroke-width="0.9"/><path d="M593.63 417.93L596.23 417.93L596.23 420.23L598.53 420.23L598.53 422.83L596.23 422.83L596.23 425.13L593.63 425.13L593.63 422.83L591.33 422.83L591.33 420.23L593.63 420.23z" fill="none" stroke="#22cc22" stroke-width="0.9"/><path d="M597.44 417.81L600.04 417.81L600.04 420.11L602.34 420.11L602.34 422.71L600.04 422.71L600.04 425.01L597.44 425.01L597.44 422.71L595.14 422.71L595.14 420.11L597.44 420.11z" fill="none" stroke="#22cc22" stroke-width="0.9"/><path d="M601.25 421.52L603.85 421.52L603.85 423.82L606.15 423.82L606.15 426.42L603.85 426.42L603.85 428.72L601.25 428.72L601.25 426.42L598.95 426.42L598.95 423.82L601.25 423.82z" fill="none" stroke="#22cc22" stroke-width="0.9"/><path d="M605.06 423.91L607.66 423.91L607.66 426.21L609.96 426.21L609.96 428.81L607.66 428.81L607.66 431.11L605.06 431.11L605.06 428.81L602.76 428.81L602.76 426.21L605.06 426.21z" fill="none" stroke="#22cc22" stroke-width="0.9"/><path d="M608.87 426.49L611.47 426.49L611.47 428.79L613.77 428.79L613.77 431.39L611.47 431.39L611.47 433.69L608.87 433.69L608.87 431.39L606.57 431.39L606.57 428.79L608.87 428.79z" fill="none" stroke="#22cc22" stroke-width="0.9"/><path d="M612.68 429.65L615.28 429.65L615.28 431.95L617.58 431.95L617.58 434.55L615.28 434.55L615.28 436.85L612.68 436.85L612.68 434.55L610.38 434.55L610.38 431.95L612.68 431.95z" fill="none" stroke="#22cc22" stroke-width="0.9"/><path d="M616.48 430.41L619.08 430.41L619.08 432.71L621.38 432.71L621.38 435.31L619.08 435.31L619.08 437.61L616.48 437.61L616.48 435.31L614.18 435.31L614.18 432.71L616.48 432.71z" fill="none" stroke="#22cc22" stroke-width="0.9"/><path d="M620.29 430.76L622.89 430.76L622.89 433.06L625.19 433.06L625.19 435.66L622.89 435.66L622.89 437.96L620.29 437.96L620.29 435.66L617.99 435.66L617.99 433.06L620.29 433.06z" fill="none" stroke="#22cc22" stroke-width="0.9"/><path d="M624.1 430.59L626.7 430.59L626.7 432.89L629 432.89L629 435.49L626.7 435.49L626.7 437.79L624.1 437.79L624.1 435.49L621.8 435.49L621.8 432.89L624.1 432.89z" fill="none" stroke="#22cc22" stroke-width="0.9"/><path d="M627.91 431.64L630.51 431.64L630.51 433.94L632.81 433.94L632.81 436.54L630.51 436.54L630.51 438.84L627.91 438.84L627.91 436.54L625.61 436.54L625.61 433.94L627.91 433.94z" fill="none" stroke="#22cc22" stroke-width="0.9"/><path d="M631.72 437.69L634.32 437.69L634.32 439.99L636.62 439.99L636.62 442.59L634.32 442.59L634.32 444.89L631.72 444.89L631.72 442.59L629.42 442.59L629.42 439.99L631.72 439.99z" fill="none" stroke="#22cc22" stroke-width="0.9"/><path d="M635.53 451.25L638.13 451.25L638.13 453.55L640.43 453.55L640.43 456.15L638.13 456.15L638.13 458.45L635.53 458.45L635.53 456.15L633.23 456.15L633.23 453.55L635.53 453.55z" fill="none" stroke="#22cc22" stroke-width="0.9"/><path d="M639.34 459.41L641.94 459.41L641.94 461.71L644.24 461.71L644.24 464.31L641.94 464.31L641.94 466.61L639.34 466.61L639.34 464.31L637.04 464.31L637.04 461.71L639.34 461.71z" fill="none" stroke="#22cc22" stroke-width="0.9"/></g>
<g><path d="M427.36 467.97L428.24 470.34L430.78 470.45L428.79 472.03L429.47 474.48L427.36 473.08L425.24 474.48L425.92 472.03L423.93 470.45L426.47 470.34z" fill="none" stroke="#ff9933" stroke-width="0.9"/><path d="M431.16 460.4L432.05 462.78L434.59 462.89L432.6 464.47L433.28 466.91L431.16 465.51L429.05 466.91L429.73 464.47L427.74 462.89L430.28 462.78z" fill="none" stroke="#ff9933" stroke-width="0.9"/><path d="M434.97 452.67L435.86 455.05L438.4 455.16L436.41 456.74L437.09 459.19L434.97 457.79L432.86 459.19L433.53 456.74L431.55 455.16L434.08 455.05z" fill="none" stroke="#ff9933" stroke-width="0.9"/><path d="M438.78 441.16L439.67 443.54L442.21 443.65L440.22 445.23L440.9 447.67L438.78 446.27L436.67 447.67L437.34 445.23L435.36 443.65L437.89 443.54z" fill="none" stroke="#ff9933" stroke-width="0.9"/><path d="M442.59 434.76L443.48 437.14L446.01 437.25L444.03 438.83L444.71 441.27L442.59 439.87L440.47 441.27L441.15 438.83L439.17 437.25L441.7 437.14z" fill="none" stroke="#ff9933" stroke-width="0.9"/><path d="M446.4 426.97L447.29 429.35L449.82 429.46L447.84 431.04L448.51 433.49L446.4 432.09L444.28 433.49L444.96 431.04L442.97 429.46L445.51 429.35z" fill="none" stroke="#ff9933" stroke-width="0.9"/><path d="M450.21 427.16L451.1 429.54L453.63 429.65L451.65 431.23L452.32 433.68L450.21 432.28L448.09 433.68L448.77 431.23L446.78 429.65L449.32 429.54z" fill="none" stroke="#ff9933" stroke-width="0.9"/><path d="M454.02 425.93L454.9 428.3L457.44 428.41L455.45 429.99L456.13 432.44L454.02 431.04L451.9 432.44L452.58 429.99L450.59 428.41L453.13 428.3z" fill="none" stroke="#ff9933" stroke-width="0.9"/><path d="M457.82 424.05L458.71 426.42L461.25 426.53L459.26 428.11L459.94 430.56L457.82 429.16L455.71 430.56L456.39 428.11L454.4 426.53L456.94 426.42z" fill="none" stroke="#ff9933" stroke-width="0.9"/><path d="M461.63 422.57L462.52 424.95L465.06 425.06L463.07 426.64L463.75 429.08L461.63 427.68L459.52 429.08L460.19 426.64L458.21 425.06L460.74 424.95z" fill="none" stroke="#ff9933" stroke-width="0.9"/><path d="M465.44 419.45L466.33 421.83L468.87 421.94L466.88 423.52L467.56 425.96L465.44 424.56L463.33 425.96L464 423.52L462.02 421.94L464.55 421.83z" fill="none" stroke="#ff9933" stroke-width="0.9"/><path d="M469.25 416.16L470.14 418.53L472.67 418.64L470.69 420.22L471.37 422.67L469.25 421.27L467.13 422.67L467.81 420.22L465.83 418.64L468.36 418.53z" fill="none" stroke="#ff9933" stroke-width="0.9"/><path d="M473.06 414.27L473.95 416.65L476.48 416.76L474.5 418.34L475.17 420.78L473.06 419.38L470.94 420.78L471.62 418.34L469.63 416.76L472.17 416.65z" fill="none" stroke="#ff9933" stroke-width="0.9"/><path d="M476.87 415L477.76 417.37L480.29 417.48L478.31 419.06L478.98 421.51L476.87 420.11L474.75 421.51L475.43 419.06L473.44 417.48L475.98 417.37z" fill="none" stroke="#ff9933" stroke-width="0.9"/><path d="M480.68 415.9L481.56 418.28L484.1 418.39L482.11 419.97L482.79 422.41L480.68 421.01L478.56 422.41L479.24 419.97L477.25 418.39L479.79 418.28z" fill="none" stroke="#ff9933" stroke-width="0.9"/><path d="M484.48 417.56L485.37 419.94L487.91 420.05L485.92 421.63L486.6 424.07L484.48 422.67L482.37 424.07L483.05 421.63L481.06 420.05L483.6 419.94z" fill="none" stroke="#ff9933" stroke-width="0.9"/><path d="M488.29 416.4L489.18 418.78L491.72 418.89L489.73 420.47L490.41 422.91L488.29 421.51L486.18 422.91L486.85 420.47L484.87 418.89L487.4 418.78z" fill="none" stroke="#ff9933" stroke-width="0.9"/><path d="M492.1 413.93L492.99 416.3L495.53 416.41L493.54 417.99L494.22 420.44L492.1 419.04L489.99 420.44L490.66 417.99L488.68 416.41L491.21 416.3z" fill="none" stroke="#ff9933" stroke-width="0.9"/><path d="M495.91 412.81L496.8 415.19L499.33 415.3L497.35 416.88L498.03 419.32L495.91 417.92L493.79 419.32L494.47 416.88L492.49 415.3L495.02 415.19z" fill="none" stroke="#ff9933" stroke-width="0.9"/><path d="M499.72 411.38L500.61 413.76L503.14 413.87L501.16 415.45L501.83 417.89L499.72 416.49L497.6 417.89L498.28 415.45L496.29 413.87L498.83 413.76z" fill="none" stroke="#ff9933" stroke-width="0.9"/><path d="M503.53 410.15L504.42 412.53L506.95 412.64L504.97 414.22L505.64 416.67L503.53 415.27L501.41 416.67L502.09 414.22L500.1 412.64L502.64 412.53z" fill="none" stroke="#ff9933" stroke-width="0.9"/><path d="M507.34 411.63L508.22 414.01L510.76 414.12L508.77 415.7L509.45 418.14L507.34 416.74L505.22 418.14L505.9 415.7L503.91 414.12L506.45 414.01z" fill="none" stroke="#ff9933" stroke-width="0.9"/><path d="M511.14 411.91L512.03 414.29L514.57 414.4L512.58 415.98L513.26 418.42L511.14 417.02L509.03 418.42L509.71 415.98L507.72 414.4L510.26 414.29z" fill="none" stroke="#ff9933" stroke-width="0.9"/><path d="M514.95 412.45L515.84 414.83L518.38 414.94L516.39 416.52L517.07 418.96L514.95 417.56L512.84 418.96L513.51 416.52L511.53 414.94L514.06 414.83z" fill="none" stroke="#ff9933" stroke-width="0.9"/><path d="M518.76 413.74L519.65 416.12L522.19 416.23L520.2 417.81L520.88 420.26L518.76 418.86L516.65 420.26L517.32 417.81L515.34 416.23L517.87 416.12z" fill="none" stroke="#ff9933" stroke-width="0.9"/><path d="M522.57 413.58L523.46 415.96L525.99 416.07L524.01 417.65L524.69 420.09L522.57 418.69L520.45 420.09L521.13 417.65L519.15 416.07L521.68 415.96z" fill="none" stroke="#ff9933" stroke-width="0.9"/><path d="M526.38 414.02L527.27 416.4L529.8 416.51L527.82 418.09L528.49 420.54L526.38 419.14L524.26 420.54L524.94 418.09L522.95 416.51L525.49 416.4z" fill="none" stroke="#ff9933" stroke-width="0.9"/><path d="M530.19 414.85L531.08 417.23L533.61 417.34L531.63 418.92L532.3 421.37L530.19 419.96L528.07 421.37L528.75 418.92L526.76 417.34L529.3 417.23z" fill="none" stroke="#ff9933" stroke-width="0.9"/><path d="M534 414.31L534.88 416.69L537.42 416.8L535.43 418.38L536.11 420.82L534 419.42L531.88 420.82L532.56 418.38L530.57 416.8L533.11 416.69z" fill="none" stroke="#ff9933" stroke-width="0.9"/><path d="M537.8 414.54L538.69 416.92L541.23 417.03L539.24 418.61L539.92 421.06L537.8 419.66L535.69 421.06L536.37 418.61L534.38 417.03L536.92 416.92z" fill="none" stroke="#ff9933" stroke-width="0.9"/><path d="M541.61 414.58L542.5 416.96L545.04 417.07L543.05 418.65L543.73 421.09L541.61 419.69L539.5 421.09L540.17 418.65L538.19 417.07L540.72 416.96z" fill="none" stroke="#ff9933" stroke-width="0.9"/><path d="M545.42 413.12L546.31 415.5L548.85 415.61L546.86 417.19L547.54 419.63L545.42 418.23L543.31 419.63L543.98 417.19L542 415.61L544.53 415.5z" fill="none" stroke="#ff9933" stroke-width="0.9"/><path d="M549.23 412.52L550.12 414.9L552.65 415.01L550.67 416.59L551.35 419.04L549.23 417.64L547.11 419.04L547.79 416.59L545.81 415.01L548.34 414.9z" fill="none" stroke="#ff9933" stroke-width="0.9"/><path d="M553.04 411.52L553.93 413.9L556.46 414.01L554.48 415.59L555.15 418.03L553.04 416.63L550.92 418.03L551.6 415.59L549.61 414.01L552.15 413.9z" fill="none" stroke="#ff9933" stroke-width="0.9"/><path d="M556.85 409.94L557.74 412.32L560.27 412.43L558.29 414.01L558.96 416.45L556.85 415.05L554.73 416.45L555.41 414.01L553.42 412.43L555.96 412.32z" fill="none" stroke="#ff9933" stroke-width="0.9"/><path d="M560.66 409.94L561.54 412.32L564.08 412.43L562.09 414.01L562.77 416.46L560.66 415.06L558.54 416.46L559.22 414.01L557.23 412.43L559.77 412.32z" fill="none" stroke="#ff9933" stroke-width="0.9"/><path d="M564.46 409.47L565.35 411.85L567.89 411.96L565.9 413.54L566.58 415.98L564.46 414.58L562.35 415.98L563.03 413.54L561.04 411.96L563.58 411.85z" fill="none" stroke="#ff9933" stroke-width="0.9"/><path d="M568.27 408.52L569.16 410.89L571.7 411L569.71 412.58L570.39 415.03L568.27 413.63L566.16 415.03L566.83 412.58L564.85 411L567.38 410.89z" fill="none" stroke="#ff9933" stroke-width="0.9"/><path d="M572.08 408.84L572.97 411.22L575.51 411.33L573.52 412.91L574.2 415.36L572.08 413.96L569.97 415.36L570.64 412.91L568.66 411.33L571.19 411.22z" fill="none" stroke="#ff9933" stroke-width="0.9"/><path d="M575.89 411.72L576.78 414.1L579.31 414.21L577.33 415.79L578.01 418.23L575.89 416.83L573.77 418.23L574.45 415.79L572.47 414.21L575 414.1z" fill="none" stroke="#ff9933" stroke-width="0.9"/><path d="M579.7 413.62L580.59 416L583.12 416.11L581.14 417.69L581.81 420.13L579.7 418.73L577.58 420.13L578.26 417.69L576.27 416.11L578.81 416z" fill="none" stroke="#ff9933" stroke-width="0.9"/><path d="M583.51 416L584.4 418.38L586.93 418.49L584.95 420.07L585.62 422.52L583.51 421.12L581.39 422.52L582.07 420.07L580.08 418.49L582.62 418.38z" fill="none" stroke="#ff9933" stroke-width="0.9"/><path d="M587.32 416.97L588.2 419.35L590.74 419.46L588.75 421.04L589.43 423.48L587.32 422.08L585.2 423.48L585.88 421.04L583.89 419.46L586.43 419.35z" fill="none" stroke="#ff9933" stroke-width="0.9"/><path d="M591.12 415.21L592.01 417.58L594.55 417.69L592.56 419.27L593.24 421.72L591.12 420.32L589.01 421.72L589.69 419.27L587.7 417.69L590.24 417.58z" fill="none" stroke="#ff9933" stroke-width="0.9"/><path d="M594.93 413.97L595.82 416.35L598.36 416.46L596.37 418.04L597.05 420.48L594.93 419.08L592.82 420.48L593.49 418.04L591.51 416.46L594.04 416.35z" fill="none" stroke="#ff9933" stroke-width="0.9"/><path d="M598.74 413.91L599.63 416.29L602.17 416.4L600.18 417.98L600.86 420.42L598.74 419.02L596.63 420.42L597.3 417.98L595.32 416.4L597.85 416.29z" fill="none" stroke="#ff9933" stroke-width="0.9"/><path d="M602.55 415.82L603.44 418.19L605.97 418.3L603.99 419.88L604.67 422.33L602.55 420.93L600.43 422.33L601.11 419.88L599.13 418.3L601.66 418.19z" fill="none" stroke="#ff9933" stroke-width="0.9"/><path d="M606.36 419.3L607.25 421.67L609.78 421.78L607.8 423.36L608.47 425.81L606.36 424.41L604.24 425.81L604.92 423.36L602.93 421.78L605.47 421.67z" fill="none" stroke="#ff9933" stroke-width="0.9"/><path d="M610.17 421.17L611.06 423.55L613.59 423.66L611.61 425.24L612.28 427.68L610.17 426.28L608.05 427.68L608.73 425.24L606.74 423.66L609.28 423.55z" fill="none" stroke="#ff9933" stroke-width="0.9"/><path d="M613.98 423.48L614.86 425.85L617.4 425.96L615.41 427.54L616.09 429.99L613.98 428.59L611.86 429.99L612.54 427.54L610.55 425.96L613.09 425.85z" fill="none" stroke="#ff9933" stroke-width="0.9"/><path d="M617.78 423.6L618.67 425.97L621.21 426.08L619.22 427.66L619.9 430.11L617.78 428.71L615.67 430.11L616.35 427.66L614.36 426.08L616.9 425.97z" fill="none" stroke="#ff9933" stroke-width="0.9"/><path d="M621.59 426.42L622.48 428.8L625.02 428.91L623.03 430.49L623.71 432.94L621.59 431.54L619.48 432.94L620.15 430.49L618.17 428.91L620.7 428.8z" fill="none" stroke="#ff9933" stroke-width="0.9"/><path d="M625.4 425.63L626.29 428.01L628.83 428.12L626.84 429.7L627.52 432.15L625.4 430.74L623.29 432.15L623.96 429.7L621.98 428.12L624.51 428.01z" fill="none" stroke="#ff9933" stroke-width="0.9"/><path d="M629.21 430.68L630.1 433.06L632.63 433.17L630.65 434.75L631.33 437.2L629.21 435.8L627.09 437.2L627.77 434.75L625.79 433.17L628.32 433.06z" fill="none" stroke="#ff9933" stroke-width="0.9"/><path d="M633.02 436.36L633.91 438.73L636.44 438.84L634.46 440.42L635.13 442.87L633.02 441.47L630.9 442.87L631.58 440.42L629.59 438.84L632.13 438.73z" fill="none" stroke="#ff9933" stroke-width="0.9"/><path d="M636.83 450.53L637.72 452.91L640.25 453.02L638.27 454.6L638.94 457.04L636.83 455.64L634.71 457.04L635.39 454.6L633.4 453.02L635.94 452.91z" fill="none" stroke="#ff9933" stroke-width="0.9"/><path d="M640.64 460.71L641.52 463.09L644.06 463.2L642.07 464.78L642.75 467.22L640.64 465.82L638.52 467.22L639.2 464.78L637.21 463.2L639.75 463.09z" fill="none" stroke="#ff9933" stroke-width="0.9"/><path d="M644.44 460.31L645.33 462.69L647.87 462.8L645.88 464.38L646.56 466.83L644.44 465.43L642.33 466.83L643.01 464.38L641.02 462.8L643.56 462.69z" fill="none" stroke="#ff9933" stroke-width="0.9"/></g>
<g transform="translate(67 22.1) scale(1.3) translate(-67 -22.1)"><circle cx="67" cy="22.1" r="2.1" fill="#cc0000"/></g>
<g transform="translate(67 34) scale(1.3) translate(-67 -34)"><rect x="65" y="32" width="4" height="4" fill="#0000cc"/></g>
<g transform="translate(67 46) scale(1.3) translate(-67 -46)"><path d="M67 43.85l2.15 4.1h-4.3z" fill="#ff6600"/></g>
<g transform="translate(67 58) scale(1.3) translate(-67 -58)"><path d="M67 55.7l1.55 2.3l-1.55 2.3l-1.55 -2.3z" fill="#000"/></g>
<g transform="translate(67 69.8) scale(1.3) translate(-67 -69.8)"><path d="M64.65 69.8h4.7M67 67.25v5.1" stroke="#009900" stroke-width="1.75"/></g>
<g transform="translate(415.1 20.6) scale(1.3) translate(-415.1 -20.6)"><circle cx="415.1" cy="20.6" r="2.1" fill="#cc0000"/></g>
<g transform="translate(415.1 32.6) scale(1.3) translate(-415.1 -32.6)"><rect x="413.1" y="30.6" width="4" height="4" fill="#0000cc"/></g>
<g transform="translate(415.1 44.5) scale(1.3) translate(-415.1 -44.5)"><path d="M415.1 42.35l2.15 4.1h-4.3z" fill="#ff6600"/></g>
<g transform="translate(415.1 56.4) scale(1.3) translate(-415.1 -56.4)"><path d="M415.1 54.1l1.55 2.3l-1.55 2.3l-1.55 -2.3z" fill="#000"/></g>
<g transform="translate(415.1 68.2) scale(1.3) translate(-415.1 -68.2)"><path d="M412.75 68.2h4.7M415.1 65.65v5.1" stroke="#009900" stroke-width="1.75"/></g>
<circle cx="67.8" cy="314.8" r="2.9" fill="none" stroke="#ff2222" stroke-width="0.9"/>
<rect x="64.8" y="323.8" width="6" height="6" fill="none" stroke="#3333ff" stroke-width="0.9"/>
<path d="M67.8 335.6l3.2 6.08h-6.4z" fill="none" stroke="#cc22cc" stroke-width="0.9"/>
<path d="M67.8 347.7l2.2 3.3l-2.2 3.3l-2.2 -3.3z" fill="none" stroke="#000" stroke-width="0.9"/>
<path d="M66.5 359.6L69.1 359.6L69.1 361.9L71.4 361.9L71.4 364.5L69.1 364.5L69.1 366.8L66.5 366.8L66.5 364.5L64.2 364.5L64.2 361.9L66.5 361.9z" fill="none" stroke="#22cc22" stroke-width="0.9"/>
<path d="M67.8 371.7L68.69 374.08L71.22 374.19L69.24 375.77L69.92 378.21L67.8 376.81L65.68 378.21L66.36 375.77L64.38 374.19L66.91 374.08z" fill="none" stroke="#ff9933" stroke-width="0.9"/>
<circle cx="415.8" cy="314.8" r="2.9" fill="none" stroke="#ff2222" stroke-width="0.9"/>
<rect x="412.8" y="323.8" width="6" height="6" fill="none" stroke="#3333ff" stroke-width="0.9"/>
<path d="M415.8 335.6l3.2 6.08h-6.4z" fill="none" stroke="#cc22cc" stroke-width="0.9"/>
<path d="M415.8 347.7l2.2 3.3l-2.2 3.3l-2.2 -3.3z" fill="none" stroke="#000" stroke-width="0.9"/>
<path d="M414.5 359.6L417.1 359.6L417.1 361.9L419.4 361.9L419.4 364.5L417.1 364.5L417.1 366.8L414.5 366.8L414.5 364.5L412.2 364.5L412.2 361.9L414.5 361.9z" fill="none" stroke="#22cc22" stroke-width="0.9"/>
<path d="M415.8 371.7L416.69 374.08L419.22 374.19L417.24 375.77L417.92 378.21L415.8 376.81L413.68 378.21L414.36 375.77L412.38 374.19L414.91 374.08z" fill="none" stroke="#ff9933" stroke-width="0.9"/>
<g fill="none" stroke="#000" stroke-linecap="round"><path d="M171.23 255.87 C170.60 253.16 173.23 251.80 176.38 252.14 C179.64 252.37 180.90 253.61 180.06 255.53 C179.32 257.11 177.12 257.68 175.12 257.45" stroke-width="0.86"/><path d="M175.54 252.48 C175.22 256.88 173.96 261.52 171.97 262.76 C171.44 263.10 170.81 262.87 171.02 262.31" stroke-width="1.73"/><path d="M175.85 257.45 C177.12 258.81 177.54 262.54 179.01 262.87 C179.85 263.10 180.58 262.65 181.11 261.97" stroke-width="1.32"/></g>
<g fill="none" stroke="#000" stroke-linecap="round"><path d="M514.13 255.87 C513.50 253.16 516.13 251.80 519.28 252.14 C522.54 252.37 523.80 253.61 522.96 255.53 C522.22 257.11 520.02 257.68 518.02 257.45" stroke-width="0.86"/><path d="M518.44 252.48 C518.12 256.88 516.86 261.52 514.87 262.76 C514.34 263.10 513.71 262.87 513.92 262.31" stroke-width="1.73"/><path d="M518.75 257.45 C520.02 258.81 520.44 262.54 521.91 262.87 C522.75 263.10 523.48 262.65 524.01 261.97" stroke-width="1.32"/></g>
<g fill="none" stroke="#000" stroke-linecap="round"><path d="M165.71 536.82 C165.10 534.21 167.63 532.90 170.68 533.23 C173.82 533.44 175.03 534.64 174.22 536.50 C173.51 538.02 171.38 538.57 169.46 538.35" stroke-width="0.83"/><path d="M169.86 533.55 C169.56 537.80 168.34 542.27 166.42 543.47 C165.91 543.80 165.30 543.58 165.51 543.04" stroke-width="1.67"/><path d="M170.17 538.35 C171.38 539.66 171.79 543.25 173.21 543.58 C174.02 543.80 174.73 543.36 175.24 542.71" stroke-width="1.28"/></g>
<g fill="none" stroke="#000" stroke-linecap="round"><path d="M508.51 536.82 C507.90 534.21 510.43 532.90 513.48 533.23 C516.62 533.44 517.83 534.64 517.02 536.50 C516.31 538.02 514.18 538.57 512.26 538.35" stroke-width="0.83"/><path d="M512.66 533.55 C512.36 537.80 511.14 542.27 509.22 543.47 C508.71 543.80 508.10 543.58 508.31 543.04" stroke-width="1.67"/><path d="M512.97 538.35 C514.18 539.66 514.59 543.25 516.01 543.58 C516.82 543.80 517.53 543.36 518.04 542.71" stroke-width="1.28"/></g>
<g fill="none" stroke="#000" stroke-linecap="round"><path d="M3.75 96.54 C1.78 97.00 0.80 95.09 1.05 92.81 C1.21 90.44 2.11 89.53 3.51 90.14 C4.65 90.67 5.06 92.27 4.90 93.72" stroke-width="0.81"/><path d="M1.29 93.42 C4.49 93.64 7.85 94.56 8.75 96.01 C9.00 96.39 8.84 96.85 8.43 96.69" stroke-width="1.61"/><path d="M4.90 93.19 C5.88 92.27 8.59 91.97 8.84 90.90 C9.00 90.29 8.67 89.76 8.18 89.37" stroke-width="1.23"/></g>
<g fill="none" stroke="#000" stroke-linecap="round"><path d="M352.35 98.24 C350.38 98.70 349.40 96.79 349.65 94.51 C349.81 92.14 350.71 91.23 352.11 91.84 C353.25 92.37 353.66 93.97 353.50 95.42" stroke-width="0.81"/><path d="M349.89 95.12 C353.09 95.34 356.45 96.26 357.35 97.71 C357.60 98.09 357.44 98.55 357.03 98.39" stroke-width="1.61"/><path d="M353.50 94.89 C354.48 93.97 357.19 93.67 357.44 92.60 C357.60 91.99 357.27 91.46 356.78 91.07" stroke-width="1.23"/></g>
<g fill="none" stroke="#000" stroke-linecap="round"><path d="M12.14 386.18 C10.31 386.60 9.40 384.83 9.63 382.71 C9.78 380.52 10.62 379.67 11.91 380.24 C12.97 380.73 13.35 382.22 13.20 383.56" stroke-width="0.81"/><path d="M9.86 383.28 C12.82 383.49 15.94 384.34 16.77 385.68 C17.00 386.03 16.85 386.46 16.47 386.32" stroke-width="1.61"/><path d="M13.20 383.07 C14.11 382.22 16.62 381.94 16.85 380.95 C17.00 380.38 16.70 379.89 16.24 379.53" stroke-width="1.23"/></g>
<g fill="none" stroke="#000" stroke-linecap="round"><path d="M360.14 407.28 C358.31 407.70 357.40 405.93 357.63 403.81 C357.78 401.62 358.62 400.77 359.91 401.34 C360.97 401.83 361.35 403.32 361.20 404.66" stroke-width="0.81"/><path d="M357.86 404.38 C360.82 404.59 363.94 405.44 364.77 406.78 C365.00 407.13 364.85 407.56 364.47 407.42" stroke-width="1.61"/><path d="M361.20 404.17 C362.11 403.32 364.62 403.04 364.85 402.05 C365.00 401.48 364.70 400.99 364.24 400.63" stroke-width="1.23"/></g>
<path d="M258.6 55.75L259.5 54.74L260.4 60.6L261.3 50.5H269.3" fill="none" stroke="#000" stroke-width="0.95" stroke-linejoin="miter"/>
<path d="M605.3 55.4L606.2 54.42L607.2 60.1L608.1 50.3H616.1" fill="none" stroke="#000" stroke-width="0.95" stroke-linejoin="miter"/>
<path d="M237.4 368.08L238.3 367.18L239 372.4L239.9 363.4H247" fill="none" stroke="#000" stroke-width="0.85" stroke-linejoin="miter"/>
<path d="M585.7 368.08L586.6 367.18L587.2 372.4L588.1 363.4H595.2" fill="none" stroke="#000" stroke-width="0.85" stroke-linejoin="miter"/>
</g>
<g id="txt">
<text id="legA0" x="72" y="25.7" font-size="10" style="fill:#cc0000;">E = 30 GeV</text>
<text id="legA1" x="72.28" y="37.6" font-size="9.93" style="fill:#0000cc;">E = 60 GeV</text>
<text id="legA2" x="72.28" y="49.6" font-size="9.93" style="fill:#ff6600;">E = 110 GeV</text>
<text id="legA3" x="72.28" y="61.6" font-size="9.93" style="fill:#000;">E = 400 GeV</text>
<text id="legA4" x="72.28" y="73.4" font-size="9.93" style="fill:#009900;">E = 1200 GeV</text>
<text id="legB0" x="420.59" y="24.2" font-size="10" style="fill:#cc0000;">E = 30 GeV</text>
<text id="legB1" x="419.78" y="36.2" font-size="10.13" style="fill:#0000cc;">E = 60 GeV</text>
<text id="legB2" x="419.78" y="48.1" font-size="10.13" style="fill:#ff6600;">E = 110 GeV</text>
<text id="legB3" x="419.78" y="60" font-size="10.13" style="fill:#000;">E = 400 GeV</text>
<text id="legB4" x="419.78" y="71.8" font-size="10.13" style="fill:#009900;">E = 1200 GeV</text>
<text id="legC0" x="77.19" y="318" font-size="10.88">E = 200 GeV</text>
<text id="legC1" x="77.29" y="330" font-size="10.8">E = 400 GeV</text>
<text id="legC2" x="77.29" y="342" font-size="10.8">E = 600 GeV</text>
<text id="legC3" x="77.29" y="354.2" font-size="10.8">E = 800 GeV</text>
<text id="legC4" x="77.29" y="366.4" font-size="10.8">E = 1000 GeV</text>
<text id="legC5" x="77.29" y="378.5" font-size="10.8">E = 1500 GeV</text>
<text id="legD0" x="425.59" y="318" font-size="10.79">E = 200 GeV</text>
<text id="legD1" x="425.78" y="330" font-size="10.88">E = 400 GeV</text>
<text id="legD2" x="425.78" y="342" font-size="10.88">E = 600 GeV</text>
<text id="legD3" x="425.78" y="354.2" font-size="10.88">E = 800 GeV</text>
<text id="legD4" x="425.78" y="366.4" font-size="10.88">E = 1000 GeV</text>
<text id="legD5" x="425.78" y="378.5" font-size="10.88">E = 1500 GeV</text>
<text id="A1" x="201.58" y="23.5" font-size="14.44"><tspan font-weight="bold" font-style="italic">ATLAS</tspan></text>
<text id="A1s" x="253.24" y="23.5" font-size="13.61">Simulation</text>
<text id="A2" x="204.38" y="42.8" font-size="13.07">anti-k<tspan font-size="6.24" dy="2.73">T</tspan><tspan dy="-2.73">, R = 0.4, EM</tspan></text>
<text id="A3" x="174.99" y="60.2" font-size="12.95">Pythia8 dijets,</text>
<text id="A3s" x="262.59" y="60.2" font-size="12.77">s = 8 TeV</text>
<text id="B1" x="550.21" y="23.3" font-size="14.07"><tspan font-weight="bold" font-style="italic">ATLAS</tspan></text>
<text id="B1s" x="601.25" y="23.3" font-size="13.53">Simulation</text>
<text id="B2" x="541.38" y="41.4" font-size="13.22">anti-k<tspan font-size="6.24" dy="2.73">T</tspan><tspan dy="-2.73">, R = 0.4, LCW</tspan></text>
<text id="B3" x="519.39" y="58.9" font-size="13.38">Pythia8 dijets,</text>
<text id="B3s" x="609.89" y="58.9" font-size="12.81">s = 8 TeV</text>
<text id="C1" x="163.01" y="320.4" font-size="11.27"><tspan font-weight="bold" font-style="italic">ATLAS</tspan></text>
<text id="C1s" x="202.36" y="320.4" font-size="11.04">Simulation</text>
<text id="C2" x="163.85" y="339.3" font-size="11.46">anti-k<tspan font-size="5.23" dy="2.29">T</tspan><tspan dy="-2.29">, R = 1.0, LCW</tspan></text>
<text id="C3" x="163.39" y="354.2" font-size="10.77">Trimmed (f<tspan font-size="6.98" dy="4.58">cut</tspan><tspan dy="-4.58"> = 0.05, R</tspan><tspan font-size="6.98" dy="4.58">sub</tspan><tspan dy="-4.58"> = 0.3)</tspan></text>
<text id="C4" x="162.83" y="371.9" font-size="11.59">Pythia8 dijets,</text>
<text id="C4s" x="241.35" y="371.9" font-size="11.44">s = 8 TeV</text>
<text id="D1" x="510.58" y="320.4" font-size="11.34"><tspan font-weight="bold" font-style="italic">ATLAS</tspan></text>
<text id="D1s" x="550.97" y="320.4" font-size="10.69">Simulation</text>
<text id="D2" x="511.84" y="339.3" font-size="11.42">anti-k<tspan font-size="5.23" dy="2.29">T</tspan><tspan dy="-2.29">, R = 1.0, LCW</tspan></text>
<text id="D3" x="510.78" y="354.2" font-size="10.86">Trimmed (f<tspan font-size="6.98" dy="4.58">cut</tspan><tspan dy="-4.58"> = 0.05, R</tspan><tspan font-size="6.98" dy="4.58">sub</tspan><tspan dy="-4.58"> = 0.3)</tspan></text>
<text id="D4" x="510.65" y="371.9" font-size="11.7">Pythia8 dijets,</text>
<text id="D4s" x="589.59" y="371.9" font-size="10.95">s = 8 TeV</text>
<text id="yA1" transform="translate(8.8 192.57) rotate(-90)" font-size="11.74">Energy Response</text>
<text id="yA2" transform="translate(10.4 85.6) rotate(-90)" font-size="8.6" style="font-family:'Liberation Serif', serif;font-style:italic">E</text>
<text id="yA3" transform="translate(8.8 75.5) rotate(-90)" font-size="11.61">at EM Scale</text>
<text id="yB1" transform="translate(356.7 194.04) rotate(-90)" font-size="11.89">Energy Response</text>
<text id="yB2" transform="translate(359 88) rotate(-90)" font-size="8.6" style="font-family:'Liberation Serif', serif;font-style:italic">E</text>
<text id="yB3" transform="translate(356.7 78.22) rotate(-90)" font-size="11.43">at LCW Scale</text>
<text id="yC1" transform="translate(16.9 473.02) rotate(-90)" font-size="10.38">Energy Response</text>
<text id="yC2" transform="translate(18.2 376.2) rotate(-90)" font-size="8" style="font-family:'Liberation Serif', serif;font-style:italic">E</text>
<text id="yC3" transform="translate(16.9 367.54) rotate(-90)" font-size="10.57">at LCW Scale</text>
<text id="yD1" transform="translate(365 486.04) rotate(-90)" font-size="10.46">Mass Response</text>
<text id="yD2" transform="translate(366.3 397) rotate(-90)" font-size="8" style="font-family:'Liberation Serif', serif;font-style:italic">m</text>
<text id="yD3" transform="translate(365 387.54) rotate(-90)" font-size="10.42">at LCW+JES Scale</text>
<text id="eA" x="317.45" y="230.6" font-size="12">η<tspan font-size="7.92" dy="5.4">det</tspan></text>
<text id="eB" x="666.45" y="230.2" font-size="12">η<tspan font-size="7.92" dy="5.4">det</tspan></text>
<text id="eC" x="301.32" y="510.2" font-size="12.4">η<tspan font-size="8.18" dy="6.7">det</tspan></text>
<text id="eD" x="649.88" y="510.2" font-size="12.4">η<tspan font-size="8.18" dy="6.7">det</tspan></text>
<text id="ca1" x="20.99" y="262.8" font-size="15.61" style="font-family:'Liberation Serif', serif"><tspan font-weight="bold">(a)</tspan> Jet energy response</text>
<text id="ca2" x="182.1" y="264.9" font-size="12" style="font-family:'Liberation Serif', serif;font-style:italic">E</text>
<text id="ca3" x="191.79" y="262.8" font-size="16.03" style="font-family:'Liberation Serif', serif">, EM scale, <tspan font-style="italic">R</tspan> = 0.4</text>
<text id="cb1" x="363.5" y="262.8" font-size="15.67" style="font-family:'Liberation Serif', serif"><tspan font-weight="bold">(b)</tspan> Jet energy response</text>
<text id="cb2" x="525.1" y="264.9" font-size="12" style="font-family:'Liberation Serif', serif;font-style:italic">E</text>
<text id="cb3" x="534.77" y="262.8" font-size="16.01" style="font-family:'Liberation Serif', serif">, LCW scale, <tspan font-style="italic">R</tspan> = 0.4</text>
<text id="cc1" x="16.97" y="543.5" font-size="15.68" style="font-family:'Liberation Serif', serif"><tspan font-weight="bold">(c)</tspan> Jet energy response</text>
<text id="cc2" x="177.1" y="545.9" font-size="12" style="font-family:'Liberation Serif', serif;font-style:italic">E</text>
<text id="cc3" x="185.25" y="543.5" font-size="16.27" style="font-family:'Liberation Serif', serif">, LCW scale, <tspan font-style="italic">R</tspan> = 1.0</text>
<text id="cd1" x="367.01" y="543.5" font-size="15.99" style="font-family:'Liberation Serif', serif"><tspan font-weight="bold">(d)</tspan> Jet mass response</text>
<text id="cd2" x="518.6" y="545.6" font-size="12" style="font-family:'Liberation Serif', serif;font-style:italic">m</text>
<text id="cd3" x="528.74" y="543.5" font-size="16.18" style="font-family:'Liberation Serif', serif">, LCW scale, <tspan font-style="italic">R</tspan> = 1.0</text>
</g>
</svg></body></html>
